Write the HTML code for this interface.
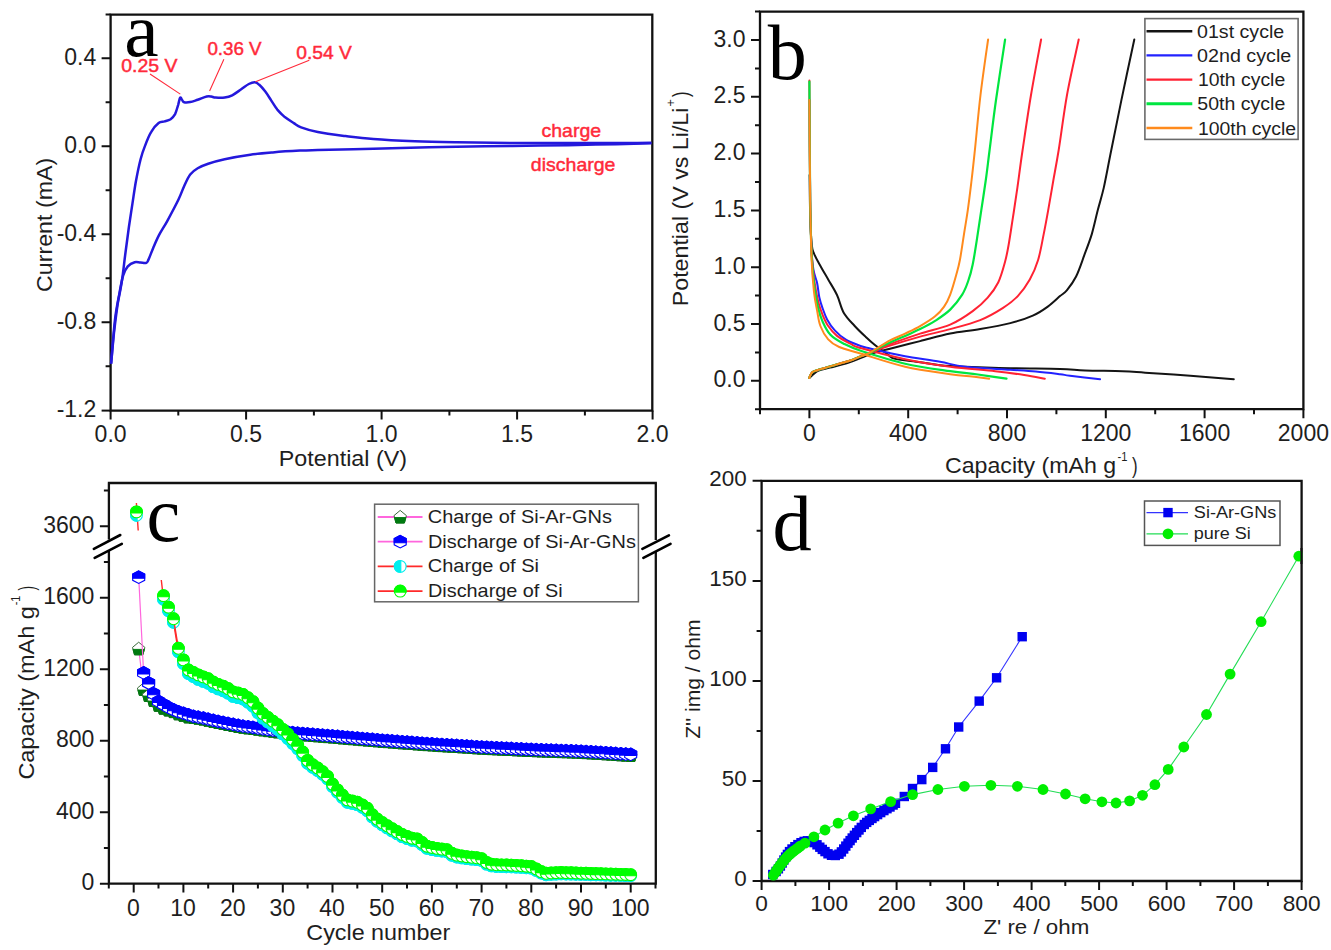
<!DOCTYPE html>
<html><head><meta charset="utf-8"><title>Figure</title>
<style>html,body{margin:0;padding:0;background:#fff;}svg{display:block;}
</style></head>
<body><svg width="1331" height="950" viewBox="0 0 1331 950" font-family="Liberation Sans, sans-serif">
<rect width="1331" height="950" fill="#fff"/>
<path d="M110.6,14.6 H652.3 V410.6 H110.6 Z" stroke="#111" stroke-width="2.3" fill="none"/>
<path d="M101.6,58.2H110.6M101.6,146.2H110.6M101.6,234.2H110.6M101.6,322.2H110.6M105.6,102.2H110.6M105.6,190.2H110.6M105.6,278.2H110.6M105.6,366.2H110.6M105.6,14.6H110.6" stroke="#111" stroke-width="2"/>
<path d="M101.6,410.6H110.6" stroke="#111" stroke-width="2"/>
<path d="M110.6,410.6V419.6M246.1,410.6V419.6M381.6,410.6V419.6M517.1,410.6V419.6M652.6,410.6V419.6M178.3,410.6V415.6M313.9,410.6V415.6M449.4,410.6V415.6M584.9,410.6V415.6" stroke="#111" stroke-width="2"/>
<text transform="translate(96.30,64.60) scale(1.0000,1)" font-size="23.00" text-anchor="end" fill="#1e1e1e" font-family="Liberation Sans">0.4</text>
<text transform="translate(96.30,152.60) scale(1.0000,1)" font-size="23.00" text-anchor="end" fill="#1e1e1e" font-family="Liberation Sans">0.0</text>
<text transform="translate(96.30,240.60) scale(1.0000,1)" font-size="23.00" text-anchor="end" fill="#1e1e1e" font-family="Liberation Sans">-0.4</text>
<text transform="translate(96.30,328.60) scale(1.0000,1)" font-size="23.00" text-anchor="end" fill="#1e1e1e" font-family="Liberation Sans">-0.8</text>
<text transform="translate(96.30,416.60) scale(1.0000,1)" font-size="23.00" text-anchor="end" fill="#1e1e1e" font-family="Liberation Sans">-1.2</text>
<text transform="translate(110.60,441.60) scale(1.0000,1)" font-size="23.00" text-anchor="middle" fill="#1e1e1e" font-family="Liberation Sans">0.0</text>
<text transform="translate(246.10,441.60) scale(1.0000,1)" font-size="23.00" text-anchor="middle" fill="#1e1e1e" font-family="Liberation Sans">0.5</text>
<text transform="translate(381.60,441.60) scale(1.0000,1)" font-size="23.00" text-anchor="middle" fill="#1e1e1e" font-family="Liberation Sans">1.0</text>
<text transform="translate(517.10,441.60) scale(1.0000,1)" font-size="23.00" text-anchor="middle" fill="#1e1e1e" font-family="Liberation Sans">1.5</text>
<text transform="translate(652.60,441.60) scale(1.0000,1)" font-size="23.00" text-anchor="middle" fill="#1e1e1e" font-family="Liberation Sans">2.0</text>
<text transform="translate(278.78,466.30) scale(1.0228,1)" font-size="22.80" fill="#1e1e1e" font-family="Liberation Sans">Potential (V)</text>
<text transform="translate(52.20,291.91) rotate(-90) scale(1.0181,1)" font-size="22.80" fill="#1e1e1e" font-family="Liberation Sans">Current (mA)</text>
<text transform="translate(124.14,55.60) scale(1.0061,1)" font-size="77.00" fill="#000" font-family="Liberation Serif">a</text>
<path d="M111.1,363.6 C111.6,358.6 112.9,343.1 113.9,333.5 C115.0,323.9 116.1,314.6 117.4,305.7 C118.8,296.8 120.7,289.2 122.0,280.3 C123.3,271.4 124.3,261.4 125.5,252.5 C126.7,243.6 127.8,235.1 128.9,227.0 C130.1,218.9 131.2,211.7 132.4,203.9 C133.6,196.1 134.7,187.6 136.1,180.2 C137.5,172.8 139.1,165.0 140.6,159.2 C142.1,153.4 143.3,150.1 145.1,145.6 C146.8,141.1 148.8,135.8 151.1,132.1 C153.3,128.3 156.3,124.9 158.6,123.1 C160.8,121.3 162.6,122.1 164.6,121.4 C166.6,120.8 168.8,120.4 170.6,119.2 C172.3,118.0 173.8,116.4 175.1,114.1 C176.3,111.8 177.2,107.8 178.1,105.1 C178.9,102.3 179.5,98.5 180.2,97.6 C180.8,96.7 181.3,99.0 182.0,99.8 C182.7,100.6 182.7,101.8 184.1,102.2 C185.5,102.6 187.9,102.5 190.2,102.1 C192.5,101.7 194.9,100.7 197.7,99.8 C200.4,98.9 204.4,97.0 206.7,96.5 C208.9,96.0 209.7,96.3 211.2,96.5 C212.7,96.7 213.4,97.4 215.7,97.6 C217.9,97.8 221.9,98.0 224.7,97.6 C227.4,97.2 229.4,96.7 232.2,95.3 C234.9,93.9 238.4,91.2 241.2,89.3 C244.0,87.4 246.5,85.2 248.8,84.0 C251.1,82.8 253.1,82.1 254.8,82.2 C256.6,82.3 257.6,83.2 259.3,84.8 C261.1,86.4 263.3,89.0 265.3,91.6 C267.3,94.2 269.3,97.6 271.3,100.6 C273.3,103.6 275.1,106.8 277.3,109.6 C279.6,112.3 282.1,114.8 284.8,117.1 C287.6,119.3 291.1,121.4 293.8,123.1 C296.5,124.8 297.1,125.8 301.1,127.3 C305.1,128.8 310.4,130.5 317.8,132.0 C325.2,133.5 336.3,134.9 345.6,136.1 C354.9,137.2 361.8,138.1 373.4,138.9 C385.0,139.8 401.2,140.6 415.1,141.2 C429.0,141.8 440.6,142.0 456.8,142.3 C473.0,142.6 493.9,142.9 512.4,143.0 C530.9,143.1 549.5,143.1 568.0,143.1 C586.5,143.1 609.7,143.1 623.6,143.1 C637.5,143.1 646.8,142.9 651.4,142.8" stroke="#2418dc" stroke-width="2.5" fill="none" stroke-linejoin="round"/>
<path d="M651.4,143.3 C642.1,143.5 614.3,144.2 595.8,144.6 C577.3,145.0 558.7,145.3 540.2,145.6 C521.7,145.9 503.1,145.9 484.6,146.2 C466.1,146.5 447.5,146.9 429.0,147.3 C410.5,147.7 391.9,148.2 373.4,148.7 C354.9,149.1 330.0,149.7 317.8,150.0 C305.6,150.3 307.5,150.2 300.0,150.6 C292.5,151.0 281.1,151.7 272.8,152.4 C264.5,153.1 258.3,153.6 250.3,154.7 C242.3,155.8 231.7,157.7 224.7,159.2 C217.7,160.7 212.7,162.2 208.2,163.7 C203.7,165.2 200.7,166.4 197.7,168.2 C194.7,170.0 192.5,171.4 190.2,174.4 C187.9,177.4 186.0,182.0 184.1,186.2 C182.2,190.4 181.3,193.7 178.5,199.5 C175.7,205.3 170.3,215.4 167.1,221.3 C163.8,227.2 161.3,230.7 159.0,235.1 C156.7,239.5 154.9,243.9 153.2,247.9 C151.5,251.9 149.8,256.9 148.6,259.4 C147.4,261.9 147.7,262.4 146.3,262.9 C145.0,263.4 142.4,262.7 140.5,262.6 C138.6,262.5 136.8,261.6 134.7,262.2 C132.6,262.8 129.7,264.2 127.8,266.4 C125.9,268.6 124.4,271.4 123.1,275.6 C121.8,279.9 121.0,284.6 119.7,291.9 C118.4,299.2 116.4,307.7 115.0,319.6 C113.6,331.6 111.8,356.3 111.1,363.6" stroke="#2418dc" stroke-width="2.5" fill="none" stroke-linejoin="round"/>
<path d="M150,74 L180.3,94.1 M223.9,59.3 L209.6,90.9 M309.3,60.3 L255.5,81.8" stroke="#ff2a3a" stroke-width="1.1" fill="none"/>
<text transform="translate(121.17,71.90) scale(1.0699,1)" font-size="18.20" fill="#ff2a3a" font-family="Liberation Sans" stroke="#ff2a3a" stroke-width="0.45">0.25 V</text>
<text transform="translate(207.40,54.60) scale(1.0313,1)" font-size="18.20" fill="#ff2a3a" font-family="Liberation Sans" stroke="#ff2a3a" stroke-width="0.45">0.36 V</text>
<text transform="translate(296.28,58.50) scale(1.0564,1)" font-size="18.20" fill="#ff2a3a" font-family="Liberation Sans" stroke="#ff2a3a" stroke-width="0.45">0.54 V</text>
<text transform="translate(541.57,137.10) scale(1.0693,1)" font-size="18.20" fill="#ff2a3a" font-family="Liberation Sans" stroke="#ff2a3a" stroke-width="0.45">charge</text>
<text transform="translate(530.87,171.20) scale(1.0718,1)" font-size="18.20" fill="#ff2a3a" font-family="Liberation Sans" stroke="#ff2a3a" stroke-width="0.45">discharge</text>
<path d="M760.0,11.6 H1303.4 V409.2 H760.0 Z" stroke="#111" stroke-width="2.3" fill="none"/>
<path d="M751.0,380.8H760.0M751.0,324.0H760.0M751.0,267.2H760.0M751.0,210.4H760.0M751.0,153.6H760.0M751.0,96.8H760.0M751.0,40.0H760.0M755.0,409.2H760.0M755.0,352.4H760.0M755.0,295.6H760.0M755.0,238.8H760.0M755.0,182.0H760.0M755.0,125.2H760.0M755.0,68.4H760.0M755.0,11.6H760.0" stroke="#111" stroke-width="2"/>
<path d="M809.4,409.2V418.2M908.2,409.2V418.2M1007.0,409.2V418.2M1105.8,409.2V418.2M1204.6,409.2V418.2M1303.4,409.2V418.2M760.0,409.2V414.2M858.8,409.2V414.2M957.6,409.2V414.2M1056.4,409.2V414.2M1155.2,409.2V414.2M1254.0,409.2V414.2" stroke="#111" stroke-width="2"/>
<text transform="translate(745.50,387.40) scale(1.0000,1)" font-size="23.00" text-anchor="end" fill="#1e1e1e" font-family="Liberation Sans">0.0</text>
<text transform="translate(745.50,330.60) scale(1.0000,1)" font-size="23.00" text-anchor="end" fill="#1e1e1e" font-family="Liberation Sans">0.5</text>
<text transform="translate(745.50,273.80) scale(1.0000,1)" font-size="23.00" text-anchor="end" fill="#1e1e1e" font-family="Liberation Sans">1.0</text>
<text transform="translate(745.50,217.00) scale(1.0000,1)" font-size="23.00" text-anchor="end" fill="#1e1e1e" font-family="Liberation Sans">1.5</text>
<text transform="translate(745.50,160.20) scale(1.0000,1)" font-size="23.00" text-anchor="end" fill="#1e1e1e" font-family="Liberation Sans">2.0</text>
<text transform="translate(745.50,103.40) scale(1.0000,1)" font-size="23.00" text-anchor="end" fill="#1e1e1e" font-family="Liberation Sans">2.5</text>
<text transform="translate(745.50,46.60) scale(1.0000,1)" font-size="23.00" text-anchor="end" fill="#1e1e1e" font-family="Liberation Sans">3.0</text>
<text transform="translate(809.40,440.60) scale(1.0000,1)" font-size="23.00" text-anchor="middle" fill="#1e1e1e" font-family="Liberation Sans">0</text>
<text transform="translate(908.20,440.60) scale(1.0000,1)" font-size="23.00" text-anchor="middle" fill="#1e1e1e" font-family="Liberation Sans">400</text>
<text transform="translate(1007.00,440.60) scale(1.0000,1)" font-size="23.00" text-anchor="middle" fill="#1e1e1e" font-family="Liberation Sans">800</text>
<text transform="translate(1105.80,440.60) scale(1.0000,1)" font-size="23.00" text-anchor="middle" fill="#1e1e1e" font-family="Liberation Sans">1200</text>
<text transform="translate(1204.60,440.60) scale(1.0000,1)" font-size="23.00" text-anchor="middle" fill="#1e1e1e" font-family="Liberation Sans">1600</text>
<text transform="translate(1303.40,440.60) scale(1.0000,1)" font-size="23.00" text-anchor="middle" fill="#1e1e1e" font-family="Liberation Sans">2000</text>
<text transform="translate(944.99,473.20) scale(1.0165,1)" font-size="22.80" fill="#1e1e1e" font-family="Liberation Sans">Capacity (mAh g</text>
<text transform="translate(1117.55,460.60) scale(0.8900,1)" font-size="12.50" fill="#1e1e1e" font-family="Liberation Sans">-1</text>
<text transform="translate(1132.08,473.20) scale(0.7422,1)" font-size="22.80" fill="#1e1e1e" font-family="Liberation Sans">)</text>
<text transform="translate(688.30,306.21) rotate(-90) scale(1.0179,1)" font-size="22.80" fill="#1e1e1e" font-family="Liberation Sans">Potential (V vs Li/Li</text>
<text transform="translate(675.20,106.38) rotate(-90) scale(1.0062,1)" font-size="12.50" fill="#1e1e1e" font-family="Liberation Sans">+</text>
<text transform="translate(688.30,96.92) rotate(-90) scale(0.7254,1)" font-size="22.80" fill="#1e1e1e" font-family="Liberation Sans">)</text>
<text transform="translate(767.85,79.10) scale(0.9879,1)" font-size="79.00" fill="#000" font-family="Liberation Serif">b</text>
<path d="M809.6,175.0 C809.7,182.5 809.9,208.3 810.3,220.0 C810.7,231.7 811.2,239.5 811.8,245.0 C812.4,250.5 812.5,249.8 813.8,253.0 C815.0,256.2 816.9,259.6 819.3,264.0 C821.7,268.4 825.2,274.3 828.2,279.5 C831.2,284.7 834.4,289.5 837.0,295.0 C839.6,300.5 840.8,307.5 843.7,312.7 C846.7,317.9 851.0,321.9 854.7,326.0 C858.4,330.1 862.5,333.9 865.8,337.0 C869.1,340.1 871.0,341.9 874.6,344.8 C878.2,347.7 884.0,351.9 887.4,354.2 C890.8,356.5 889.8,357.6 895.2,358.9 C900.7,360.2 912.6,361.1 920.1,362.2 C927.6,363.2 932.5,364.4 940.0,365.2 C947.5,365.9 953.5,366.2 965.2,366.7 C976.9,367.2 994.5,367.8 1010.3,368.2 C1026.1,368.6 1047.5,368.5 1060.0,368.9 C1072.5,369.3 1074.7,370.0 1085.1,370.4 C1095.5,370.8 1112.6,370.8 1122.6,371.2 C1132.6,371.6 1133.9,371.9 1145.2,372.7 C1156.5,373.4 1175.5,374.6 1190.3,375.7 C1205.1,376.8 1226.5,378.6 1233.8,379.2" stroke="#141414" stroke-width="2.0" fill="none" stroke-linejoin="round" stroke-linecap="round"/>
<path d="M809.2,378.0 C810.7,376.8 814.5,372.5 818.0,370.8 C821.5,369.1 825.0,368.9 830.0,367.6 C835.0,366.3 842.6,364.6 848.1,362.8 C853.6,361.0 858.6,358.7 863.1,357.0 C867.6,355.3 870.5,353.9 875.0,352.5 C879.5,351.1 882.5,350.6 890.0,348.7 C897.5,346.8 910.1,343.6 920.1,341.1 C930.1,338.6 940.2,335.6 950.2,333.6 C960.2,331.6 970.2,330.9 980.2,329.1 C990.2,327.4 1001.5,325.4 1010.3,323.1 C1019.1,320.9 1026.5,318.4 1032.8,315.6 C1039.0,312.9 1043.3,309.9 1047.8,306.6 C1052.3,303.4 1056.8,298.9 1060.0,296.1 C1063.2,293.4 1064.3,293.4 1067.0,290.1 C1069.7,286.8 1073.2,282.3 1076.1,276.5 C1079.0,270.7 1081.7,262.3 1084.3,255.2 C1086.9,248.1 1089.5,241.6 1091.8,234.1 C1094.0,226.6 1095.8,217.8 1097.8,210.1 C1099.8,202.3 1101.5,197.6 1103.8,187.6 C1106.0,177.6 1108.3,164.7 1111.3,150.0 C1114.2,135.3 1117.7,118.0 1121.5,99.6 C1125.3,81.2 1132.2,49.5 1134.3,39.5" stroke="#141414" stroke-width="2.0" fill="none" stroke-linejoin="round" stroke-linecap="round"/>
<path d="M809.5,100.0 C809.6,116.7 809.9,175.0 810.2,200.0 C810.5,225.0 811.0,238.3 811.5,250.0 C812.0,261.7 812.6,264.5 813.5,270.0 C814.4,275.5 816.1,278.5 817.1,283.0 C818.1,287.5 818.4,293.0 819.3,297.2 C820.2,301.4 821.3,304.6 822.6,308.3 C823.9,312.0 825.1,315.7 827.1,319.4 C829.1,323.1 831.7,327.0 834.8,330.4 C837.9,333.8 841.5,337.0 845.9,339.7 C850.3,342.4 857.4,344.8 861.4,346.3 C865.4,347.8 865.7,347.5 870.0,348.5 C874.3,349.5 881.5,351.2 887.4,352.5 C893.2,353.8 896.3,354.6 905.1,356.2 C913.9,357.8 930.0,360.1 940.0,361.8 C950.0,363.6 953.5,365.4 965.2,366.7 C976.9,368.0 998.5,368.9 1010.3,369.7 C1022.1,370.5 1027.5,370.8 1035.8,371.5 C1044.1,372.2 1054.3,373.5 1060.0,374.2 C1065.7,374.9 1063.3,374.9 1070.0,375.7 C1076.7,376.5 1095.1,378.6 1100.1,379.2" stroke="#2222ff" stroke-width="2.0" fill="none" stroke-linejoin="round" stroke-linecap="round"/>
<path d="M809.2,377.9 C809.7,377.0 810.7,373.8 812.0,372.5 C813.3,371.2 815.1,370.9 817.1,370.2 C819.1,369.5 820.8,369.1 824.0,368.2 C827.2,367.3 831.7,365.9 836.1,364.6 C840.5,363.3 846.3,361.8 850.3,360.5 C854.3,359.2 857.1,357.7 860.1,356.6 C863.1,355.5 865.5,354.6 868.0,353.7 C870.5,352.8 871.3,352.4 875.0,351.0 C878.7,349.6 882.5,348.0 890.0,345.6 C897.5,343.2 910.1,339.4 920.1,336.6 C930.1,333.9 940.2,331.9 950.2,329.1 C960.2,326.4 971.5,323.6 980.2,320.1 C989.0,316.6 996.4,312.1 1002.7,308.1 C1009.0,304.1 1013.3,300.9 1017.8,296.1 C1022.3,291.3 1026.4,285.5 1029.8,279.5 C1033.2,273.5 1035.8,267.6 1038.1,260.0 C1040.4,252.4 1042.0,242.4 1043.7,234.1 C1045.4,225.8 1046.6,219.1 1048.2,210.1 C1049.8,201.1 1051.7,190.0 1053.4,180.0 C1055.2,170.0 1056.4,164.2 1058.7,150.0 C1061.0,135.8 1063.7,113.4 1067.0,95.0 C1070.3,76.6 1076.8,48.8 1078.7,39.5" stroke="#ff2233" stroke-width="2.0" fill="none" stroke-linejoin="round" stroke-linecap="round"/>
<path d="M809.4,80.6 C809.5,100.5 809.8,170.9 810.2,200.0 C810.6,229.1 811.1,241.3 811.8,255.0 C812.5,268.7 813.4,274.2 814.5,282.0 C815.6,289.8 816.9,296.2 818.2,301.7 C819.6,307.2 820.9,310.8 822.6,314.9 C824.3,318.9 825.8,322.5 828.2,326.0 C830.6,329.5 833.3,332.9 837.0,335.9 C840.7,338.8 846.2,341.6 850.3,343.7 C854.4,345.8 852.3,345.7 861.4,348.3 C870.5,350.9 890.3,356.1 905.1,359.2 C919.9,362.3 935.2,364.7 950.2,366.7 C965.2,368.7 982.9,369.8 995.2,371.2 C1007.5,372.6 1015.9,373.8 1024.2,375.0 C1032.5,376.2 1041.4,378.1 1044.8,378.7" stroke="#ff2233" stroke-width="2.0" fill="none" stroke-linejoin="round" stroke-linecap="round"/>
<path d="M809.2,377.9 C809.7,377.0 810.7,373.8 812.0,372.5 C813.3,371.2 815.1,370.9 817.1,370.2 C819.1,369.5 820.8,369.1 824.0,368.2 C827.2,367.3 831.7,365.9 836.1,364.6 C840.5,363.3 846.3,361.8 850.3,360.5 C854.3,359.2 857.1,357.7 860.1,356.6 C863.1,355.5 865.5,354.7 868.0,353.7 C870.5,352.7 871.3,352.1 875.0,350.5 C878.7,348.9 882.5,346.9 890.0,344.1 C897.5,341.3 910.1,336.9 920.1,333.6 C930.1,330.4 941.4,328.4 950.2,324.6 C959.0,320.9 966.5,315.6 972.7,311.1 C979.0,306.6 983.5,302.4 987.7,297.6 C992.0,292.8 995.3,288.4 998.2,282.5 C1001.1,276.6 1003.3,268.2 1005.0,262.0 C1006.7,255.8 1007.3,252.4 1008.6,245.0 C1009.9,237.6 1011.4,227.2 1012.9,217.6 C1014.4,208.0 1015.8,198.9 1017.4,187.6 C1019.0,176.3 1020.3,165.4 1022.6,150.0 C1024.9,134.6 1027.9,113.4 1031.0,95.0 C1034.1,76.6 1039.4,48.8 1041.1,39.5" stroke="#ff2233" stroke-width="2.0" fill="none" stroke-linejoin="round" stroke-linecap="round"/>
<path d="M809.4,81.5 C809.5,101.2 809.8,170.6 810.2,200.0 C810.6,229.4 811.1,243.3 811.8,258.0 C812.5,272.7 813.4,279.6 814.5,288.0 C815.6,296.4 816.9,302.7 818.2,308.3 C819.6,313.9 820.6,317.2 822.6,321.6 C824.6,326.0 826.9,331.1 830.4,334.8 C833.9,338.5 838.5,341.0 843.7,343.7 C848.9,346.4 851.2,347.7 861.4,351.0 C871.6,354.3 890.3,360.3 905.1,363.7 C919.9,367.1 938.1,369.4 950.2,371.2 C962.3,373.0 968.5,373.2 977.9,374.5 C987.3,375.8 1001.7,378.0 1006.5,378.7" stroke="#00e640" stroke-width="2.2" fill="none" stroke-linejoin="round" stroke-linecap="round"/>
<path d="M809.2,377.9 C809.7,377.0 810.7,373.8 812.0,372.5 C813.3,371.2 815.1,370.9 817.1,370.2 C819.1,369.5 820.8,369.1 824.0,368.2 C827.2,367.3 831.7,365.9 836.1,364.6 C840.5,363.3 846.3,361.8 850.3,360.5 C854.3,359.2 857.1,357.7 860.1,356.6 C863.1,355.5 865.5,354.8 868.0,353.7 C870.5,352.6 871.3,351.9 875.0,350.0 C878.7,348.1 885.0,345.0 890.0,342.6 C895.0,340.2 900.1,338.1 905.1,335.9 C910.1,333.6 915.1,331.6 920.1,329.1 C925.1,326.6 930.1,324.1 935.1,320.9 C940.1,317.6 945.7,314.0 950.2,309.6 C954.7,305.2 959.2,299.4 962.2,294.6 C965.2,289.8 966.5,286.0 968.2,281.0 C970.0,276.0 971.3,271.3 972.7,264.5 C974.1,257.7 975.4,249.3 976.8,240.2 C978.2,231.1 979.8,220.1 981.3,210.1 C982.8,200.1 984.4,190.0 985.8,180.0 C987.2,170.0 987.9,163.3 989.6,150.0 C991.3,136.7 993.4,118.4 996.0,100.0 C998.6,81.6 1003.6,49.6 1005.1,39.5" stroke="#00e640" stroke-width="2.2" fill="none" stroke-linejoin="round" stroke-linecap="round"/>
<path d="M809.4,100.0 C809.5,116.7 809.8,173.3 810.2,200.0 C810.6,226.7 811.0,244.7 811.6,260.0 C812.2,275.3 813.1,283.6 814.0,292.0 C814.9,300.4 816.0,304.8 817.1,310.5 C818.2,316.2 818.5,321.2 820.4,326.0 C822.2,330.8 825.1,335.8 828.2,339.3 C831.3,342.8 833.7,344.6 839.2,347.0 C844.7,349.4 850.4,350.5 861.4,353.8 C872.4,357.1 890.3,363.3 905.1,366.7 C919.9,370.1 939.0,372.5 950.2,374.2 C961.4,375.9 965.6,375.9 972.1,376.6 C978.6,377.4 986.4,378.4 989.2,378.7" stroke="#ff8a1c" stroke-width="2.0" fill="none" stroke-linejoin="round" stroke-linecap="round"/>
<path d="M809.2,377.9 C809.7,377.0 810.7,373.8 812.0,372.5 C813.3,371.2 815.1,370.9 817.1,370.2 C819.1,369.5 820.8,369.1 824.0,368.2 C827.2,367.3 831.7,365.9 836.1,364.6 C840.5,363.3 846.3,361.8 850.3,360.5 C854.3,359.2 857.1,357.7 860.1,356.6 C863.1,355.5 865.5,354.9 868.0,353.7 C870.5,352.5 871.3,351.7 875.0,349.5 C878.7,347.3 885.0,343.0 890.0,340.4 C895.0,337.8 900.1,336.0 905.1,333.6 C910.1,331.2 915.1,329.0 920.1,326.1 C925.1,323.2 931.1,319.6 935.1,316.3 C939.1,313.1 941.6,310.2 944.1,306.6 C946.6,303.0 948.2,299.9 950.2,294.6 C952.2,289.3 954.6,280.8 956.2,275.0 C957.8,269.2 958.6,266.8 959.9,260.0 C961.2,253.2 962.7,242.4 964.0,234.1 C965.3,225.8 966.5,219.1 967.8,210.1 C969.1,201.1 970.4,190.0 971.6,180.0 C972.8,170.0 973.4,164.2 974.9,150.0 C976.4,135.8 978.3,113.4 980.5,95.0 C982.7,76.6 986.8,48.8 988.1,39.5" stroke="#ff8a1c" stroke-width="2.0" fill="none" stroke-linejoin="round" stroke-linecap="round"/>
<rect x="1144.9" y="18.6" width="153.2" height="120.8" fill="#fff" stroke="#6a6a6a" stroke-width="1.6"/>
<path d="M1146.5,31.2 H1192.3" stroke="#141414" stroke-width="2.4"/>
<text transform="translate(1197.07,37.80) scale(1.1142,1)" font-size="17.60" fill="#1e1e1e" font-family="Liberation Sans">01st cycle</text>
<path d="M1146.5,55.4 H1192.3" stroke="#2222ff" stroke-width="2.4"/>
<text transform="translate(1197.06,62.00) scale(1.1194,1)" font-size="17.60" fill="#1e1e1e" font-family="Liberation Sans">02nd cycle</text>
<path d="M1146.5,79.6 H1192.3" stroke="#ff2233" stroke-width="2.4"/>
<text transform="translate(1197.89,86.20) scale(1.1026,1)" font-size="17.60" fill="#1e1e1e" font-family="Liberation Sans">10th cycle</text>
<path d="M1146.5,103.8 H1192.3" stroke="#00e640" stroke-width="3.0"/>
<text transform="translate(1197.37,110.40) scale(1.1093,1)" font-size="17.60" fill="#1e1e1e" font-family="Liberation Sans">50th cycle</text>
<path d="M1146.5,128.0 H1192.3" stroke="#ff8a1c" stroke-width="2.4"/>
<text transform="translate(1197.89,134.60) scale(1.1030,1)" font-size="17.60" fill="#1e1e1e" font-family="Liberation Sans">100th cycle</text>
<path d="M107.8,483.0 H656.9 M107.8,883.6 H656.9 M108.9,483.0 V539.5 M108.9,551 V883.6 M655.8,483.0 V540 M655.8,552 V883.6" stroke="#111" stroke-width="2.3" fill="none"/>
<path d="M93.9,548.9 L120.3,535 M94.7,557.9 L121.8,543.9 M642.4,548.9 L668.9,535.3 M643.4,557.9 L670.5,543.9" stroke="#000" stroke-width="2.6" stroke-linecap="round"/>
<path d="M99.9,526.2H108.9M99.9,597.7H108.9M99.9,669.2H108.9M99.9,740.7H108.9M99.9,812.2H108.9M99.9,883.7H108.9M103.9,490.5H108.9M103.9,562.0H108.9M103.9,633.5H108.9M103.9,705.0H108.9M103.9,776.5H108.9M103.9,848.0H108.9" stroke="#111" stroke-width="2"/>
<path d="M133.7,883.6V892.6M183.4,883.6V892.6M233.1,883.6V892.6M282.8,883.6V892.6M332.5,883.6V892.6M382.2,883.6V892.6M431.9,883.6V892.6M481.6,883.6V892.6M531.3,883.6V892.6M581.0,883.6V892.6M630.7,883.6V892.6M108.8,883.6V888.6M158.5,883.6V888.6M208.2,883.6V888.6M257.9,883.6V888.6M307.6,883.6V888.6M357.3,883.6V888.6M407.0,883.6V888.6M456.8,883.6V888.6M506.4,883.6V888.6M556.1,883.6V888.6M605.8,883.6V888.6M655.5,883.6V888.6" stroke="#111" stroke-width="2"/>
<text transform="translate(94.30,532.80) scale(1.0000,1)" font-size="23.00" text-anchor="end" fill="#1e1e1e" font-family="Liberation Sans">3600</text>
<text transform="translate(94.30,604.30) scale(1.0000,1)" font-size="23.00" text-anchor="end" fill="#1e1e1e" font-family="Liberation Sans">1600</text>
<text transform="translate(94.30,675.80) scale(1.0000,1)" font-size="23.00" text-anchor="end" fill="#1e1e1e" font-family="Liberation Sans">1200</text>
<text transform="translate(94.30,747.30) scale(1.0000,1)" font-size="23.00" text-anchor="end" fill="#1e1e1e" font-family="Liberation Sans">800</text>
<text transform="translate(94.30,818.80) scale(1.0000,1)" font-size="23.00" text-anchor="end" fill="#1e1e1e" font-family="Liberation Sans">400</text>
<text transform="translate(94.30,890.30) scale(1.0000,1)" font-size="23.00" text-anchor="end" fill="#1e1e1e" font-family="Liberation Sans">0</text>
<text transform="translate(133.30,916.10) scale(1.0000,1)" font-size="23.00" text-anchor="middle" fill="#1e1e1e" font-family="Liberation Sans">0</text>
<text transform="translate(183.00,916.10) scale(1.0000,1)" font-size="23.00" text-anchor="middle" fill="#1e1e1e" font-family="Liberation Sans">10</text>
<text transform="translate(232.70,916.10) scale(1.0000,1)" font-size="23.00" text-anchor="middle" fill="#1e1e1e" font-family="Liberation Sans">20</text>
<text transform="translate(282.40,916.10) scale(1.0000,1)" font-size="23.00" text-anchor="middle" fill="#1e1e1e" font-family="Liberation Sans">30</text>
<text transform="translate(332.10,916.10) scale(1.0000,1)" font-size="23.00" text-anchor="middle" fill="#1e1e1e" font-family="Liberation Sans">40</text>
<text transform="translate(381.80,916.10) scale(1.0000,1)" font-size="23.00" text-anchor="middle" fill="#1e1e1e" font-family="Liberation Sans">50</text>
<text transform="translate(431.50,916.10) scale(1.0000,1)" font-size="23.00" text-anchor="middle" fill="#1e1e1e" font-family="Liberation Sans">60</text>
<text transform="translate(481.20,916.10) scale(1.0000,1)" font-size="23.00" text-anchor="middle" fill="#1e1e1e" font-family="Liberation Sans">70</text>
<text transform="translate(530.90,916.10) scale(1.0000,1)" font-size="23.00" text-anchor="middle" fill="#1e1e1e" font-family="Liberation Sans">80</text>
<text transform="translate(580.60,916.10) scale(1.0000,1)" font-size="23.00" text-anchor="middle" fill="#1e1e1e" font-family="Liberation Sans">90</text>
<text transform="translate(630.30,916.10) scale(1.0000,1)" font-size="23.00" text-anchor="middle" fill="#1e1e1e" font-family="Liberation Sans">100</text>
<text transform="translate(306.28,940.30) scale(1.0239,1)" font-size="22.80" fill="#1e1e1e" font-family="Liberation Sans">Cycle number</text>
<text transform="translate(33.50,779.62) rotate(-90) scale(1.0297,1)" font-size="22.80" fill="#1e1e1e" font-family="Liberation Sans">Capacity (mAh g</text>
<text transform="translate(20.40,605.33) rotate(-90) scale(0.8269,1)" font-size="13.00" fill="#1e1e1e" font-family="Liberation Sans">-1</text>
<text transform="translate(33.50,590.48) rotate(-90) scale(0.5904,1)" font-size="22.80" fill="#1e1e1e" font-family="Liberation Sans">)</text>
<text transform="translate(146.41,541.30) scale(0.9620,1)" font-size="79.00" fill="#000" font-family="Liberation Serif">c</text>
<path d="M138.7,648.8 L143.6,689.5 L148.6,695.5 L153.6,700.5 L158.5,705.3 L163.5,708.2 L168.5,710.0 L173.5,711.6 L178.4,713.8 L183.4,715.3 L188.4,716.9 L193.3,717.3 L198.3,718.2 L203.3,719.1 L208.2,720.2 L213.2,721.4 L218.2,722.5 L223.2,723.5 L228.1,724.5 L233.1,725.4 L238.1,726.4 L243.0,727.2 L248.0,727.9 L253.0,728.5 L257.9,729.2 L262.9,729.9 L267.9,730.6 L272.9,731.2 L277.8,731.9 L282.8,732.6 L287.8,733.2 L292.7,733.7 L297.7,734.2 L302.7,734.6 L307.6,735.0 L312.6,735.4 L317.6,735.8 L322.6,736.2 L327.5,736.6 L332.5,737.0 L337.5,737.4 L342.4,737.9 L347.4,738.3 L352.4,738.7 L357.3,739.1 L362.3,739.6 L367.3,740.0 L372.3,740.4 L377.2,740.8 L382.2,741.3 L387.2,741.6 L392.1,742.0 L397.1,742.4 L402.1,742.8 L407.0,743.1 L412.0,743.5 L417.0,743.9 L422.0,744.3 L426.9,744.6 L431.9,744.9 L436.9,745.3 L441.8,745.6 L446.8,745.9 L451.8,746.2 L456.8,746.5 L461.7,746.8 L466.7,747.1 L471.7,747.5 L476.6,747.8 L481.6,748.1 L486.6,748.3 L491.5,748.6 L496.5,748.8 L501.5,749.1 L506.4,749.3 L511.4,749.5 L516.4,749.8 L521.4,750.0 L526.3,750.3 L531.3,750.5 L536.3,750.7 L541.2,750.9 L546.2,751.1 L551.2,751.2 L556.1,751.4 L561.1,751.6 L566.1,751.7 L571.1,751.9 L576.0,752.1 L581.0,752.3 L586.0,752.6 L590.9,752.9 L595.9,753.2 L600.9,753.5 L605.8,753.8 L610.8,754.1 L615.8,754.5 L620.8,754.8 L625.7,755.1 L630.7,755.4" stroke="#ff66dd" stroke-width="1.2" fill="none"/>
<g transform="translate(138.7,648.8)"><path d="M0.00,-6.60 L6.20,-1.40 L4.20,6.00 L-4.20,6.00 L-6.20,-1.40 Z" fill="#fff" stroke="#3a6a3a" stroke-width="1"/><path d="M-5.66,0.60 L5.66,0.60 L4.20,6.00 L-4.20,6.00 Z" fill="#007a10" stroke="#007a10" stroke-width="1"/></g><g transform="translate(143.6,689.5)"><path d="M0.00,-6.60 L6.20,-1.40 L4.20,6.00 L-4.20,6.00 L-6.20,-1.40 Z" fill="#fff" stroke="#3a6a3a" stroke-width="1"/><path d="M-5.66,0.60 L5.66,0.60 L4.20,6.00 L-4.20,6.00 Z" fill="#007a10" stroke="#007a10" stroke-width="1"/></g><g transform="translate(148.6,695.5)"><path d="M0.00,-6.60 L6.20,-1.40 L4.20,6.00 L-4.20,6.00 L-6.20,-1.40 Z" fill="#fff" stroke="#3a6a3a" stroke-width="1"/><path d="M-5.66,0.60 L5.66,0.60 L4.20,6.00 L-4.20,6.00 Z" fill="#007a10" stroke="#007a10" stroke-width="1"/></g><g transform="translate(153.6,700.5)"><path d="M0.00,-6.60 L6.20,-1.40 L4.20,6.00 L-4.20,6.00 L-6.20,-1.40 Z" fill="#fff" stroke="#3a6a3a" stroke-width="1"/><path d="M-5.66,0.60 L5.66,0.60 L4.20,6.00 L-4.20,6.00 Z" fill="#007a10" stroke="#007a10" stroke-width="1"/></g><g transform="translate(158.5,705.3)"><path d="M0.00,-6.60 L6.20,-1.40 L4.20,6.00 L-4.20,6.00 L-6.20,-1.40 Z" fill="#fff" stroke="#3a6a3a" stroke-width="1"/><path d="M-5.66,0.60 L5.66,0.60 L4.20,6.00 L-4.20,6.00 Z" fill="#007a10" stroke="#007a10" stroke-width="1"/></g><g transform="translate(163.5,708.2)"><path d="M0.00,-6.60 L6.20,-1.40 L4.20,6.00 L-4.20,6.00 L-6.20,-1.40 Z" fill="#fff" stroke="#3a6a3a" stroke-width="1"/><path d="M-5.66,0.60 L5.66,0.60 L4.20,6.00 L-4.20,6.00 Z" fill="#007a10" stroke="#007a10" stroke-width="1"/></g><g transform="translate(168.5,710.0)"><path d="M0.00,-6.60 L6.20,-1.40 L4.20,6.00 L-4.20,6.00 L-6.20,-1.40 Z" fill="#fff" stroke="#3a6a3a" stroke-width="1"/><path d="M-5.66,0.60 L5.66,0.60 L4.20,6.00 L-4.20,6.00 Z" fill="#007a10" stroke="#007a10" stroke-width="1"/></g><g transform="translate(173.5,711.6)"><path d="M0.00,-6.60 L6.20,-1.40 L4.20,6.00 L-4.20,6.00 L-6.20,-1.40 Z" fill="#fff" stroke="#3a6a3a" stroke-width="1"/><path d="M-5.66,0.60 L5.66,0.60 L4.20,6.00 L-4.20,6.00 Z" fill="#007a10" stroke="#007a10" stroke-width="1"/></g><g transform="translate(178.4,713.8)"><path d="M0.00,-6.60 L6.20,-1.40 L4.20,6.00 L-4.20,6.00 L-6.20,-1.40 Z" fill="#fff" stroke="#3a6a3a" stroke-width="1"/><path d="M-5.66,0.60 L5.66,0.60 L4.20,6.00 L-4.20,6.00 Z" fill="#007a10" stroke="#007a10" stroke-width="1"/></g><g transform="translate(183.4,715.3)"><path d="M0.00,-6.60 L6.20,-1.40 L4.20,6.00 L-4.20,6.00 L-6.20,-1.40 Z" fill="#fff" stroke="#3a6a3a" stroke-width="1"/><path d="M-5.66,0.60 L5.66,0.60 L4.20,6.00 L-4.20,6.00 Z" fill="#007a10" stroke="#007a10" stroke-width="1"/></g><g transform="translate(188.4,716.9)"><path d="M0.00,-6.60 L6.20,-1.40 L4.20,6.00 L-4.20,6.00 L-6.20,-1.40 Z" fill="#fff" stroke="#3a6a3a" stroke-width="1"/><path d="M-5.66,0.60 L5.66,0.60 L4.20,6.00 L-4.20,6.00 Z" fill="#007a10" stroke="#007a10" stroke-width="1"/></g><g transform="translate(193.3,717.3)"><path d="M0.00,-6.60 L6.20,-1.40 L4.20,6.00 L-4.20,6.00 L-6.20,-1.40 Z" fill="#fff" stroke="#3a6a3a" stroke-width="1"/><path d="M-5.66,0.60 L5.66,0.60 L4.20,6.00 L-4.20,6.00 Z" fill="#007a10" stroke="#007a10" stroke-width="1"/></g><g transform="translate(198.3,718.2)"><path d="M0.00,-6.60 L6.20,-1.40 L4.20,6.00 L-4.20,6.00 L-6.20,-1.40 Z" fill="#fff" stroke="#3a6a3a" stroke-width="1"/><path d="M-5.66,0.60 L5.66,0.60 L4.20,6.00 L-4.20,6.00 Z" fill="#007a10" stroke="#007a10" stroke-width="1"/></g><g transform="translate(203.3,719.1)"><path d="M0.00,-6.60 L6.20,-1.40 L4.20,6.00 L-4.20,6.00 L-6.20,-1.40 Z" fill="#fff" stroke="#3a6a3a" stroke-width="1"/><path d="M-5.66,0.60 L5.66,0.60 L4.20,6.00 L-4.20,6.00 Z" fill="#007a10" stroke="#007a10" stroke-width="1"/></g><g transform="translate(208.2,720.2)"><path d="M0.00,-6.60 L6.20,-1.40 L4.20,6.00 L-4.20,6.00 L-6.20,-1.40 Z" fill="#fff" stroke="#3a6a3a" stroke-width="1"/><path d="M-5.66,0.60 L5.66,0.60 L4.20,6.00 L-4.20,6.00 Z" fill="#007a10" stroke="#007a10" stroke-width="1"/></g><g transform="translate(213.2,721.4)"><path d="M0.00,-6.60 L6.20,-1.40 L4.20,6.00 L-4.20,6.00 L-6.20,-1.40 Z" fill="#fff" stroke="#3a6a3a" stroke-width="1"/><path d="M-5.66,0.60 L5.66,0.60 L4.20,6.00 L-4.20,6.00 Z" fill="#007a10" stroke="#007a10" stroke-width="1"/></g><g transform="translate(218.2,722.5)"><path d="M0.00,-6.60 L6.20,-1.40 L4.20,6.00 L-4.20,6.00 L-6.20,-1.40 Z" fill="#fff" stroke="#3a6a3a" stroke-width="1"/><path d="M-5.66,0.60 L5.66,0.60 L4.20,6.00 L-4.20,6.00 Z" fill="#007a10" stroke="#007a10" stroke-width="1"/></g><g transform="translate(223.2,723.5)"><path d="M0.00,-6.60 L6.20,-1.40 L4.20,6.00 L-4.20,6.00 L-6.20,-1.40 Z" fill="#fff" stroke="#3a6a3a" stroke-width="1"/><path d="M-5.66,0.60 L5.66,0.60 L4.20,6.00 L-4.20,6.00 Z" fill="#007a10" stroke="#007a10" stroke-width="1"/></g><g transform="translate(228.1,724.5)"><path d="M0.00,-6.60 L6.20,-1.40 L4.20,6.00 L-4.20,6.00 L-6.20,-1.40 Z" fill="#fff" stroke="#3a6a3a" stroke-width="1"/><path d="M-5.66,0.60 L5.66,0.60 L4.20,6.00 L-4.20,6.00 Z" fill="#007a10" stroke="#007a10" stroke-width="1"/></g><g transform="translate(233.1,725.4)"><path d="M0.00,-6.60 L6.20,-1.40 L4.20,6.00 L-4.20,6.00 L-6.20,-1.40 Z" fill="#fff" stroke="#3a6a3a" stroke-width="1"/><path d="M-5.66,0.60 L5.66,0.60 L4.20,6.00 L-4.20,6.00 Z" fill="#007a10" stroke="#007a10" stroke-width="1"/></g><g transform="translate(238.1,726.4)"><path d="M0.00,-6.60 L6.20,-1.40 L4.20,6.00 L-4.20,6.00 L-6.20,-1.40 Z" fill="#fff" stroke="#3a6a3a" stroke-width="1"/><path d="M-5.66,0.60 L5.66,0.60 L4.20,6.00 L-4.20,6.00 Z" fill="#007a10" stroke="#007a10" stroke-width="1"/></g><g transform="translate(243.0,727.2)"><path d="M0.00,-6.60 L6.20,-1.40 L4.20,6.00 L-4.20,6.00 L-6.20,-1.40 Z" fill="#fff" stroke="#3a6a3a" stroke-width="1"/><path d="M-5.66,0.60 L5.66,0.60 L4.20,6.00 L-4.20,6.00 Z" fill="#007a10" stroke="#007a10" stroke-width="1"/></g><g transform="translate(248.0,727.9)"><path d="M0.00,-6.60 L6.20,-1.40 L4.20,6.00 L-4.20,6.00 L-6.20,-1.40 Z" fill="#fff" stroke="#3a6a3a" stroke-width="1"/><path d="M-5.66,0.60 L5.66,0.60 L4.20,6.00 L-4.20,6.00 Z" fill="#007a10" stroke="#007a10" stroke-width="1"/></g><g transform="translate(253.0,728.5)"><path d="M0.00,-6.60 L6.20,-1.40 L4.20,6.00 L-4.20,6.00 L-6.20,-1.40 Z" fill="#fff" stroke="#3a6a3a" stroke-width="1"/><path d="M-5.66,0.60 L5.66,0.60 L4.20,6.00 L-4.20,6.00 Z" fill="#007a10" stroke="#007a10" stroke-width="1"/></g><g transform="translate(257.9,729.2)"><path d="M0.00,-6.60 L6.20,-1.40 L4.20,6.00 L-4.20,6.00 L-6.20,-1.40 Z" fill="#fff" stroke="#3a6a3a" stroke-width="1"/><path d="M-5.66,0.60 L5.66,0.60 L4.20,6.00 L-4.20,6.00 Z" fill="#007a10" stroke="#007a10" stroke-width="1"/></g><g transform="translate(262.9,729.9)"><path d="M0.00,-6.60 L6.20,-1.40 L4.20,6.00 L-4.20,6.00 L-6.20,-1.40 Z" fill="#fff" stroke="#3a6a3a" stroke-width="1"/><path d="M-5.66,0.60 L5.66,0.60 L4.20,6.00 L-4.20,6.00 Z" fill="#007a10" stroke="#007a10" stroke-width="1"/></g><g transform="translate(267.9,730.6)"><path d="M0.00,-6.60 L6.20,-1.40 L4.20,6.00 L-4.20,6.00 L-6.20,-1.40 Z" fill="#fff" stroke="#3a6a3a" stroke-width="1"/><path d="M-5.66,0.60 L5.66,0.60 L4.20,6.00 L-4.20,6.00 Z" fill="#007a10" stroke="#007a10" stroke-width="1"/></g><g transform="translate(272.9,731.2)"><path d="M0.00,-6.60 L6.20,-1.40 L4.20,6.00 L-4.20,6.00 L-6.20,-1.40 Z" fill="#fff" stroke="#3a6a3a" stroke-width="1"/><path d="M-5.66,0.60 L5.66,0.60 L4.20,6.00 L-4.20,6.00 Z" fill="#007a10" stroke="#007a10" stroke-width="1"/></g><g transform="translate(277.8,731.9)"><path d="M0.00,-6.60 L6.20,-1.40 L4.20,6.00 L-4.20,6.00 L-6.20,-1.40 Z" fill="#fff" stroke="#3a6a3a" stroke-width="1"/><path d="M-5.66,0.60 L5.66,0.60 L4.20,6.00 L-4.20,6.00 Z" fill="#007a10" stroke="#007a10" stroke-width="1"/></g><g transform="translate(282.8,732.6)"><path d="M0.00,-6.60 L6.20,-1.40 L4.20,6.00 L-4.20,6.00 L-6.20,-1.40 Z" fill="#fff" stroke="#3a6a3a" stroke-width="1"/><path d="M-5.66,0.60 L5.66,0.60 L4.20,6.00 L-4.20,6.00 Z" fill="#007a10" stroke="#007a10" stroke-width="1"/></g><g transform="translate(287.8,733.2)"><path d="M0.00,-6.60 L6.20,-1.40 L4.20,6.00 L-4.20,6.00 L-6.20,-1.40 Z" fill="#fff" stroke="#3a6a3a" stroke-width="1"/><path d="M-5.66,0.60 L5.66,0.60 L4.20,6.00 L-4.20,6.00 Z" fill="#007a10" stroke="#007a10" stroke-width="1"/></g><g transform="translate(292.7,733.7)"><path d="M0.00,-6.60 L6.20,-1.40 L4.20,6.00 L-4.20,6.00 L-6.20,-1.40 Z" fill="#fff" stroke="#3a6a3a" stroke-width="1"/><path d="M-5.66,0.60 L5.66,0.60 L4.20,6.00 L-4.20,6.00 Z" fill="#007a10" stroke="#007a10" stroke-width="1"/></g><g transform="translate(297.7,734.2)"><path d="M0.00,-6.60 L6.20,-1.40 L4.20,6.00 L-4.20,6.00 L-6.20,-1.40 Z" fill="#fff" stroke="#3a6a3a" stroke-width="1"/><path d="M-5.66,0.60 L5.66,0.60 L4.20,6.00 L-4.20,6.00 Z" fill="#007a10" stroke="#007a10" stroke-width="1"/></g><g transform="translate(302.7,734.6)"><path d="M0.00,-6.60 L6.20,-1.40 L4.20,6.00 L-4.20,6.00 L-6.20,-1.40 Z" fill="#fff" stroke="#3a6a3a" stroke-width="1"/><path d="M-5.66,0.60 L5.66,0.60 L4.20,6.00 L-4.20,6.00 Z" fill="#007a10" stroke="#007a10" stroke-width="1"/></g><g transform="translate(307.6,735.0)"><path d="M0.00,-6.60 L6.20,-1.40 L4.20,6.00 L-4.20,6.00 L-6.20,-1.40 Z" fill="#fff" stroke="#3a6a3a" stroke-width="1"/><path d="M-5.66,0.60 L5.66,0.60 L4.20,6.00 L-4.20,6.00 Z" fill="#007a10" stroke="#007a10" stroke-width="1"/></g><g transform="translate(312.6,735.4)"><path d="M0.00,-6.60 L6.20,-1.40 L4.20,6.00 L-4.20,6.00 L-6.20,-1.40 Z" fill="#fff" stroke="#3a6a3a" stroke-width="1"/><path d="M-5.66,0.60 L5.66,0.60 L4.20,6.00 L-4.20,6.00 Z" fill="#007a10" stroke="#007a10" stroke-width="1"/></g><g transform="translate(317.6,735.8)"><path d="M0.00,-6.60 L6.20,-1.40 L4.20,6.00 L-4.20,6.00 L-6.20,-1.40 Z" fill="#fff" stroke="#3a6a3a" stroke-width="1"/><path d="M-5.66,0.60 L5.66,0.60 L4.20,6.00 L-4.20,6.00 Z" fill="#007a10" stroke="#007a10" stroke-width="1"/></g><g transform="translate(322.6,736.2)"><path d="M0.00,-6.60 L6.20,-1.40 L4.20,6.00 L-4.20,6.00 L-6.20,-1.40 Z" fill="#fff" stroke="#3a6a3a" stroke-width="1"/><path d="M-5.66,0.60 L5.66,0.60 L4.20,6.00 L-4.20,6.00 Z" fill="#007a10" stroke="#007a10" stroke-width="1"/></g><g transform="translate(327.5,736.6)"><path d="M0.00,-6.60 L6.20,-1.40 L4.20,6.00 L-4.20,6.00 L-6.20,-1.40 Z" fill="#fff" stroke="#3a6a3a" stroke-width="1"/><path d="M-5.66,0.60 L5.66,0.60 L4.20,6.00 L-4.20,6.00 Z" fill="#007a10" stroke="#007a10" stroke-width="1"/></g><g transform="translate(332.5,737.0)"><path d="M0.00,-6.60 L6.20,-1.40 L4.20,6.00 L-4.20,6.00 L-6.20,-1.40 Z" fill="#fff" stroke="#3a6a3a" stroke-width="1"/><path d="M-5.66,0.60 L5.66,0.60 L4.20,6.00 L-4.20,6.00 Z" fill="#007a10" stroke="#007a10" stroke-width="1"/></g><g transform="translate(337.5,737.4)"><path d="M0.00,-6.60 L6.20,-1.40 L4.20,6.00 L-4.20,6.00 L-6.20,-1.40 Z" fill="#fff" stroke="#3a6a3a" stroke-width="1"/><path d="M-5.66,0.60 L5.66,0.60 L4.20,6.00 L-4.20,6.00 Z" fill="#007a10" stroke="#007a10" stroke-width="1"/></g><g transform="translate(342.4,737.9)"><path d="M0.00,-6.60 L6.20,-1.40 L4.20,6.00 L-4.20,6.00 L-6.20,-1.40 Z" fill="#fff" stroke="#3a6a3a" stroke-width="1"/><path d="M-5.66,0.60 L5.66,0.60 L4.20,6.00 L-4.20,6.00 Z" fill="#007a10" stroke="#007a10" stroke-width="1"/></g><g transform="translate(347.4,738.3)"><path d="M0.00,-6.60 L6.20,-1.40 L4.20,6.00 L-4.20,6.00 L-6.20,-1.40 Z" fill="#fff" stroke="#3a6a3a" stroke-width="1"/><path d="M-5.66,0.60 L5.66,0.60 L4.20,6.00 L-4.20,6.00 Z" fill="#007a10" stroke="#007a10" stroke-width="1"/></g><g transform="translate(352.4,738.7)"><path d="M0.00,-6.60 L6.20,-1.40 L4.20,6.00 L-4.20,6.00 L-6.20,-1.40 Z" fill="#fff" stroke="#3a6a3a" stroke-width="1"/><path d="M-5.66,0.60 L5.66,0.60 L4.20,6.00 L-4.20,6.00 Z" fill="#007a10" stroke="#007a10" stroke-width="1"/></g><g transform="translate(357.3,739.1)"><path d="M0.00,-6.60 L6.20,-1.40 L4.20,6.00 L-4.20,6.00 L-6.20,-1.40 Z" fill="#fff" stroke="#3a6a3a" stroke-width="1"/><path d="M-5.66,0.60 L5.66,0.60 L4.20,6.00 L-4.20,6.00 Z" fill="#007a10" stroke="#007a10" stroke-width="1"/></g><g transform="translate(362.3,739.6)"><path d="M0.00,-6.60 L6.20,-1.40 L4.20,6.00 L-4.20,6.00 L-6.20,-1.40 Z" fill="#fff" stroke="#3a6a3a" stroke-width="1"/><path d="M-5.66,0.60 L5.66,0.60 L4.20,6.00 L-4.20,6.00 Z" fill="#007a10" stroke="#007a10" stroke-width="1"/></g><g transform="translate(367.3,740.0)"><path d="M0.00,-6.60 L6.20,-1.40 L4.20,6.00 L-4.20,6.00 L-6.20,-1.40 Z" fill="#fff" stroke="#3a6a3a" stroke-width="1"/><path d="M-5.66,0.60 L5.66,0.60 L4.20,6.00 L-4.20,6.00 Z" fill="#007a10" stroke="#007a10" stroke-width="1"/></g><g transform="translate(372.3,740.4)"><path d="M0.00,-6.60 L6.20,-1.40 L4.20,6.00 L-4.20,6.00 L-6.20,-1.40 Z" fill="#fff" stroke="#3a6a3a" stroke-width="1"/><path d="M-5.66,0.60 L5.66,0.60 L4.20,6.00 L-4.20,6.00 Z" fill="#007a10" stroke="#007a10" stroke-width="1"/></g><g transform="translate(377.2,740.8)"><path d="M0.00,-6.60 L6.20,-1.40 L4.20,6.00 L-4.20,6.00 L-6.20,-1.40 Z" fill="#fff" stroke="#3a6a3a" stroke-width="1"/><path d="M-5.66,0.60 L5.66,0.60 L4.20,6.00 L-4.20,6.00 Z" fill="#007a10" stroke="#007a10" stroke-width="1"/></g><g transform="translate(382.2,741.3)"><path d="M0.00,-6.60 L6.20,-1.40 L4.20,6.00 L-4.20,6.00 L-6.20,-1.40 Z" fill="#fff" stroke="#3a6a3a" stroke-width="1"/><path d="M-5.66,0.60 L5.66,0.60 L4.20,6.00 L-4.20,6.00 Z" fill="#007a10" stroke="#007a10" stroke-width="1"/></g><g transform="translate(387.2,741.6)"><path d="M0.00,-6.60 L6.20,-1.40 L4.20,6.00 L-4.20,6.00 L-6.20,-1.40 Z" fill="#fff" stroke="#3a6a3a" stroke-width="1"/><path d="M-5.66,0.60 L5.66,0.60 L4.20,6.00 L-4.20,6.00 Z" fill="#007a10" stroke="#007a10" stroke-width="1"/></g><g transform="translate(392.1,742.0)"><path d="M0.00,-6.60 L6.20,-1.40 L4.20,6.00 L-4.20,6.00 L-6.20,-1.40 Z" fill="#fff" stroke="#3a6a3a" stroke-width="1"/><path d="M-5.66,0.60 L5.66,0.60 L4.20,6.00 L-4.20,6.00 Z" fill="#007a10" stroke="#007a10" stroke-width="1"/></g><g transform="translate(397.1,742.4)"><path d="M0.00,-6.60 L6.20,-1.40 L4.20,6.00 L-4.20,6.00 L-6.20,-1.40 Z" fill="#fff" stroke="#3a6a3a" stroke-width="1"/><path d="M-5.66,0.60 L5.66,0.60 L4.20,6.00 L-4.20,6.00 Z" fill="#007a10" stroke="#007a10" stroke-width="1"/></g><g transform="translate(402.1,742.8)"><path d="M0.00,-6.60 L6.20,-1.40 L4.20,6.00 L-4.20,6.00 L-6.20,-1.40 Z" fill="#fff" stroke="#3a6a3a" stroke-width="1"/><path d="M-5.66,0.60 L5.66,0.60 L4.20,6.00 L-4.20,6.00 Z" fill="#007a10" stroke="#007a10" stroke-width="1"/></g><g transform="translate(407.0,743.1)"><path d="M0.00,-6.60 L6.20,-1.40 L4.20,6.00 L-4.20,6.00 L-6.20,-1.40 Z" fill="#fff" stroke="#3a6a3a" stroke-width="1"/><path d="M-5.66,0.60 L5.66,0.60 L4.20,6.00 L-4.20,6.00 Z" fill="#007a10" stroke="#007a10" stroke-width="1"/></g><g transform="translate(412.0,743.5)"><path d="M0.00,-6.60 L6.20,-1.40 L4.20,6.00 L-4.20,6.00 L-6.20,-1.40 Z" fill="#fff" stroke="#3a6a3a" stroke-width="1"/><path d="M-5.66,0.60 L5.66,0.60 L4.20,6.00 L-4.20,6.00 Z" fill="#007a10" stroke="#007a10" stroke-width="1"/></g><g transform="translate(417.0,743.9)"><path d="M0.00,-6.60 L6.20,-1.40 L4.20,6.00 L-4.20,6.00 L-6.20,-1.40 Z" fill="#fff" stroke="#3a6a3a" stroke-width="1"/><path d="M-5.66,0.60 L5.66,0.60 L4.20,6.00 L-4.20,6.00 Z" fill="#007a10" stroke="#007a10" stroke-width="1"/></g><g transform="translate(422.0,744.3)"><path d="M0.00,-6.60 L6.20,-1.40 L4.20,6.00 L-4.20,6.00 L-6.20,-1.40 Z" fill="#fff" stroke="#3a6a3a" stroke-width="1"/><path d="M-5.66,0.60 L5.66,0.60 L4.20,6.00 L-4.20,6.00 Z" fill="#007a10" stroke="#007a10" stroke-width="1"/></g><g transform="translate(426.9,744.6)"><path d="M0.00,-6.60 L6.20,-1.40 L4.20,6.00 L-4.20,6.00 L-6.20,-1.40 Z" fill="#fff" stroke="#3a6a3a" stroke-width="1"/><path d="M-5.66,0.60 L5.66,0.60 L4.20,6.00 L-4.20,6.00 Z" fill="#007a10" stroke="#007a10" stroke-width="1"/></g><g transform="translate(431.9,744.9)"><path d="M0.00,-6.60 L6.20,-1.40 L4.20,6.00 L-4.20,6.00 L-6.20,-1.40 Z" fill="#fff" stroke="#3a6a3a" stroke-width="1"/><path d="M-5.66,0.60 L5.66,0.60 L4.20,6.00 L-4.20,6.00 Z" fill="#007a10" stroke="#007a10" stroke-width="1"/></g><g transform="translate(436.9,745.3)"><path d="M0.00,-6.60 L6.20,-1.40 L4.20,6.00 L-4.20,6.00 L-6.20,-1.40 Z" fill="#fff" stroke="#3a6a3a" stroke-width="1"/><path d="M-5.66,0.60 L5.66,0.60 L4.20,6.00 L-4.20,6.00 Z" fill="#007a10" stroke="#007a10" stroke-width="1"/></g><g transform="translate(441.8,745.6)"><path d="M0.00,-6.60 L6.20,-1.40 L4.20,6.00 L-4.20,6.00 L-6.20,-1.40 Z" fill="#fff" stroke="#3a6a3a" stroke-width="1"/><path d="M-5.66,0.60 L5.66,0.60 L4.20,6.00 L-4.20,6.00 Z" fill="#007a10" stroke="#007a10" stroke-width="1"/></g><g transform="translate(446.8,745.9)"><path d="M0.00,-6.60 L6.20,-1.40 L4.20,6.00 L-4.20,6.00 L-6.20,-1.40 Z" fill="#fff" stroke="#3a6a3a" stroke-width="1"/><path d="M-5.66,0.60 L5.66,0.60 L4.20,6.00 L-4.20,6.00 Z" fill="#007a10" stroke="#007a10" stroke-width="1"/></g><g transform="translate(451.8,746.2)"><path d="M0.00,-6.60 L6.20,-1.40 L4.20,6.00 L-4.20,6.00 L-6.20,-1.40 Z" fill="#fff" stroke="#3a6a3a" stroke-width="1"/><path d="M-5.66,0.60 L5.66,0.60 L4.20,6.00 L-4.20,6.00 Z" fill="#007a10" stroke="#007a10" stroke-width="1"/></g><g transform="translate(456.8,746.5)"><path d="M0.00,-6.60 L6.20,-1.40 L4.20,6.00 L-4.20,6.00 L-6.20,-1.40 Z" fill="#fff" stroke="#3a6a3a" stroke-width="1"/><path d="M-5.66,0.60 L5.66,0.60 L4.20,6.00 L-4.20,6.00 Z" fill="#007a10" stroke="#007a10" stroke-width="1"/></g><g transform="translate(461.7,746.8)"><path d="M0.00,-6.60 L6.20,-1.40 L4.20,6.00 L-4.20,6.00 L-6.20,-1.40 Z" fill="#fff" stroke="#3a6a3a" stroke-width="1"/><path d="M-5.66,0.60 L5.66,0.60 L4.20,6.00 L-4.20,6.00 Z" fill="#007a10" stroke="#007a10" stroke-width="1"/></g><g transform="translate(466.7,747.1)"><path d="M0.00,-6.60 L6.20,-1.40 L4.20,6.00 L-4.20,6.00 L-6.20,-1.40 Z" fill="#fff" stroke="#3a6a3a" stroke-width="1"/><path d="M-5.66,0.60 L5.66,0.60 L4.20,6.00 L-4.20,6.00 Z" fill="#007a10" stroke="#007a10" stroke-width="1"/></g><g transform="translate(471.7,747.5)"><path d="M0.00,-6.60 L6.20,-1.40 L4.20,6.00 L-4.20,6.00 L-6.20,-1.40 Z" fill="#fff" stroke="#3a6a3a" stroke-width="1"/><path d="M-5.66,0.60 L5.66,0.60 L4.20,6.00 L-4.20,6.00 Z" fill="#007a10" stroke="#007a10" stroke-width="1"/></g><g transform="translate(476.6,747.8)"><path d="M0.00,-6.60 L6.20,-1.40 L4.20,6.00 L-4.20,6.00 L-6.20,-1.40 Z" fill="#fff" stroke="#3a6a3a" stroke-width="1"/><path d="M-5.66,0.60 L5.66,0.60 L4.20,6.00 L-4.20,6.00 Z" fill="#007a10" stroke="#007a10" stroke-width="1"/></g><g transform="translate(481.6,748.1)"><path d="M0.00,-6.60 L6.20,-1.40 L4.20,6.00 L-4.20,6.00 L-6.20,-1.40 Z" fill="#fff" stroke="#3a6a3a" stroke-width="1"/><path d="M-5.66,0.60 L5.66,0.60 L4.20,6.00 L-4.20,6.00 Z" fill="#007a10" stroke="#007a10" stroke-width="1"/></g><g transform="translate(486.6,748.3)"><path d="M0.00,-6.60 L6.20,-1.40 L4.20,6.00 L-4.20,6.00 L-6.20,-1.40 Z" fill="#fff" stroke="#3a6a3a" stroke-width="1"/><path d="M-5.66,0.60 L5.66,0.60 L4.20,6.00 L-4.20,6.00 Z" fill="#007a10" stroke="#007a10" stroke-width="1"/></g><g transform="translate(491.5,748.6)"><path d="M0.00,-6.60 L6.20,-1.40 L4.20,6.00 L-4.20,6.00 L-6.20,-1.40 Z" fill="#fff" stroke="#3a6a3a" stroke-width="1"/><path d="M-5.66,0.60 L5.66,0.60 L4.20,6.00 L-4.20,6.00 Z" fill="#007a10" stroke="#007a10" stroke-width="1"/></g><g transform="translate(496.5,748.8)"><path d="M0.00,-6.60 L6.20,-1.40 L4.20,6.00 L-4.20,6.00 L-6.20,-1.40 Z" fill="#fff" stroke="#3a6a3a" stroke-width="1"/><path d="M-5.66,0.60 L5.66,0.60 L4.20,6.00 L-4.20,6.00 Z" fill="#007a10" stroke="#007a10" stroke-width="1"/></g><g transform="translate(501.5,749.1)"><path d="M0.00,-6.60 L6.20,-1.40 L4.20,6.00 L-4.20,6.00 L-6.20,-1.40 Z" fill="#fff" stroke="#3a6a3a" stroke-width="1"/><path d="M-5.66,0.60 L5.66,0.60 L4.20,6.00 L-4.20,6.00 Z" fill="#007a10" stroke="#007a10" stroke-width="1"/></g><g transform="translate(506.4,749.3)"><path d="M0.00,-6.60 L6.20,-1.40 L4.20,6.00 L-4.20,6.00 L-6.20,-1.40 Z" fill="#fff" stroke="#3a6a3a" stroke-width="1"/><path d="M-5.66,0.60 L5.66,0.60 L4.20,6.00 L-4.20,6.00 Z" fill="#007a10" stroke="#007a10" stroke-width="1"/></g><g transform="translate(511.4,749.5)"><path d="M0.00,-6.60 L6.20,-1.40 L4.20,6.00 L-4.20,6.00 L-6.20,-1.40 Z" fill="#fff" stroke="#3a6a3a" stroke-width="1"/><path d="M-5.66,0.60 L5.66,0.60 L4.20,6.00 L-4.20,6.00 Z" fill="#007a10" stroke="#007a10" stroke-width="1"/></g><g transform="translate(516.4,749.8)"><path d="M0.00,-6.60 L6.20,-1.40 L4.20,6.00 L-4.20,6.00 L-6.20,-1.40 Z" fill="#fff" stroke="#3a6a3a" stroke-width="1"/><path d="M-5.66,0.60 L5.66,0.60 L4.20,6.00 L-4.20,6.00 Z" fill="#007a10" stroke="#007a10" stroke-width="1"/></g><g transform="translate(521.4,750.0)"><path d="M0.00,-6.60 L6.20,-1.40 L4.20,6.00 L-4.20,6.00 L-6.20,-1.40 Z" fill="#fff" stroke="#3a6a3a" stroke-width="1"/><path d="M-5.66,0.60 L5.66,0.60 L4.20,6.00 L-4.20,6.00 Z" fill="#007a10" stroke="#007a10" stroke-width="1"/></g><g transform="translate(526.3,750.3)"><path d="M0.00,-6.60 L6.20,-1.40 L4.20,6.00 L-4.20,6.00 L-6.20,-1.40 Z" fill="#fff" stroke="#3a6a3a" stroke-width="1"/><path d="M-5.66,0.60 L5.66,0.60 L4.20,6.00 L-4.20,6.00 Z" fill="#007a10" stroke="#007a10" stroke-width="1"/></g><g transform="translate(531.3,750.5)"><path d="M0.00,-6.60 L6.20,-1.40 L4.20,6.00 L-4.20,6.00 L-6.20,-1.40 Z" fill="#fff" stroke="#3a6a3a" stroke-width="1"/><path d="M-5.66,0.60 L5.66,0.60 L4.20,6.00 L-4.20,6.00 Z" fill="#007a10" stroke="#007a10" stroke-width="1"/></g><g transform="translate(536.3,750.7)"><path d="M0.00,-6.60 L6.20,-1.40 L4.20,6.00 L-4.20,6.00 L-6.20,-1.40 Z" fill="#fff" stroke="#3a6a3a" stroke-width="1"/><path d="M-5.66,0.60 L5.66,0.60 L4.20,6.00 L-4.20,6.00 Z" fill="#007a10" stroke="#007a10" stroke-width="1"/></g><g transform="translate(541.2,750.9)"><path d="M0.00,-6.60 L6.20,-1.40 L4.20,6.00 L-4.20,6.00 L-6.20,-1.40 Z" fill="#fff" stroke="#3a6a3a" stroke-width="1"/><path d="M-5.66,0.60 L5.66,0.60 L4.20,6.00 L-4.20,6.00 Z" fill="#007a10" stroke="#007a10" stroke-width="1"/></g><g transform="translate(546.2,751.1)"><path d="M0.00,-6.60 L6.20,-1.40 L4.20,6.00 L-4.20,6.00 L-6.20,-1.40 Z" fill="#fff" stroke="#3a6a3a" stroke-width="1"/><path d="M-5.66,0.60 L5.66,0.60 L4.20,6.00 L-4.20,6.00 Z" fill="#007a10" stroke="#007a10" stroke-width="1"/></g><g transform="translate(551.2,751.2)"><path d="M0.00,-6.60 L6.20,-1.40 L4.20,6.00 L-4.20,6.00 L-6.20,-1.40 Z" fill="#fff" stroke="#3a6a3a" stroke-width="1"/><path d="M-5.66,0.60 L5.66,0.60 L4.20,6.00 L-4.20,6.00 Z" fill="#007a10" stroke="#007a10" stroke-width="1"/></g><g transform="translate(556.1,751.4)"><path d="M0.00,-6.60 L6.20,-1.40 L4.20,6.00 L-4.20,6.00 L-6.20,-1.40 Z" fill="#fff" stroke="#3a6a3a" stroke-width="1"/><path d="M-5.66,0.60 L5.66,0.60 L4.20,6.00 L-4.20,6.00 Z" fill="#007a10" stroke="#007a10" stroke-width="1"/></g><g transform="translate(561.1,751.6)"><path d="M0.00,-6.60 L6.20,-1.40 L4.20,6.00 L-4.20,6.00 L-6.20,-1.40 Z" fill="#fff" stroke="#3a6a3a" stroke-width="1"/><path d="M-5.66,0.60 L5.66,0.60 L4.20,6.00 L-4.20,6.00 Z" fill="#007a10" stroke="#007a10" stroke-width="1"/></g><g transform="translate(566.1,751.7)"><path d="M0.00,-6.60 L6.20,-1.40 L4.20,6.00 L-4.20,6.00 L-6.20,-1.40 Z" fill="#fff" stroke="#3a6a3a" stroke-width="1"/><path d="M-5.66,0.60 L5.66,0.60 L4.20,6.00 L-4.20,6.00 Z" fill="#007a10" stroke="#007a10" stroke-width="1"/></g><g transform="translate(571.1,751.9)"><path d="M0.00,-6.60 L6.20,-1.40 L4.20,6.00 L-4.20,6.00 L-6.20,-1.40 Z" fill="#fff" stroke="#3a6a3a" stroke-width="1"/><path d="M-5.66,0.60 L5.66,0.60 L4.20,6.00 L-4.20,6.00 Z" fill="#007a10" stroke="#007a10" stroke-width="1"/></g><g transform="translate(576.0,752.1)"><path d="M0.00,-6.60 L6.20,-1.40 L4.20,6.00 L-4.20,6.00 L-6.20,-1.40 Z" fill="#fff" stroke="#3a6a3a" stroke-width="1"/><path d="M-5.66,0.60 L5.66,0.60 L4.20,6.00 L-4.20,6.00 Z" fill="#007a10" stroke="#007a10" stroke-width="1"/></g><g transform="translate(581.0,752.3)"><path d="M0.00,-6.60 L6.20,-1.40 L4.20,6.00 L-4.20,6.00 L-6.20,-1.40 Z" fill="#fff" stroke="#3a6a3a" stroke-width="1"/><path d="M-5.66,0.60 L5.66,0.60 L4.20,6.00 L-4.20,6.00 Z" fill="#007a10" stroke="#007a10" stroke-width="1"/></g><g transform="translate(586.0,752.6)"><path d="M0.00,-6.60 L6.20,-1.40 L4.20,6.00 L-4.20,6.00 L-6.20,-1.40 Z" fill="#fff" stroke="#3a6a3a" stroke-width="1"/><path d="M-5.66,0.60 L5.66,0.60 L4.20,6.00 L-4.20,6.00 Z" fill="#007a10" stroke="#007a10" stroke-width="1"/></g><g transform="translate(590.9,752.9)"><path d="M0.00,-6.60 L6.20,-1.40 L4.20,6.00 L-4.20,6.00 L-6.20,-1.40 Z" fill="#fff" stroke="#3a6a3a" stroke-width="1"/><path d="M-5.66,0.60 L5.66,0.60 L4.20,6.00 L-4.20,6.00 Z" fill="#007a10" stroke="#007a10" stroke-width="1"/></g><g transform="translate(595.9,753.2)"><path d="M0.00,-6.60 L6.20,-1.40 L4.20,6.00 L-4.20,6.00 L-6.20,-1.40 Z" fill="#fff" stroke="#3a6a3a" stroke-width="1"/><path d="M-5.66,0.60 L5.66,0.60 L4.20,6.00 L-4.20,6.00 Z" fill="#007a10" stroke="#007a10" stroke-width="1"/></g><g transform="translate(600.9,753.5)"><path d="M0.00,-6.60 L6.20,-1.40 L4.20,6.00 L-4.20,6.00 L-6.20,-1.40 Z" fill="#fff" stroke="#3a6a3a" stroke-width="1"/><path d="M-5.66,0.60 L5.66,0.60 L4.20,6.00 L-4.20,6.00 Z" fill="#007a10" stroke="#007a10" stroke-width="1"/></g><g transform="translate(605.8,753.8)"><path d="M0.00,-6.60 L6.20,-1.40 L4.20,6.00 L-4.20,6.00 L-6.20,-1.40 Z" fill="#fff" stroke="#3a6a3a" stroke-width="1"/><path d="M-5.66,0.60 L5.66,0.60 L4.20,6.00 L-4.20,6.00 Z" fill="#007a10" stroke="#007a10" stroke-width="1"/></g><g transform="translate(610.8,754.1)"><path d="M0.00,-6.60 L6.20,-1.40 L4.20,6.00 L-4.20,6.00 L-6.20,-1.40 Z" fill="#fff" stroke="#3a6a3a" stroke-width="1"/><path d="M-5.66,0.60 L5.66,0.60 L4.20,6.00 L-4.20,6.00 Z" fill="#007a10" stroke="#007a10" stroke-width="1"/></g><g transform="translate(615.8,754.5)"><path d="M0.00,-6.60 L6.20,-1.40 L4.20,6.00 L-4.20,6.00 L-6.20,-1.40 Z" fill="#fff" stroke="#3a6a3a" stroke-width="1"/><path d="M-5.66,0.60 L5.66,0.60 L4.20,6.00 L-4.20,6.00 Z" fill="#007a10" stroke="#007a10" stroke-width="1"/></g><g transform="translate(620.8,754.8)"><path d="M0.00,-6.60 L6.20,-1.40 L4.20,6.00 L-4.20,6.00 L-6.20,-1.40 Z" fill="#fff" stroke="#3a6a3a" stroke-width="1"/><path d="M-5.66,0.60 L5.66,0.60 L4.20,6.00 L-4.20,6.00 Z" fill="#007a10" stroke="#007a10" stroke-width="1"/></g><g transform="translate(625.7,755.1)"><path d="M0.00,-6.60 L6.20,-1.40 L4.20,6.00 L-4.20,6.00 L-6.20,-1.40 Z" fill="#fff" stroke="#3a6a3a" stroke-width="1"/><path d="M-5.66,0.60 L5.66,0.60 L4.20,6.00 L-4.20,6.00 Z" fill="#007a10" stroke="#007a10" stroke-width="1"/></g><g transform="translate(630.7,755.4)"><path d="M0.00,-6.60 L6.20,-1.40 L4.20,6.00 L-4.20,6.00 L-6.20,-1.40 Z" fill="#fff" stroke="#3a6a3a" stroke-width="1"/><path d="M-5.66,0.60 L5.66,0.60 L4.20,6.00 L-4.20,6.00 Z" fill="#007a10" stroke="#007a10" stroke-width="1"/></g>
<path d="M138.7,577.2 L143.6,672.9 L148.6,683.0 L153.6,693.8 L158.5,701.4 L163.5,704.5 L168.5,707.4 L173.5,709.8 L178.4,711.8 L183.4,713.3 L188.4,714.9 L193.3,716.3 L198.3,717.2 L203.3,718.1 L208.2,719.2 L213.2,720.4 L218.2,721.5 L223.2,722.5 L228.1,723.5 L233.1,724.4 L238.1,725.4 L243.0,726.2 L248.0,726.9 L253.0,727.5 L257.9,728.2 L262.9,728.9 L267.9,729.6 L272.9,730.2 L277.8,730.9 L282.8,731.6 L287.8,732.2 L292.7,732.7 L297.7,733.2 L302.7,733.6 L307.6,734.0 L312.6,734.4 L317.6,734.8 L322.6,735.2 L327.5,735.6 L332.5,736.0 L337.5,736.4 L342.4,736.9 L347.4,737.3 L352.4,737.7 L357.3,738.1 L362.3,738.6 L367.3,739.0 L372.3,739.4 L377.2,739.8 L382.2,740.3 L387.2,740.6 L392.1,741.0 L397.1,741.4 L402.1,741.8 L407.0,742.1 L412.0,742.5 L417.0,742.9 L422.0,743.3 L426.9,743.6 L431.9,743.9 L436.9,744.3 L441.8,744.6 L446.8,744.9 L451.8,745.2 L456.8,745.5 L461.7,745.8 L466.7,746.1 L471.7,746.5 L476.6,746.8 L481.6,747.1 L486.6,747.3 L491.5,747.6 L496.5,747.8 L501.5,748.1 L506.4,748.3 L511.4,748.5 L516.4,748.8 L521.4,749.0 L526.3,749.3 L531.3,749.5 L536.3,749.7 L541.2,749.9 L546.2,750.1 L551.2,750.2 L556.1,750.4 L561.1,750.6 L566.1,750.7 L571.1,750.9 L576.0,751.1 L581.0,751.3 L586.0,751.6 L590.9,751.9 L595.9,752.2 L600.9,752.5 L605.8,752.8 L610.8,753.1 L615.8,753.5 L620.8,753.8 L625.7,754.1 L630.7,754.4" stroke="#ff66dd" stroke-width="1.2" fill="none"/>
<g transform="translate(138.7,577.2)"><path d="M0.00,-6.30 L6.00,-3.10 L6.00,3.10 L0.00,6.30 L-6.00,3.10 L-6.00,-3.10 Z" fill="#fff" stroke="#0000ff" stroke-width="1.1"/><path d="M0.00,-6.30 L6.00,-3.10 L6.00,1.00 L-6.00,1.00 L-6.00,-3.10 Z" fill="#0000ff" stroke="#0000ff" stroke-width="1.1"/></g><g transform="translate(143.6,672.9)"><path d="M0.00,-6.30 L6.00,-3.10 L6.00,3.10 L0.00,6.30 L-6.00,3.10 L-6.00,-3.10 Z" fill="#fff" stroke="#0000ff" stroke-width="1.1"/><path d="M0.00,-6.30 L6.00,-3.10 L6.00,1.00 L-6.00,1.00 L-6.00,-3.10 Z" fill="#0000ff" stroke="#0000ff" stroke-width="1.1"/></g><g transform="translate(148.6,683.0)"><path d="M0.00,-6.30 L6.00,-3.10 L6.00,3.10 L0.00,6.30 L-6.00,3.10 L-6.00,-3.10 Z" fill="#fff" stroke="#0000ff" stroke-width="1.1"/><path d="M0.00,-6.30 L6.00,-3.10 L6.00,1.00 L-6.00,1.00 L-6.00,-3.10 Z" fill="#0000ff" stroke="#0000ff" stroke-width="1.1"/></g><g transform="translate(153.6,693.8)"><path d="M0.00,-6.30 L6.00,-3.10 L6.00,3.10 L0.00,6.30 L-6.00,3.10 L-6.00,-3.10 Z" fill="#fff" stroke="#0000ff" stroke-width="1.1"/><path d="M0.00,-6.30 L6.00,-3.10 L6.00,1.00 L-6.00,1.00 L-6.00,-3.10 Z" fill="#0000ff" stroke="#0000ff" stroke-width="1.1"/></g><g transform="translate(158.5,701.4)"><path d="M0.00,-6.30 L6.00,-3.10 L6.00,3.10 L0.00,6.30 L-6.00,3.10 L-6.00,-3.10 Z" fill="#fff" stroke="#0000ff" stroke-width="1.1"/><path d="M0.00,-6.30 L6.00,-3.10 L6.00,1.00 L-6.00,1.00 L-6.00,-3.10 Z" fill="#0000ff" stroke="#0000ff" stroke-width="1.1"/></g><g transform="translate(163.5,704.5)"><path d="M0.00,-6.30 L6.00,-3.10 L6.00,3.10 L0.00,6.30 L-6.00,3.10 L-6.00,-3.10 Z" fill="#fff" stroke="#0000ff" stroke-width="1.1"/><path d="M0.00,-6.30 L6.00,-3.10 L6.00,1.00 L-6.00,1.00 L-6.00,-3.10 Z" fill="#0000ff" stroke="#0000ff" stroke-width="1.1"/></g><g transform="translate(168.5,707.4)"><path d="M0.00,-6.30 L6.00,-3.10 L6.00,3.10 L0.00,6.30 L-6.00,3.10 L-6.00,-3.10 Z" fill="#fff" stroke="#0000ff" stroke-width="1.1"/><path d="M0.00,-6.30 L6.00,-3.10 L6.00,1.00 L-6.00,1.00 L-6.00,-3.10 Z" fill="#0000ff" stroke="#0000ff" stroke-width="1.1"/></g><g transform="translate(173.5,709.8)"><path d="M0.00,-6.30 L6.00,-3.10 L6.00,3.10 L0.00,6.30 L-6.00,3.10 L-6.00,-3.10 Z" fill="#fff" stroke="#0000ff" stroke-width="1.1"/><path d="M0.00,-6.30 L6.00,-3.10 L6.00,1.00 L-6.00,1.00 L-6.00,-3.10 Z" fill="#0000ff" stroke="#0000ff" stroke-width="1.1"/></g><g transform="translate(178.4,711.8)"><path d="M0.00,-6.30 L6.00,-3.10 L6.00,3.10 L0.00,6.30 L-6.00,3.10 L-6.00,-3.10 Z" fill="#fff" stroke="#0000ff" stroke-width="1.1"/><path d="M0.00,-6.30 L6.00,-3.10 L6.00,1.00 L-6.00,1.00 L-6.00,-3.10 Z" fill="#0000ff" stroke="#0000ff" stroke-width="1.1"/></g><g transform="translate(183.4,713.3)"><path d="M0.00,-6.30 L6.00,-3.10 L6.00,3.10 L0.00,6.30 L-6.00,3.10 L-6.00,-3.10 Z" fill="#fff" stroke="#0000ff" stroke-width="1.1"/><path d="M0.00,-6.30 L6.00,-3.10 L6.00,1.00 L-6.00,1.00 L-6.00,-3.10 Z" fill="#0000ff" stroke="#0000ff" stroke-width="1.1"/></g><g transform="translate(188.4,714.9)"><path d="M0.00,-6.30 L6.00,-3.10 L6.00,3.10 L0.00,6.30 L-6.00,3.10 L-6.00,-3.10 Z" fill="#fff" stroke="#0000ff" stroke-width="1.1"/><path d="M0.00,-6.30 L6.00,-3.10 L6.00,1.00 L-6.00,1.00 L-6.00,-3.10 Z" fill="#0000ff" stroke="#0000ff" stroke-width="1.1"/></g><g transform="translate(193.3,716.3)"><path d="M0.00,-6.30 L6.00,-3.10 L6.00,3.10 L0.00,6.30 L-6.00,3.10 L-6.00,-3.10 Z" fill="#fff" stroke="#0000ff" stroke-width="1.1"/><path d="M0.00,-6.30 L6.00,-3.10 L6.00,1.00 L-6.00,1.00 L-6.00,-3.10 Z" fill="#0000ff" stroke="#0000ff" stroke-width="1.1"/></g><g transform="translate(198.3,717.2)"><path d="M0.00,-6.30 L6.00,-3.10 L6.00,3.10 L0.00,6.30 L-6.00,3.10 L-6.00,-3.10 Z" fill="#fff" stroke="#0000ff" stroke-width="1.1"/><path d="M0.00,-6.30 L6.00,-3.10 L6.00,1.00 L-6.00,1.00 L-6.00,-3.10 Z" fill="#0000ff" stroke="#0000ff" stroke-width="1.1"/></g><g transform="translate(203.3,718.1)"><path d="M0.00,-6.30 L6.00,-3.10 L6.00,3.10 L0.00,6.30 L-6.00,3.10 L-6.00,-3.10 Z" fill="#fff" stroke="#0000ff" stroke-width="1.1"/><path d="M0.00,-6.30 L6.00,-3.10 L6.00,1.00 L-6.00,1.00 L-6.00,-3.10 Z" fill="#0000ff" stroke="#0000ff" stroke-width="1.1"/></g><g transform="translate(208.2,719.2)"><path d="M0.00,-6.30 L6.00,-3.10 L6.00,3.10 L0.00,6.30 L-6.00,3.10 L-6.00,-3.10 Z" fill="#fff" stroke="#0000ff" stroke-width="1.1"/><path d="M0.00,-6.30 L6.00,-3.10 L6.00,1.00 L-6.00,1.00 L-6.00,-3.10 Z" fill="#0000ff" stroke="#0000ff" stroke-width="1.1"/></g><g transform="translate(213.2,720.4)"><path d="M0.00,-6.30 L6.00,-3.10 L6.00,3.10 L0.00,6.30 L-6.00,3.10 L-6.00,-3.10 Z" fill="#fff" stroke="#0000ff" stroke-width="1.1"/><path d="M0.00,-6.30 L6.00,-3.10 L6.00,1.00 L-6.00,1.00 L-6.00,-3.10 Z" fill="#0000ff" stroke="#0000ff" stroke-width="1.1"/></g><g transform="translate(218.2,721.5)"><path d="M0.00,-6.30 L6.00,-3.10 L6.00,3.10 L0.00,6.30 L-6.00,3.10 L-6.00,-3.10 Z" fill="#fff" stroke="#0000ff" stroke-width="1.1"/><path d="M0.00,-6.30 L6.00,-3.10 L6.00,1.00 L-6.00,1.00 L-6.00,-3.10 Z" fill="#0000ff" stroke="#0000ff" stroke-width="1.1"/></g><g transform="translate(223.2,722.5)"><path d="M0.00,-6.30 L6.00,-3.10 L6.00,3.10 L0.00,6.30 L-6.00,3.10 L-6.00,-3.10 Z" fill="#fff" stroke="#0000ff" stroke-width="1.1"/><path d="M0.00,-6.30 L6.00,-3.10 L6.00,1.00 L-6.00,1.00 L-6.00,-3.10 Z" fill="#0000ff" stroke="#0000ff" stroke-width="1.1"/></g><g transform="translate(228.1,723.5)"><path d="M0.00,-6.30 L6.00,-3.10 L6.00,3.10 L0.00,6.30 L-6.00,3.10 L-6.00,-3.10 Z" fill="#fff" stroke="#0000ff" stroke-width="1.1"/><path d="M0.00,-6.30 L6.00,-3.10 L6.00,1.00 L-6.00,1.00 L-6.00,-3.10 Z" fill="#0000ff" stroke="#0000ff" stroke-width="1.1"/></g><g transform="translate(233.1,724.4)"><path d="M0.00,-6.30 L6.00,-3.10 L6.00,3.10 L0.00,6.30 L-6.00,3.10 L-6.00,-3.10 Z" fill="#fff" stroke="#0000ff" stroke-width="1.1"/><path d="M0.00,-6.30 L6.00,-3.10 L6.00,1.00 L-6.00,1.00 L-6.00,-3.10 Z" fill="#0000ff" stroke="#0000ff" stroke-width="1.1"/></g><g transform="translate(238.1,725.4)"><path d="M0.00,-6.30 L6.00,-3.10 L6.00,3.10 L0.00,6.30 L-6.00,3.10 L-6.00,-3.10 Z" fill="#fff" stroke="#0000ff" stroke-width="1.1"/><path d="M0.00,-6.30 L6.00,-3.10 L6.00,1.00 L-6.00,1.00 L-6.00,-3.10 Z" fill="#0000ff" stroke="#0000ff" stroke-width="1.1"/></g><g transform="translate(243.0,726.2)"><path d="M0.00,-6.30 L6.00,-3.10 L6.00,3.10 L0.00,6.30 L-6.00,3.10 L-6.00,-3.10 Z" fill="#fff" stroke="#0000ff" stroke-width="1.1"/><path d="M0.00,-6.30 L6.00,-3.10 L6.00,1.00 L-6.00,1.00 L-6.00,-3.10 Z" fill="#0000ff" stroke="#0000ff" stroke-width="1.1"/></g><g transform="translate(248.0,726.9)"><path d="M0.00,-6.30 L6.00,-3.10 L6.00,3.10 L0.00,6.30 L-6.00,3.10 L-6.00,-3.10 Z" fill="#fff" stroke="#0000ff" stroke-width="1.1"/><path d="M0.00,-6.30 L6.00,-3.10 L6.00,1.00 L-6.00,1.00 L-6.00,-3.10 Z" fill="#0000ff" stroke="#0000ff" stroke-width="1.1"/></g><g transform="translate(253.0,727.5)"><path d="M0.00,-6.30 L6.00,-3.10 L6.00,3.10 L0.00,6.30 L-6.00,3.10 L-6.00,-3.10 Z" fill="#fff" stroke="#0000ff" stroke-width="1.1"/><path d="M0.00,-6.30 L6.00,-3.10 L6.00,1.00 L-6.00,1.00 L-6.00,-3.10 Z" fill="#0000ff" stroke="#0000ff" stroke-width="1.1"/></g><g transform="translate(257.9,728.2)"><path d="M0.00,-6.30 L6.00,-3.10 L6.00,3.10 L0.00,6.30 L-6.00,3.10 L-6.00,-3.10 Z" fill="#fff" stroke="#0000ff" stroke-width="1.1"/><path d="M0.00,-6.30 L6.00,-3.10 L6.00,1.00 L-6.00,1.00 L-6.00,-3.10 Z" fill="#0000ff" stroke="#0000ff" stroke-width="1.1"/></g><g transform="translate(262.9,728.9)"><path d="M0.00,-6.30 L6.00,-3.10 L6.00,3.10 L0.00,6.30 L-6.00,3.10 L-6.00,-3.10 Z" fill="#fff" stroke="#0000ff" stroke-width="1.1"/><path d="M0.00,-6.30 L6.00,-3.10 L6.00,1.00 L-6.00,1.00 L-6.00,-3.10 Z" fill="#0000ff" stroke="#0000ff" stroke-width="1.1"/></g><g transform="translate(267.9,729.6)"><path d="M0.00,-6.30 L6.00,-3.10 L6.00,3.10 L0.00,6.30 L-6.00,3.10 L-6.00,-3.10 Z" fill="#fff" stroke="#0000ff" stroke-width="1.1"/><path d="M0.00,-6.30 L6.00,-3.10 L6.00,1.00 L-6.00,1.00 L-6.00,-3.10 Z" fill="#0000ff" stroke="#0000ff" stroke-width="1.1"/></g><g transform="translate(272.9,730.2)"><path d="M0.00,-6.30 L6.00,-3.10 L6.00,3.10 L0.00,6.30 L-6.00,3.10 L-6.00,-3.10 Z" fill="#fff" stroke="#0000ff" stroke-width="1.1"/><path d="M0.00,-6.30 L6.00,-3.10 L6.00,1.00 L-6.00,1.00 L-6.00,-3.10 Z" fill="#0000ff" stroke="#0000ff" stroke-width="1.1"/></g><g transform="translate(277.8,730.9)"><path d="M0.00,-6.30 L6.00,-3.10 L6.00,3.10 L0.00,6.30 L-6.00,3.10 L-6.00,-3.10 Z" fill="#fff" stroke="#0000ff" stroke-width="1.1"/><path d="M0.00,-6.30 L6.00,-3.10 L6.00,1.00 L-6.00,1.00 L-6.00,-3.10 Z" fill="#0000ff" stroke="#0000ff" stroke-width="1.1"/></g><g transform="translate(282.8,731.6)"><path d="M0.00,-6.30 L6.00,-3.10 L6.00,3.10 L0.00,6.30 L-6.00,3.10 L-6.00,-3.10 Z" fill="#fff" stroke="#0000ff" stroke-width="1.1"/><path d="M0.00,-6.30 L6.00,-3.10 L6.00,1.00 L-6.00,1.00 L-6.00,-3.10 Z" fill="#0000ff" stroke="#0000ff" stroke-width="1.1"/></g><g transform="translate(287.8,732.2)"><path d="M0.00,-6.30 L6.00,-3.10 L6.00,3.10 L0.00,6.30 L-6.00,3.10 L-6.00,-3.10 Z" fill="#fff" stroke="#0000ff" stroke-width="1.1"/><path d="M0.00,-6.30 L6.00,-3.10 L6.00,1.00 L-6.00,1.00 L-6.00,-3.10 Z" fill="#0000ff" stroke="#0000ff" stroke-width="1.1"/></g><g transform="translate(292.7,732.7)"><path d="M0.00,-6.30 L6.00,-3.10 L6.00,3.10 L0.00,6.30 L-6.00,3.10 L-6.00,-3.10 Z" fill="#fff" stroke="#0000ff" stroke-width="1.1"/><path d="M0.00,-6.30 L6.00,-3.10 L6.00,1.00 L-6.00,1.00 L-6.00,-3.10 Z" fill="#0000ff" stroke="#0000ff" stroke-width="1.1"/></g><g transform="translate(297.7,733.2)"><path d="M0.00,-6.30 L6.00,-3.10 L6.00,3.10 L0.00,6.30 L-6.00,3.10 L-6.00,-3.10 Z" fill="#fff" stroke="#0000ff" stroke-width="1.1"/><path d="M0.00,-6.30 L6.00,-3.10 L6.00,1.00 L-6.00,1.00 L-6.00,-3.10 Z" fill="#0000ff" stroke="#0000ff" stroke-width="1.1"/></g><g transform="translate(302.7,733.6)"><path d="M0.00,-6.30 L6.00,-3.10 L6.00,3.10 L0.00,6.30 L-6.00,3.10 L-6.00,-3.10 Z" fill="#fff" stroke="#0000ff" stroke-width="1.1"/><path d="M0.00,-6.30 L6.00,-3.10 L6.00,1.00 L-6.00,1.00 L-6.00,-3.10 Z" fill="#0000ff" stroke="#0000ff" stroke-width="1.1"/></g><g transform="translate(307.6,734.0)"><path d="M0.00,-6.30 L6.00,-3.10 L6.00,3.10 L0.00,6.30 L-6.00,3.10 L-6.00,-3.10 Z" fill="#fff" stroke="#0000ff" stroke-width="1.1"/><path d="M0.00,-6.30 L6.00,-3.10 L6.00,1.00 L-6.00,1.00 L-6.00,-3.10 Z" fill="#0000ff" stroke="#0000ff" stroke-width="1.1"/></g><g transform="translate(312.6,734.4)"><path d="M0.00,-6.30 L6.00,-3.10 L6.00,3.10 L0.00,6.30 L-6.00,3.10 L-6.00,-3.10 Z" fill="#fff" stroke="#0000ff" stroke-width="1.1"/><path d="M0.00,-6.30 L6.00,-3.10 L6.00,1.00 L-6.00,1.00 L-6.00,-3.10 Z" fill="#0000ff" stroke="#0000ff" stroke-width="1.1"/></g><g transform="translate(317.6,734.8)"><path d="M0.00,-6.30 L6.00,-3.10 L6.00,3.10 L0.00,6.30 L-6.00,3.10 L-6.00,-3.10 Z" fill="#fff" stroke="#0000ff" stroke-width="1.1"/><path d="M0.00,-6.30 L6.00,-3.10 L6.00,1.00 L-6.00,1.00 L-6.00,-3.10 Z" fill="#0000ff" stroke="#0000ff" stroke-width="1.1"/></g><g transform="translate(322.6,735.2)"><path d="M0.00,-6.30 L6.00,-3.10 L6.00,3.10 L0.00,6.30 L-6.00,3.10 L-6.00,-3.10 Z" fill="#fff" stroke="#0000ff" stroke-width="1.1"/><path d="M0.00,-6.30 L6.00,-3.10 L6.00,1.00 L-6.00,1.00 L-6.00,-3.10 Z" fill="#0000ff" stroke="#0000ff" stroke-width="1.1"/></g><g transform="translate(327.5,735.6)"><path d="M0.00,-6.30 L6.00,-3.10 L6.00,3.10 L0.00,6.30 L-6.00,3.10 L-6.00,-3.10 Z" fill="#fff" stroke="#0000ff" stroke-width="1.1"/><path d="M0.00,-6.30 L6.00,-3.10 L6.00,1.00 L-6.00,1.00 L-6.00,-3.10 Z" fill="#0000ff" stroke="#0000ff" stroke-width="1.1"/></g><g transform="translate(332.5,736.0)"><path d="M0.00,-6.30 L6.00,-3.10 L6.00,3.10 L0.00,6.30 L-6.00,3.10 L-6.00,-3.10 Z" fill="#fff" stroke="#0000ff" stroke-width="1.1"/><path d="M0.00,-6.30 L6.00,-3.10 L6.00,1.00 L-6.00,1.00 L-6.00,-3.10 Z" fill="#0000ff" stroke="#0000ff" stroke-width="1.1"/></g><g transform="translate(337.5,736.4)"><path d="M0.00,-6.30 L6.00,-3.10 L6.00,3.10 L0.00,6.30 L-6.00,3.10 L-6.00,-3.10 Z" fill="#fff" stroke="#0000ff" stroke-width="1.1"/><path d="M0.00,-6.30 L6.00,-3.10 L6.00,1.00 L-6.00,1.00 L-6.00,-3.10 Z" fill="#0000ff" stroke="#0000ff" stroke-width="1.1"/></g><g transform="translate(342.4,736.9)"><path d="M0.00,-6.30 L6.00,-3.10 L6.00,3.10 L0.00,6.30 L-6.00,3.10 L-6.00,-3.10 Z" fill="#fff" stroke="#0000ff" stroke-width="1.1"/><path d="M0.00,-6.30 L6.00,-3.10 L6.00,1.00 L-6.00,1.00 L-6.00,-3.10 Z" fill="#0000ff" stroke="#0000ff" stroke-width="1.1"/></g><g transform="translate(347.4,737.3)"><path d="M0.00,-6.30 L6.00,-3.10 L6.00,3.10 L0.00,6.30 L-6.00,3.10 L-6.00,-3.10 Z" fill="#fff" stroke="#0000ff" stroke-width="1.1"/><path d="M0.00,-6.30 L6.00,-3.10 L6.00,1.00 L-6.00,1.00 L-6.00,-3.10 Z" fill="#0000ff" stroke="#0000ff" stroke-width="1.1"/></g><g transform="translate(352.4,737.7)"><path d="M0.00,-6.30 L6.00,-3.10 L6.00,3.10 L0.00,6.30 L-6.00,3.10 L-6.00,-3.10 Z" fill="#fff" stroke="#0000ff" stroke-width="1.1"/><path d="M0.00,-6.30 L6.00,-3.10 L6.00,1.00 L-6.00,1.00 L-6.00,-3.10 Z" fill="#0000ff" stroke="#0000ff" stroke-width="1.1"/></g><g transform="translate(357.3,738.1)"><path d="M0.00,-6.30 L6.00,-3.10 L6.00,3.10 L0.00,6.30 L-6.00,3.10 L-6.00,-3.10 Z" fill="#fff" stroke="#0000ff" stroke-width="1.1"/><path d="M0.00,-6.30 L6.00,-3.10 L6.00,1.00 L-6.00,1.00 L-6.00,-3.10 Z" fill="#0000ff" stroke="#0000ff" stroke-width="1.1"/></g><g transform="translate(362.3,738.6)"><path d="M0.00,-6.30 L6.00,-3.10 L6.00,3.10 L0.00,6.30 L-6.00,3.10 L-6.00,-3.10 Z" fill="#fff" stroke="#0000ff" stroke-width="1.1"/><path d="M0.00,-6.30 L6.00,-3.10 L6.00,1.00 L-6.00,1.00 L-6.00,-3.10 Z" fill="#0000ff" stroke="#0000ff" stroke-width="1.1"/></g><g transform="translate(367.3,739.0)"><path d="M0.00,-6.30 L6.00,-3.10 L6.00,3.10 L0.00,6.30 L-6.00,3.10 L-6.00,-3.10 Z" fill="#fff" stroke="#0000ff" stroke-width="1.1"/><path d="M0.00,-6.30 L6.00,-3.10 L6.00,1.00 L-6.00,1.00 L-6.00,-3.10 Z" fill="#0000ff" stroke="#0000ff" stroke-width="1.1"/></g><g transform="translate(372.3,739.4)"><path d="M0.00,-6.30 L6.00,-3.10 L6.00,3.10 L0.00,6.30 L-6.00,3.10 L-6.00,-3.10 Z" fill="#fff" stroke="#0000ff" stroke-width="1.1"/><path d="M0.00,-6.30 L6.00,-3.10 L6.00,1.00 L-6.00,1.00 L-6.00,-3.10 Z" fill="#0000ff" stroke="#0000ff" stroke-width="1.1"/></g><g transform="translate(377.2,739.8)"><path d="M0.00,-6.30 L6.00,-3.10 L6.00,3.10 L0.00,6.30 L-6.00,3.10 L-6.00,-3.10 Z" fill="#fff" stroke="#0000ff" stroke-width="1.1"/><path d="M0.00,-6.30 L6.00,-3.10 L6.00,1.00 L-6.00,1.00 L-6.00,-3.10 Z" fill="#0000ff" stroke="#0000ff" stroke-width="1.1"/></g><g transform="translate(382.2,740.3)"><path d="M0.00,-6.30 L6.00,-3.10 L6.00,3.10 L0.00,6.30 L-6.00,3.10 L-6.00,-3.10 Z" fill="#fff" stroke="#0000ff" stroke-width="1.1"/><path d="M0.00,-6.30 L6.00,-3.10 L6.00,1.00 L-6.00,1.00 L-6.00,-3.10 Z" fill="#0000ff" stroke="#0000ff" stroke-width="1.1"/></g><g transform="translate(387.2,740.6)"><path d="M0.00,-6.30 L6.00,-3.10 L6.00,3.10 L0.00,6.30 L-6.00,3.10 L-6.00,-3.10 Z" fill="#fff" stroke="#0000ff" stroke-width="1.1"/><path d="M0.00,-6.30 L6.00,-3.10 L6.00,1.00 L-6.00,1.00 L-6.00,-3.10 Z" fill="#0000ff" stroke="#0000ff" stroke-width="1.1"/></g><g transform="translate(392.1,741.0)"><path d="M0.00,-6.30 L6.00,-3.10 L6.00,3.10 L0.00,6.30 L-6.00,3.10 L-6.00,-3.10 Z" fill="#fff" stroke="#0000ff" stroke-width="1.1"/><path d="M0.00,-6.30 L6.00,-3.10 L6.00,1.00 L-6.00,1.00 L-6.00,-3.10 Z" fill="#0000ff" stroke="#0000ff" stroke-width="1.1"/></g><g transform="translate(397.1,741.4)"><path d="M0.00,-6.30 L6.00,-3.10 L6.00,3.10 L0.00,6.30 L-6.00,3.10 L-6.00,-3.10 Z" fill="#fff" stroke="#0000ff" stroke-width="1.1"/><path d="M0.00,-6.30 L6.00,-3.10 L6.00,1.00 L-6.00,1.00 L-6.00,-3.10 Z" fill="#0000ff" stroke="#0000ff" stroke-width="1.1"/></g><g transform="translate(402.1,741.8)"><path d="M0.00,-6.30 L6.00,-3.10 L6.00,3.10 L0.00,6.30 L-6.00,3.10 L-6.00,-3.10 Z" fill="#fff" stroke="#0000ff" stroke-width="1.1"/><path d="M0.00,-6.30 L6.00,-3.10 L6.00,1.00 L-6.00,1.00 L-6.00,-3.10 Z" fill="#0000ff" stroke="#0000ff" stroke-width="1.1"/></g><g transform="translate(407.0,742.1)"><path d="M0.00,-6.30 L6.00,-3.10 L6.00,3.10 L0.00,6.30 L-6.00,3.10 L-6.00,-3.10 Z" fill="#fff" stroke="#0000ff" stroke-width="1.1"/><path d="M0.00,-6.30 L6.00,-3.10 L6.00,1.00 L-6.00,1.00 L-6.00,-3.10 Z" fill="#0000ff" stroke="#0000ff" stroke-width="1.1"/></g><g transform="translate(412.0,742.5)"><path d="M0.00,-6.30 L6.00,-3.10 L6.00,3.10 L0.00,6.30 L-6.00,3.10 L-6.00,-3.10 Z" fill="#fff" stroke="#0000ff" stroke-width="1.1"/><path d="M0.00,-6.30 L6.00,-3.10 L6.00,1.00 L-6.00,1.00 L-6.00,-3.10 Z" fill="#0000ff" stroke="#0000ff" stroke-width="1.1"/></g><g transform="translate(417.0,742.9)"><path d="M0.00,-6.30 L6.00,-3.10 L6.00,3.10 L0.00,6.30 L-6.00,3.10 L-6.00,-3.10 Z" fill="#fff" stroke="#0000ff" stroke-width="1.1"/><path d="M0.00,-6.30 L6.00,-3.10 L6.00,1.00 L-6.00,1.00 L-6.00,-3.10 Z" fill="#0000ff" stroke="#0000ff" stroke-width="1.1"/></g><g transform="translate(422.0,743.3)"><path d="M0.00,-6.30 L6.00,-3.10 L6.00,3.10 L0.00,6.30 L-6.00,3.10 L-6.00,-3.10 Z" fill="#fff" stroke="#0000ff" stroke-width="1.1"/><path d="M0.00,-6.30 L6.00,-3.10 L6.00,1.00 L-6.00,1.00 L-6.00,-3.10 Z" fill="#0000ff" stroke="#0000ff" stroke-width="1.1"/></g><g transform="translate(426.9,743.6)"><path d="M0.00,-6.30 L6.00,-3.10 L6.00,3.10 L0.00,6.30 L-6.00,3.10 L-6.00,-3.10 Z" fill="#fff" stroke="#0000ff" stroke-width="1.1"/><path d="M0.00,-6.30 L6.00,-3.10 L6.00,1.00 L-6.00,1.00 L-6.00,-3.10 Z" fill="#0000ff" stroke="#0000ff" stroke-width="1.1"/></g><g transform="translate(431.9,743.9)"><path d="M0.00,-6.30 L6.00,-3.10 L6.00,3.10 L0.00,6.30 L-6.00,3.10 L-6.00,-3.10 Z" fill="#fff" stroke="#0000ff" stroke-width="1.1"/><path d="M0.00,-6.30 L6.00,-3.10 L6.00,1.00 L-6.00,1.00 L-6.00,-3.10 Z" fill="#0000ff" stroke="#0000ff" stroke-width="1.1"/></g><g transform="translate(436.9,744.3)"><path d="M0.00,-6.30 L6.00,-3.10 L6.00,3.10 L0.00,6.30 L-6.00,3.10 L-6.00,-3.10 Z" fill="#fff" stroke="#0000ff" stroke-width="1.1"/><path d="M0.00,-6.30 L6.00,-3.10 L6.00,1.00 L-6.00,1.00 L-6.00,-3.10 Z" fill="#0000ff" stroke="#0000ff" stroke-width="1.1"/></g><g transform="translate(441.8,744.6)"><path d="M0.00,-6.30 L6.00,-3.10 L6.00,3.10 L0.00,6.30 L-6.00,3.10 L-6.00,-3.10 Z" fill="#fff" stroke="#0000ff" stroke-width="1.1"/><path d="M0.00,-6.30 L6.00,-3.10 L6.00,1.00 L-6.00,1.00 L-6.00,-3.10 Z" fill="#0000ff" stroke="#0000ff" stroke-width="1.1"/></g><g transform="translate(446.8,744.9)"><path d="M0.00,-6.30 L6.00,-3.10 L6.00,3.10 L0.00,6.30 L-6.00,3.10 L-6.00,-3.10 Z" fill="#fff" stroke="#0000ff" stroke-width="1.1"/><path d="M0.00,-6.30 L6.00,-3.10 L6.00,1.00 L-6.00,1.00 L-6.00,-3.10 Z" fill="#0000ff" stroke="#0000ff" stroke-width="1.1"/></g><g transform="translate(451.8,745.2)"><path d="M0.00,-6.30 L6.00,-3.10 L6.00,3.10 L0.00,6.30 L-6.00,3.10 L-6.00,-3.10 Z" fill="#fff" stroke="#0000ff" stroke-width="1.1"/><path d="M0.00,-6.30 L6.00,-3.10 L6.00,1.00 L-6.00,1.00 L-6.00,-3.10 Z" fill="#0000ff" stroke="#0000ff" stroke-width="1.1"/></g><g transform="translate(456.8,745.5)"><path d="M0.00,-6.30 L6.00,-3.10 L6.00,3.10 L0.00,6.30 L-6.00,3.10 L-6.00,-3.10 Z" fill="#fff" stroke="#0000ff" stroke-width="1.1"/><path d="M0.00,-6.30 L6.00,-3.10 L6.00,1.00 L-6.00,1.00 L-6.00,-3.10 Z" fill="#0000ff" stroke="#0000ff" stroke-width="1.1"/></g><g transform="translate(461.7,745.8)"><path d="M0.00,-6.30 L6.00,-3.10 L6.00,3.10 L0.00,6.30 L-6.00,3.10 L-6.00,-3.10 Z" fill="#fff" stroke="#0000ff" stroke-width="1.1"/><path d="M0.00,-6.30 L6.00,-3.10 L6.00,1.00 L-6.00,1.00 L-6.00,-3.10 Z" fill="#0000ff" stroke="#0000ff" stroke-width="1.1"/></g><g transform="translate(466.7,746.1)"><path d="M0.00,-6.30 L6.00,-3.10 L6.00,3.10 L0.00,6.30 L-6.00,3.10 L-6.00,-3.10 Z" fill="#fff" stroke="#0000ff" stroke-width="1.1"/><path d="M0.00,-6.30 L6.00,-3.10 L6.00,1.00 L-6.00,1.00 L-6.00,-3.10 Z" fill="#0000ff" stroke="#0000ff" stroke-width="1.1"/></g><g transform="translate(471.7,746.5)"><path d="M0.00,-6.30 L6.00,-3.10 L6.00,3.10 L0.00,6.30 L-6.00,3.10 L-6.00,-3.10 Z" fill="#fff" stroke="#0000ff" stroke-width="1.1"/><path d="M0.00,-6.30 L6.00,-3.10 L6.00,1.00 L-6.00,1.00 L-6.00,-3.10 Z" fill="#0000ff" stroke="#0000ff" stroke-width="1.1"/></g><g transform="translate(476.6,746.8)"><path d="M0.00,-6.30 L6.00,-3.10 L6.00,3.10 L0.00,6.30 L-6.00,3.10 L-6.00,-3.10 Z" fill="#fff" stroke="#0000ff" stroke-width="1.1"/><path d="M0.00,-6.30 L6.00,-3.10 L6.00,1.00 L-6.00,1.00 L-6.00,-3.10 Z" fill="#0000ff" stroke="#0000ff" stroke-width="1.1"/></g><g transform="translate(481.6,747.1)"><path d="M0.00,-6.30 L6.00,-3.10 L6.00,3.10 L0.00,6.30 L-6.00,3.10 L-6.00,-3.10 Z" fill="#fff" stroke="#0000ff" stroke-width="1.1"/><path d="M0.00,-6.30 L6.00,-3.10 L6.00,1.00 L-6.00,1.00 L-6.00,-3.10 Z" fill="#0000ff" stroke="#0000ff" stroke-width="1.1"/></g><g transform="translate(486.6,747.3)"><path d="M0.00,-6.30 L6.00,-3.10 L6.00,3.10 L0.00,6.30 L-6.00,3.10 L-6.00,-3.10 Z" fill="#fff" stroke="#0000ff" stroke-width="1.1"/><path d="M0.00,-6.30 L6.00,-3.10 L6.00,1.00 L-6.00,1.00 L-6.00,-3.10 Z" fill="#0000ff" stroke="#0000ff" stroke-width="1.1"/></g><g transform="translate(491.5,747.6)"><path d="M0.00,-6.30 L6.00,-3.10 L6.00,3.10 L0.00,6.30 L-6.00,3.10 L-6.00,-3.10 Z" fill="#fff" stroke="#0000ff" stroke-width="1.1"/><path d="M0.00,-6.30 L6.00,-3.10 L6.00,1.00 L-6.00,1.00 L-6.00,-3.10 Z" fill="#0000ff" stroke="#0000ff" stroke-width="1.1"/></g><g transform="translate(496.5,747.8)"><path d="M0.00,-6.30 L6.00,-3.10 L6.00,3.10 L0.00,6.30 L-6.00,3.10 L-6.00,-3.10 Z" fill="#fff" stroke="#0000ff" stroke-width="1.1"/><path d="M0.00,-6.30 L6.00,-3.10 L6.00,1.00 L-6.00,1.00 L-6.00,-3.10 Z" fill="#0000ff" stroke="#0000ff" stroke-width="1.1"/></g><g transform="translate(501.5,748.1)"><path d="M0.00,-6.30 L6.00,-3.10 L6.00,3.10 L0.00,6.30 L-6.00,3.10 L-6.00,-3.10 Z" fill="#fff" stroke="#0000ff" stroke-width="1.1"/><path d="M0.00,-6.30 L6.00,-3.10 L6.00,1.00 L-6.00,1.00 L-6.00,-3.10 Z" fill="#0000ff" stroke="#0000ff" stroke-width="1.1"/></g><g transform="translate(506.4,748.3)"><path d="M0.00,-6.30 L6.00,-3.10 L6.00,3.10 L0.00,6.30 L-6.00,3.10 L-6.00,-3.10 Z" fill="#fff" stroke="#0000ff" stroke-width="1.1"/><path d="M0.00,-6.30 L6.00,-3.10 L6.00,1.00 L-6.00,1.00 L-6.00,-3.10 Z" fill="#0000ff" stroke="#0000ff" stroke-width="1.1"/></g><g transform="translate(511.4,748.5)"><path d="M0.00,-6.30 L6.00,-3.10 L6.00,3.10 L0.00,6.30 L-6.00,3.10 L-6.00,-3.10 Z" fill="#fff" stroke="#0000ff" stroke-width="1.1"/><path d="M0.00,-6.30 L6.00,-3.10 L6.00,1.00 L-6.00,1.00 L-6.00,-3.10 Z" fill="#0000ff" stroke="#0000ff" stroke-width="1.1"/></g><g transform="translate(516.4,748.8)"><path d="M0.00,-6.30 L6.00,-3.10 L6.00,3.10 L0.00,6.30 L-6.00,3.10 L-6.00,-3.10 Z" fill="#fff" stroke="#0000ff" stroke-width="1.1"/><path d="M0.00,-6.30 L6.00,-3.10 L6.00,1.00 L-6.00,1.00 L-6.00,-3.10 Z" fill="#0000ff" stroke="#0000ff" stroke-width="1.1"/></g><g transform="translate(521.4,749.0)"><path d="M0.00,-6.30 L6.00,-3.10 L6.00,3.10 L0.00,6.30 L-6.00,3.10 L-6.00,-3.10 Z" fill="#fff" stroke="#0000ff" stroke-width="1.1"/><path d="M0.00,-6.30 L6.00,-3.10 L6.00,1.00 L-6.00,1.00 L-6.00,-3.10 Z" fill="#0000ff" stroke="#0000ff" stroke-width="1.1"/></g><g transform="translate(526.3,749.3)"><path d="M0.00,-6.30 L6.00,-3.10 L6.00,3.10 L0.00,6.30 L-6.00,3.10 L-6.00,-3.10 Z" fill="#fff" stroke="#0000ff" stroke-width="1.1"/><path d="M0.00,-6.30 L6.00,-3.10 L6.00,1.00 L-6.00,1.00 L-6.00,-3.10 Z" fill="#0000ff" stroke="#0000ff" stroke-width="1.1"/></g><g transform="translate(531.3,749.5)"><path d="M0.00,-6.30 L6.00,-3.10 L6.00,3.10 L0.00,6.30 L-6.00,3.10 L-6.00,-3.10 Z" fill="#fff" stroke="#0000ff" stroke-width="1.1"/><path d="M0.00,-6.30 L6.00,-3.10 L6.00,1.00 L-6.00,1.00 L-6.00,-3.10 Z" fill="#0000ff" stroke="#0000ff" stroke-width="1.1"/></g><g transform="translate(536.3,749.7)"><path d="M0.00,-6.30 L6.00,-3.10 L6.00,3.10 L0.00,6.30 L-6.00,3.10 L-6.00,-3.10 Z" fill="#fff" stroke="#0000ff" stroke-width="1.1"/><path d="M0.00,-6.30 L6.00,-3.10 L6.00,1.00 L-6.00,1.00 L-6.00,-3.10 Z" fill="#0000ff" stroke="#0000ff" stroke-width="1.1"/></g><g transform="translate(541.2,749.9)"><path d="M0.00,-6.30 L6.00,-3.10 L6.00,3.10 L0.00,6.30 L-6.00,3.10 L-6.00,-3.10 Z" fill="#fff" stroke="#0000ff" stroke-width="1.1"/><path d="M0.00,-6.30 L6.00,-3.10 L6.00,1.00 L-6.00,1.00 L-6.00,-3.10 Z" fill="#0000ff" stroke="#0000ff" stroke-width="1.1"/></g><g transform="translate(546.2,750.1)"><path d="M0.00,-6.30 L6.00,-3.10 L6.00,3.10 L0.00,6.30 L-6.00,3.10 L-6.00,-3.10 Z" fill="#fff" stroke="#0000ff" stroke-width="1.1"/><path d="M0.00,-6.30 L6.00,-3.10 L6.00,1.00 L-6.00,1.00 L-6.00,-3.10 Z" fill="#0000ff" stroke="#0000ff" stroke-width="1.1"/></g><g transform="translate(551.2,750.2)"><path d="M0.00,-6.30 L6.00,-3.10 L6.00,3.10 L0.00,6.30 L-6.00,3.10 L-6.00,-3.10 Z" fill="#fff" stroke="#0000ff" stroke-width="1.1"/><path d="M0.00,-6.30 L6.00,-3.10 L6.00,1.00 L-6.00,1.00 L-6.00,-3.10 Z" fill="#0000ff" stroke="#0000ff" stroke-width="1.1"/></g><g transform="translate(556.1,750.4)"><path d="M0.00,-6.30 L6.00,-3.10 L6.00,3.10 L0.00,6.30 L-6.00,3.10 L-6.00,-3.10 Z" fill="#fff" stroke="#0000ff" stroke-width="1.1"/><path d="M0.00,-6.30 L6.00,-3.10 L6.00,1.00 L-6.00,1.00 L-6.00,-3.10 Z" fill="#0000ff" stroke="#0000ff" stroke-width="1.1"/></g><g transform="translate(561.1,750.6)"><path d="M0.00,-6.30 L6.00,-3.10 L6.00,3.10 L0.00,6.30 L-6.00,3.10 L-6.00,-3.10 Z" fill="#fff" stroke="#0000ff" stroke-width="1.1"/><path d="M0.00,-6.30 L6.00,-3.10 L6.00,1.00 L-6.00,1.00 L-6.00,-3.10 Z" fill="#0000ff" stroke="#0000ff" stroke-width="1.1"/></g><g transform="translate(566.1,750.7)"><path d="M0.00,-6.30 L6.00,-3.10 L6.00,3.10 L0.00,6.30 L-6.00,3.10 L-6.00,-3.10 Z" fill="#fff" stroke="#0000ff" stroke-width="1.1"/><path d="M0.00,-6.30 L6.00,-3.10 L6.00,1.00 L-6.00,1.00 L-6.00,-3.10 Z" fill="#0000ff" stroke="#0000ff" stroke-width="1.1"/></g><g transform="translate(571.1,750.9)"><path d="M0.00,-6.30 L6.00,-3.10 L6.00,3.10 L0.00,6.30 L-6.00,3.10 L-6.00,-3.10 Z" fill="#fff" stroke="#0000ff" stroke-width="1.1"/><path d="M0.00,-6.30 L6.00,-3.10 L6.00,1.00 L-6.00,1.00 L-6.00,-3.10 Z" fill="#0000ff" stroke="#0000ff" stroke-width="1.1"/></g><g transform="translate(576.0,751.1)"><path d="M0.00,-6.30 L6.00,-3.10 L6.00,3.10 L0.00,6.30 L-6.00,3.10 L-6.00,-3.10 Z" fill="#fff" stroke="#0000ff" stroke-width="1.1"/><path d="M0.00,-6.30 L6.00,-3.10 L6.00,1.00 L-6.00,1.00 L-6.00,-3.10 Z" fill="#0000ff" stroke="#0000ff" stroke-width="1.1"/></g><g transform="translate(581.0,751.3)"><path d="M0.00,-6.30 L6.00,-3.10 L6.00,3.10 L0.00,6.30 L-6.00,3.10 L-6.00,-3.10 Z" fill="#fff" stroke="#0000ff" stroke-width="1.1"/><path d="M0.00,-6.30 L6.00,-3.10 L6.00,1.00 L-6.00,1.00 L-6.00,-3.10 Z" fill="#0000ff" stroke="#0000ff" stroke-width="1.1"/></g><g transform="translate(586.0,751.6)"><path d="M0.00,-6.30 L6.00,-3.10 L6.00,3.10 L0.00,6.30 L-6.00,3.10 L-6.00,-3.10 Z" fill="#fff" stroke="#0000ff" stroke-width="1.1"/><path d="M0.00,-6.30 L6.00,-3.10 L6.00,1.00 L-6.00,1.00 L-6.00,-3.10 Z" fill="#0000ff" stroke="#0000ff" stroke-width="1.1"/></g><g transform="translate(590.9,751.9)"><path d="M0.00,-6.30 L6.00,-3.10 L6.00,3.10 L0.00,6.30 L-6.00,3.10 L-6.00,-3.10 Z" fill="#fff" stroke="#0000ff" stroke-width="1.1"/><path d="M0.00,-6.30 L6.00,-3.10 L6.00,1.00 L-6.00,1.00 L-6.00,-3.10 Z" fill="#0000ff" stroke="#0000ff" stroke-width="1.1"/></g><g transform="translate(595.9,752.2)"><path d="M0.00,-6.30 L6.00,-3.10 L6.00,3.10 L0.00,6.30 L-6.00,3.10 L-6.00,-3.10 Z" fill="#fff" stroke="#0000ff" stroke-width="1.1"/><path d="M0.00,-6.30 L6.00,-3.10 L6.00,1.00 L-6.00,1.00 L-6.00,-3.10 Z" fill="#0000ff" stroke="#0000ff" stroke-width="1.1"/></g><g transform="translate(600.9,752.5)"><path d="M0.00,-6.30 L6.00,-3.10 L6.00,3.10 L0.00,6.30 L-6.00,3.10 L-6.00,-3.10 Z" fill="#fff" stroke="#0000ff" stroke-width="1.1"/><path d="M0.00,-6.30 L6.00,-3.10 L6.00,1.00 L-6.00,1.00 L-6.00,-3.10 Z" fill="#0000ff" stroke="#0000ff" stroke-width="1.1"/></g><g transform="translate(605.8,752.8)"><path d="M0.00,-6.30 L6.00,-3.10 L6.00,3.10 L0.00,6.30 L-6.00,3.10 L-6.00,-3.10 Z" fill="#fff" stroke="#0000ff" stroke-width="1.1"/><path d="M0.00,-6.30 L6.00,-3.10 L6.00,1.00 L-6.00,1.00 L-6.00,-3.10 Z" fill="#0000ff" stroke="#0000ff" stroke-width="1.1"/></g><g transform="translate(610.8,753.1)"><path d="M0.00,-6.30 L6.00,-3.10 L6.00,3.10 L0.00,6.30 L-6.00,3.10 L-6.00,-3.10 Z" fill="#fff" stroke="#0000ff" stroke-width="1.1"/><path d="M0.00,-6.30 L6.00,-3.10 L6.00,1.00 L-6.00,1.00 L-6.00,-3.10 Z" fill="#0000ff" stroke="#0000ff" stroke-width="1.1"/></g><g transform="translate(615.8,753.5)"><path d="M0.00,-6.30 L6.00,-3.10 L6.00,3.10 L0.00,6.30 L-6.00,3.10 L-6.00,-3.10 Z" fill="#fff" stroke="#0000ff" stroke-width="1.1"/><path d="M0.00,-6.30 L6.00,-3.10 L6.00,1.00 L-6.00,1.00 L-6.00,-3.10 Z" fill="#0000ff" stroke="#0000ff" stroke-width="1.1"/></g><g transform="translate(620.8,753.8)"><path d="M0.00,-6.30 L6.00,-3.10 L6.00,3.10 L0.00,6.30 L-6.00,3.10 L-6.00,-3.10 Z" fill="#fff" stroke="#0000ff" stroke-width="1.1"/><path d="M0.00,-6.30 L6.00,-3.10 L6.00,1.00 L-6.00,1.00 L-6.00,-3.10 Z" fill="#0000ff" stroke="#0000ff" stroke-width="1.1"/></g><g transform="translate(625.7,754.1)"><path d="M0.00,-6.30 L6.00,-3.10 L6.00,3.10 L0.00,6.30 L-6.00,3.10 L-6.00,-3.10 Z" fill="#fff" stroke="#0000ff" stroke-width="1.1"/><path d="M0.00,-6.30 L6.00,-3.10 L6.00,1.00 L-6.00,1.00 L-6.00,-3.10 Z" fill="#0000ff" stroke="#0000ff" stroke-width="1.1"/></g><g transform="translate(630.7,754.4)"><path d="M0.00,-6.30 L6.00,-3.10 L6.00,3.10 L0.00,6.30 L-6.00,3.10 L-6.00,-3.10 Z" fill="#fff" stroke="#0000ff" stroke-width="1.1"/><path d="M0.00,-6.30 L6.00,-3.10 L6.00,1.00 L-6.00,1.00 L-6.00,-3.10 Z" fill="#0000ff" stroke="#0000ff" stroke-width="1.1"/></g>
<path d="M136.4,503 L138.2,530.5 M161.3,580 L163.5,599.2 L163.5,599.2 L168.5,610.7 L173.5,622.3 L178.4,651.8 L183.4,663.4 L188.4,673.5 L193.3,676.5 L198.3,679.4 L203.3,681.4 L208.2,683.3 L213.2,686.6 L218.2,688.9 L223.2,690.7 L228.1,693.1 L233.1,696.4 L238.1,697.6 L243.0,699.0 L248.0,702.3 L253.0,706.2 L257.9,712.6 L262.9,718.1 L267.9,722.0 L272.9,725.7 L277.8,729.3 L282.8,733.9 L287.8,738.5 L292.7,743.5 L297.7,748.8 L302.7,755.4 L307.6,763.3 L312.6,767.2 L317.6,770.5 L322.6,774.2 L327.5,778.8 L332.5,786.5 L337.5,792.3 L342.4,797.4 L347.4,802.3 L352.4,803.4 L357.3,804.6 L362.3,807.2 L367.3,810.6 L372.3,816.9 L377.2,821.3 L382.2,824.8 L387.2,827.9 L392.1,830.9 L397.1,833.8 L402.1,836.6 L407.0,838.5 L412.0,840.2 L417.0,841.0 L422.0,844.5 L426.9,848.2 L431.9,849.5 L436.9,850.4 L441.8,851.0 L446.8,851.7 L451.8,855.2 L456.8,857.0 L461.7,857.9 L466.7,858.6 L471.7,859.1 L476.6,859.6 L481.6,860.4 L486.6,864.1 L491.5,865.9 L496.5,866.5 L501.5,866.6 L506.4,866.7 L511.4,866.8 L516.4,867.1 L521.4,867.4 L526.3,867.7 L531.3,868.1 L536.3,870.4 L541.2,873.0 L546.2,874.7 L551.2,874.4 L556.1,874.1 L561.1,873.9 L566.1,874.0 L571.1,874.1 L576.0,874.3 L581.0,874.4 L586.0,874.5 L590.9,874.7 L595.9,874.8 L600.9,874.9 L605.8,875.1 L610.8,875.2 L615.8,875.3 L620.8,875.4 L625.7,875.6 L630.7,875.7" stroke="#ff2a2a" stroke-width="1.4" fill="none"/>
<g transform="translate(136.5,515.3)"><path d="M-5.90,0 A5.90,5.90 0 1,1 5.90,0 A5.90,5.90 0 1,1 -5.90,0 Z" fill="#fff" stroke="#00eeee" stroke-width="1.1"/><path d="M0.6,-5.87 A5.90,5.90 0 1,0 0.6,5.87 Z" fill="#00eeee" stroke="#00eeee" stroke-width="1.1"/></g>
<g transform="translate(163.5,599.2)"><path d="M-5.90,0 A5.90,5.90 0 1,1 5.90,0 A5.90,5.90 0 1,1 -5.90,0 Z" fill="#fff" stroke="#00eeee" stroke-width="1.1"/><path d="M0.6,-5.87 A5.90,5.90 0 1,0 0.6,5.87 Z" fill="#00eeee" stroke="#00eeee" stroke-width="1.1"/></g><g transform="translate(168.5,610.7)"><path d="M-5.90,0 A5.90,5.90 0 1,1 5.90,0 A5.90,5.90 0 1,1 -5.90,0 Z" fill="#fff" stroke="#00eeee" stroke-width="1.1"/><path d="M0.6,-5.87 A5.90,5.90 0 1,0 0.6,5.87 Z" fill="#00eeee" stroke="#00eeee" stroke-width="1.1"/></g><g transform="translate(173.5,622.3)"><path d="M-5.90,0 A5.90,5.90 0 1,1 5.90,0 A5.90,5.90 0 1,1 -5.90,0 Z" fill="#fff" stroke="#00eeee" stroke-width="1.1"/><path d="M0.6,-5.87 A5.90,5.90 0 1,0 0.6,5.87 Z" fill="#00eeee" stroke="#00eeee" stroke-width="1.1"/></g><g transform="translate(178.4,651.8)"><path d="M-5.90,0 A5.90,5.90 0 1,1 5.90,0 A5.90,5.90 0 1,1 -5.90,0 Z" fill="#fff" stroke="#00eeee" stroke-width="1.1"/><path d="M0.6,-5.87 A5.90,5.90 0 1,0 0.6,5.87 Z" fill="#00eeee" stroke="#00eeee" stroke-width="1.1"/></g><g transform="translate(183.4,663.4)"><path d="M-5.90,0 A5.90,5.90 0 1,1 5.90,0 A5.90,5.90 0 1,1 -5.90,0 Z" fill="#fff" stroke="#00eeee" stroke-width="1.1"/><path d="M0.6,-5.87 A5.90,5.90 0 1,0 0.6,5.87 Z" fill="#00eeee" stroke="#00eeee" stroke-width="1.1"/></g><g transform="translate(188.4,673.5)"><path d="M-5.90,0 A5.90,5.90 0 1,1 5.90,0 A5.90,5.90 0 1,1 -5.90,0 Z" fill="#fff" stroke="#00eeee" stroke-width="1.1"/><path d="M0.6,-5.87 A5.90,5.90 0 1,0 0.6,5.87 Z" fill="#00eeee" stroke="#00eeee" stroke-width="1.1"/></g><g transform="translate(193.3,676.5)"><path d="M-5.90,0 A5.90,5.90 0 1,1 5.90,0 A5.90,5.90 0 1,1 -5.90,0 Z" fill="#fff" stroke="#00eeee" stroke-width="1.1"/><path d="M0.6,-5.87 A5.90,5.90 0 1,0 0.6,5.87 Z" fill="#00eeee" stroke="#00eeee" stroke-width="1.1"/></g><g transform="translate(198.3,679.4)"><path d="M-5.90,0 A5.90,5.90 0 1,1 5.90,0 A5.90,5.90 0 1,1 -5.90,0 Z" fill="#fff" stroke="#00eeee" stroke-width="1.1"/><path d="M0.6,-5.87 A5.90,5.90 0 1,0 0.6,5.87 Z" fill="#00eeee" stroke="#00eeee" stroke-width="1.1"/></g><g transform="translate(203.3,681.4)"><path d="M-5.90,0 A5.90,5.90 0 1,1 5.90,0 A5.90,5.90 0 1,1 -5.90,0 Z" fill="#fff" stroke="#00eeee" stroke-width="1.1"/><path d="M0.6,-5.87 A5.90,5.90 0 1,0 0.6,5.87 Z" fill="#00eeee" stroke="#00eeee" stroke-width="1.1"/></g><g transform="translate(208.2,683.3)"><path d="M-5.90,0 A5.90,5.90 0 1,1 5.90,0 A5.90,5.90 0 1,1 -5.90,0 Z" fill="#fff" stroke="#00eeee" stroke-width="1.1"/><path d="M0.6,-5.87 A5.90,5.90 0 1,0 0.6,5.87 Z" fill="#00eeee" stroke="#00eeee" stroke-width="1.1"/></g><g transform="translate(213.2,686.6)"><path d="M-5.90,0 A5.90,5.90 0 1,1 5.90,0 A5.90,5.90 0 1,1 -5.90,0 Z" fill="#fff" stroke="#00eeee" stroke-width="1.1"/><path d="M0.6,-5.87 A5.90,5.90 0 1,0 0.6,5.87 Z" fill="#00eeee" stroke="#00eeee" stroke-width="1.1"/></g><g transform="translate(218.2,688.9)"><path d="M-5.90,0 A5.90,5.90 0 1,1 5.90,0 A5.90,5.90 0 1,1 -5.90,0 Z" fill="#fff" stroke="#00eeee" stroke-width="1.1"/><path d="M0.6,-5.87 A5.90,5.90 0 1,0 0.6,5.87 Z" fill="#00eeee" stroke="#00eeee" stroke-width="1.1"/></g><g transform="translate(223.2,690.7)"><path d="M-5.90,0 A5.90,5.90 0 1,1 5.90,0 A5.90,5.90 0 1,1 -5.90,0 Z" fill="#fff" stroke="#00eeee" stroke-width="1.1"/><path d="M0.6,-5.87 A5.90,5.90 0 1,0 0.6,5.87 Z" fill="#00eeee" stroke="#00eeee" stroke-width="1.1"/></g><g transform="translate(228.1,693.1)"><path d="M-5.90,0 A5.90,5.90 0 1,1 5.90,0 A5.90,5.90 0 1,1 -5.90,0 Z" fill="#fff" stroke="#00eeee" stroke-width="1.1"/><path d="M0.6,-5.87 A5.90,5.90 0 1,0 0.6,5.87 Z" fill="#00eeee" stroke="#00eeee" stroke-width="1.1"/></g><g transform="translate(233.1,696.4)"><path d="M-5.90,0 A5.90,5.90 0 1,1 5.90,0 A5.90,5.90 0 1,1 -5.90,0 Z" fill="#fff" stroke="#00eeee" stroke-width="1.1"/><path d="M0.6,-5.87 A5.90,5.90 0 1,0 0.6,5.87 Z" fill="#00eeee" stroke="#00eeee" stroke-width="1.1"/></g><g transform="translate(238.1,697.6)"><path d="M-5.90,0 A5.90,5.90 0 1,1 5.90,0 A5.90,5.90 0 1,1 -5.90,0 Z" fill="#fff" stroke="#00eeee" stroke-width="1.1"/><path d="M0.6,-5.87 A5.90,5.90 0 1,0 0.6,5.87 Z" fill="#00eeee" stroke="#00eeee" stroke-width="1.1"/></g><g transform="translate(243.0,699.0)"><path d="M-5.90,0 A5.90,5.90 0 1,1 5.90,0 A5.90,5.90 0 1,1 -5.90,0 Z" fill="#fff" stroke="#00eeee" stroke-width="1.1"/><path d="M0.6,-5.87 A5.90,5.90 0 1,0 0.6,5.87 Z" fill="#00eeee" stroke="#00eeee" stroke-width="1.1"/></g><g transform="translate(248.0,702.3)"><path d="M-5.90,0 A5.90,5.90 0 1,1 5.90,0 A5.90,5.90 0 1,1 -5.90,0 Z" fill="#fff" stroke="#00eeee" stroke-width="1.1"/><path d="M0.6,-5.87 A5.90,5.90 0 1,0 0.6,5.87 Z" fill="#00eeee" stroke="#00eeee" stroke-width="1.1"/></g><g transform="translate(253.0,706.2)"><path d="M-5.90,0 A5.90,5.90 0 1,1 5.90,0 A5.90,5.90 0 1,1 -5.90,0 Z" fill="#fff" stroke="#00eeee" stroke-width="1.1"/><path d="M0.6,-5.87 A5.90,5.90 0 1,0 0.6,5.87 Z" fill="#00eeee" stroke="#00eeee" stroke-width="1.1"/></g><g transform="translate(257.9,712.6)"><path d="M-5.90,0 A5.90,5.90 0 1,1 5.90,0 A5.90,5.90 0 1,1 -5.90,0 Z" fill="#fff" stroke="#00eeee" stroke-width="1.1"/><path d="M0.6,-5.87 A5.90,5.90 0 1,0 0.6,5.87 Z" fill="#00eeee" stroke="#00eeee" stroke-width="1.1"/></g><g transform="translate(262.9,718.1)"><path d="M-5.90,0 A5.90,5.90 0 1,1 5.90,0 A5.90,5.90 0 1,1 -5.90,0 Z" fill="#fff" stroke="#00eeee" stroke-width="1.1"/><path d="M0.6,-5.87 A5.90,5.90 0 1,0 0.6,5.87 Z" fill="#00eeee" stroke="#00eeee" stroke-width="1.1"/></g><g transform="translate(267.9,722.0)"><path d="M-5.90,0 A5.90,5.90 0 1,1 5.90,0 A5.90,5.90 0 1,1 -5.90,0 Z" fill="#fff" stroke="#00eeee" stroke-width="1.1"/><path d="M0.6,-5.87 A5.90,5.90 0 1,0 0.6,5.87 Z" fill="#00eeee" stroke="#00eeee" stroke-width="1.1"/></g><g transform="translate(272.9,725.7)"><path d="M-5.90,0 A5.90,5.90 0 1,1 5.90,0 A5.90,5.90 0 1,1 -5.90,0 Z" fill="#fff" stroke="#00eeee" stroke-width="1.1"/><path d="M0.6,-5.87 A5.90,5.90 0 1,0 0.6,5.87 Z" fill="#00eeee" stroke="#00eeee" stroke-width="1.1"/></g><g transform="translate(277.8,729.3)"><path d="M-5.90,0 A5.90,5.90 0 1,1 5.90,0 A5.90,5.90 0 1,1 -5.90,0 Z" fill="#fff" stroke="#00eeee" stroke-width="1.1"/><path d="M0.6,-5.87 A5.90,5.90 0 1,0 0.6,5.87 Z" fill="#00eeee" stroke="#00eeee" stroke-width="1.1"/></g><g transform="translate(282.8,733.9)"><path d="M-5.90,0 A5.90,5.90 0 1,1 5.90,0 A5.90,5.90 0 1,1 -5.90,0 Z" fill="#fff" stroke="#00eeee" stroke-width="1.1"/><path d="M0.6,-5.87 A5.90,5.90 0 1,0 0.6,5.87 Z" fill="#00eeee" stroke="#00eeee" stroke-width="1.1"/></g><g transform="translate(287.8,738.5)"><path d="M-5.90,0 A5.90,5.90 0 1,1 5.90,0 A5.90,5.90 0 1,1 -5.90,0 Z" fill="#fff" stroke="#00eeee" stroke-width="1.1"/><path d="M0.6,-5.87 A5.90,5.90 0 1,0 0.6,5.87 Z" fill="#00eeee" stroke="#00eeee" stroke-width="1.1"/></g><g transform="translate(292.7,743.5)"><path d="M-5.90,0 A5.90,5.90 0 1,1 5.90,0 A5.90,5.90 0 1,1 -5.90,0 Z" fill="#fff" stroke="#00eeee" stroke-width="1.1"/><path d="M0.6,-5.87 A5.90,5.90 0 1,0 0.6,5.87 Z" fill="#00eeee" stroke="#00eeee" stroke-width="1.1"/></g><g transform="translate(297.7,748.8)"><path d="M-5.90,0 A5.90,5.90 0 1,1 5.90,0 A5.90,5.90 0 1,1 -5.90,0 Z" fill="#fff" stroke="#00eeee" stroke-width="1.1"/><path d="M0.6,-5.87 A5.90,5.90 0 1,0 0.6,5.87 Z" fill="#00eeee" stroke="#00eeee" stroke-width="1.1"/></g><g transform="translate(302.7,755.4)"><path d="M-5.90,0 A5.90,5.90 0 1,1 5.90,0 A5.90,5.90 0 1,1 -5.90,0 Z" fill="#fff" stroke="#00eeee" stroke-width="1.1"/><path d="M0.6,-5.87 A5.90,5.90 0 1,0 0.6,5.87 Z" fill="#00eeee" stroke="#00eeee" stroke-width="1.1"/></g><g transform="translate(307.6,763.3)"><path d="M-5.90,0 A5.90,5.90 0 1,1 5.90,0 A5.90,5.90 0 1,1 -5.90,0 Z" fill="#fff" stroke="#00eeee" stroke-width="1.1"/><path d="M0.6,-5.87 A5.90,5.90 0 1,0 0.6,5.87 Z" fill="#00eeee" stroke="#00eeee" stroke-width="1.1"/></g><g transform="translate(312.6,767.2)"><path d="M-5.90,0 A5.90,5.90 0 1,1 5.90,0 A5.90,5.90 0 1,1 -5.90,0 Z" fill="#fff" stroke="#00eeee" stroke-width="1.1"/><path d="M0.6,-5.87 A5.90,5.90 0 1,0 0.6,5.87 Z" fill="#00eeee" stroke="#00eeee" stroke-width="1.1"/></g><g transform="translate(317.6,770.5)"><path d="M-5.90,0 A5.90,5.90 0 1,1 5.90,0 A5.90,5.90 0 1,1 -5.90,0 Z" fill="#fff" stroke="#00eeee" stroke-width="1.1"/><path d="M0.6,-5.87 A5.90,5.90 0 1,0 0.6,5.87 Z" fill="#00eeee" stroke="#00eeee" stroke-width="1.1"/></g><g transform="translate(322.6,774.2)"><path d="M-5.90,0 A5.90,5.90 0 1,1 5.90,0 A5.90,5.90 0 1,1 -5.90,0 Z" fill="#fff" stroke="#00eeee" stroke-width="1.1"/><path d="M0.6,-5.87 A5.90,5.90 0 1,0 0.6,5.87 Z" fill="#00eeee" stroke="#00eeee" stroke-width="1.1"/></g><g transform="translate(327.5,778.8)"><path d="M-5.90,0 A5.90,5.90 0 1,1 5.90,0 A5.90,5.90 0 1,1 -5.90,0 Z" fill="#fff" stroke="#00eeee" stroke-width="1.1"/><path d="M0.6,-5.87 A5.90,5.90 0 1,0 0.6,5.87 Z" fill="#00eeee" stroke="#00eeee" stroke-width="1.1"/></g><g transform="translate(332.5,786.5)"><path d="M-5.90,0 A5.90,5.90 0 1,1 5.90,0 A5.90,5.90 0 1,1 -5.90,0 Z" fill="#fff" stroke="#00eeee" stroke-width="1.1"/><path d="M0.6,-5.87 A5.90,5.90 0 1,0 0.6,5.87 Z" fill="#00eeee" stroke="#00eeee" stroke-width="1.1"/></g><g transform="translate(337.5,792.3)"><path d="M-5.90,0 A5.90,5.90 0 1,1 5.90,0 A5.90,5.90 0 1,1 -5.90,0 Z" fill="#fff" stroke="#00eeee" stroke-width="1.1"/><path d="M0.6,-5.87 A5.90,5.90 0 1,0 0.6,5.87 Z" fill="#00eeee" stroke="#00eeee" stroke-width="1.1"/></g><g transform="translate(342.4,797.4)"><path d="M-5.90,0 A5.90,5.90 0 1,1 5.90,0 A5.90,5.90 0 1,1 -5.90,0 Z" fill="#fff" stroke="#00eeee" stroke-width="1.1"/><path d="M0.6,-5.87 A5.90,5.90 0 1,0 0.6,5.87 Z" fill="#00eeee" stroke="#00eeee" stroke-width="1.1"/></g><g transform="translate(347.4,802.3)"><path d="M-5.90,0 A5.90,5.90 0 1,1 5.90,0 A5.90,5.90 0 1,1 -5.90,0 Z" fill="#fff" stroke="#00eeee" stroke-width="1.1"/><path d="M0.6,-5.87 A5.90,5.90 0 1,0 0.6,5.87 Z" fill="#00eeee" stroke="#00eeee" stroke-width="1.1"/></g><g transform="translate(352.4,803.4)"><path d="M-5.90,0 A5.90,5.90 0 1,1 5.90,0 A5.90,5.90 0 1,1 -5.90,0 Z" fill="#fff" stroke="#00eeee" stroke-width="1.1"/><path d="M0.6,-5.87 A5.90,5.90 0 1,0 0.6,5.87 Z" fill="#00eeee" stroke="#00eeee" stroke-width="1.1"/></g><g transform="translate(357.3,804.6)"><path d="M-5.90,0 A5.90,5.90 0 1,1 5.90,0 A5.90,5.90 0 1,1 -5.90,0 Z" fill="#fff" stroke="#00eeee" stroke-width="1.1"/><path d="M0.6,-5.87 A5.90,5.90 0 1,0 0.6,5.87 Z" fill="#00eeee" stroke="#00eeee" stroke-width="1.1"/></g><g transform="translate(362.3,807.2)"><path d="M-5.90,0 A5.90,5.90 0 1,1 5.90,0 A5.90,5.90 0 1,1 -5.90,0 Z" fill="#fff" stroke="#00eeee" stroke-width="1.1"/><path d="M0.6,-5.87 A5.90,5.90 0 1,0 0.6,5.87 Z" fill="#00eeee" stroke="#00eeee" stroke-width="1.1"/></g><g transform="translate(367.3,810.6)"><path d="M-5.90,0 A5.90,5.90 0 1,1 5.90,0 A5.90,5.90 0 1,1 -5.90,0 Z" fill="#fff" stroke="#00eeee" stroke-width="1.1"/><path d="M0.6,-5.87 A5.90,5.90 0 1,0 0.6,5.87 Z" fill="#00eeee" stroke="#00eeee" stroke-width="1.1"/></g><g transform="translate(372.3,816.9)"><path d="M-5.90,0 A5.90,5.90 0 1,1 5.90,0 A5.90,5.90 0 1,1 -5.90,0 Z" fill="#fff" stroke="#00eeee" stroke-width="1.1"/><path d="M0.6,-5.87 A5.90,5.90 0 1,0 0.6,5.87 Z" fill="#00eeee" stroke="#00eeee" stroke-width="1.1"/></g><g transform="translate(377.2,821.3)"><path d="M-5.90,0 A5.90,5.90 0 1,1 5.90,0 A5.90,5.90 0 1,1 -5.90,0 Z" fill="#fff" stroke="#00eeee" stroke-width="1.1"/><path d="M0.6,-5.87 A5.90,5.90 0 1,0 0.6,5.87 Z" fill="#00eeee" stroke="#00eeee" stroke-width="1.1"/></g><g transform="translate(382.2,824.8)"><path d="M-5.90,0 A5.90,5.90 0 1,1 5.90,0 A5.90,5.90 0 1,1 -5.90,0 Z" fill="#fff" stroke="#00eeee" stroke-width="1.1"/><path d="M0.6,-5.87 A5.90,5.90 0 1,0 0.6,5.87 Z" fill="#00eeee" stroke="#00eeee" stroke-width="1.1"/></g><g transform="translate(387.2,827.9)"><path d="M-5.90,0 A5.90,5.90 0 1,1 5.90,0 A5.90,5.90 0 1,1 -5.90,0 Z" fill="#fff" stroke="#00eeee" stroke-width="1.1"/><path d="M0.6,-5.87 A5.90,5.90 0 1,0 0.6,5.87 Z" fill="#00eeee" stroke="#00eeee" stroke-width="1.1"/></g><g transform="translate(392.1,830.9)"><path d="M-5.90,0 A5.90,5.90 0 1,1 5.90,0 A5.90,5.90 0 1,1 -5.90,0 Z" fill="#fff" stroke="#00eeee" stroke-width="1.1"/><path d="M0.6,-5.87 A5.90,5.90 0 1,0 0.6,5.87 Z" fill="#00eeee" stroke="#00eeee" stroke-width="1.1"/></g><g transform="translate(397.1,833.8)"><path d="M-5.90,0 A5.90,5.90 0 1,1 5.90,0 A5.90,5.90 0 1,1 -5.90,0 Z" fill="#fff" stroke="#00eeee" stroke-width="1.1"/><path d="M0.6,-5.87 A5.90,5.90 0 1,0 0.6,5.87 Z" fill="#00eeee" stroke="#00eeee" stroke-width="1.1"/></g><g transform="translate(402.1,836.6)"><path d="M-5.90,0 A5.90,5.90 0 1,1 5.90,0 A5.90,5.90 0 1,1 -5.90,0 Z" fill="#fff" stroke="#00eeee" stroke-width="1.1"/><path d="M0.6,-5.87 A5.90,5.90 0 1,0 0.6,5.87 Z" fill="#00eeee" stroke="#00eeee" stroke-width="1.1"/></g><g transform="translate(407.0,838.5)"><path d="M-5.90,0 A5.90,5.90 0 1,1 5.90,0 A5.90,5.90 0 1,1 -5.90,0 Z" fill="#fff" stroke="#00eeee" stroke-width="1.1"/><path d="M0.6,-5.87 A5.90,5.90 0 1,0 0.6,5.87 Z" fill="#00eeee" stroke="#00eeee" stroke-width="1.1"/></g><g transform="translate(412.0,840.2)"><path d="M-5.90,0 A5.90,5.90 0 1,1 5.90,0 A5.90,5.90 0 1,1 -5.90,0 Z" fill="#fff" stroke="#00eeee" stroke-width="1.1"/><path d="M0.6,-5.87 A5.90,5.90 0 1,0 0.6,5.87 Z" fill="#00eeee" stroke="#00eeee" stroke-width="1.1"/></g><g transform="translate(417.0,841.0)"><path d="M-5.90,0 A5.90,5.90 0 1,1 5.90,0 A5.90,5.90 0 1,1 -5.90,0 Z" fill="#fff" stroke="#00eeee" stroke-width="1.1"/><path d="M0.6,-5.87 A5.90,5.90 0 1,0 0.6,5.87 Z" fill="#00eeee" stroke="#00eeee" stroke-width="1.1"/></g><g transform="translate(422.0,844.5)"><path d="M-5.90,0 A5.90,5.90 0 1,1 5.90,0 A5.90,5.90 0 1,1 -5.90,0 Z" fill="#fff" stroke="#00eeee" stroke-width="1.1"/><path d="M0.6,-5.87 A5.90,5.90 0 1,0 0.6,5.87 Z" fill="#00eeee" stroke="#00eeee" stroke-width="1.1"/></g><g transform="translate(426.9,848.2)"><path d="M-5.90,0 A5.90,5.90 0 1,1 5.90,0 A5.90,5.90 0 1,1 -5.90,0 Z" fill="#fff" stroke="#00eeee" stroke-width="1.1"/><path d="M0.6,-5.87 A5.90,5.90 0 1,0 0.6,5.87 Z" fill="#00eeee" stroke="#00eeee" stroke-width="1.1"/></g><g transform="translate(431.9,849.5)"><path d="M-5.90,0 A5.90,5.90 0 1,1 5.90,0 A5.90,5.90 0 1,1 -5.90,0 Z" fill="#fff" stroke="#00eeee" stroke-width="1.1"/><path d="M0.6,-5.87 A5.90,5.90 0 1,0 0.6,5.87 Z" fill="#00eeee" stroke="#00eeee" stroke-width="1.1"/></g><g transform="translate(436.9,850.4)"><path d="M-5.90,0 A5.90,5.90 0 1,1 5.90,0 A5.90,5.90 0 1,1 -5.90,0 Z" fill="#fff" stroke="#00eeee" stroke-width="1.1"/><path d="M0.6,-5.87 A5.90,5.90 0 1,0 0.6,5.87 Z" fill="#00eeee" stroke="#00eeee" stroke-width="1.1"/></g><g transform="translate(441.8,851.0)"><path d="M-5.90,0 A5.90,5.90 0 1,1 5.90,0 A5.90,5.90 0 1,1 -5.90,0 Z" fill="#fff" stroke="#00eeee" stroke-width="1.1"/><path d="M0.6,-5.87 A5.90,5.90 0 1,0 0.6,5.87 Z" fill="#00eeee" stroke="#00eeee" stroke-width="1.1"/></g><g transform="translate(446.8,851.7)"><path d="M-5.90,0 A5.90,5.90 0 1,1 5.90,0 A5.90,5.90 0 1,1 -5.90,0 Z" fill="#fff" stroke="#00eeee" stroke-width="1.1"/><path d="M0.6,-5.87 A5.90,5.90 0 1,0 0.6,5.87 Z" fill="#00eeee" stroke="#00eeee" stroke-width="1.1"/></g><g transform="translate(451.8,855.2)"><path d="M-5.90,0 A5.90,5.90 0 1,1 5.90,0 A5.90,5.90 0 1,1 -5.90,0 Z" fill="#fff" stroke="#00eeee" stroke-width="1.1"/><path d="M0.6,-5.87 A5.90,5.90 0 1,0 0.6,5.87 Z" fill="#00eeee" stroke="#00eeee" stroke-width="1.1"/></g><g transform="translate(456.8,857.0)"><path d="M-5.90,0 A5.90,5.90 0 1,1 5.90,0 A5.90,5.90 0 1,1 -5.90,0 Z" fill="#fff" stroke="#00eeee" stroke-width="1.1"/><path d="M0.6,-5.87 A5.90,5.90 0 1,0 0.6,5.87 Z" fill="#00eeee" stroke="#00eeee" stroke-width="1.1"/></g><g transform="translate(461.7,857.9)"><path d="M-5.90,0 A5.90,5.90 0 1,1 5.90,0 A5.90,5.90 0 1,1 -5.90,0 Z" fill="#fff" stroke="#00eeee" stroke-width="1.1"/><path d="M0.6,-5.87 A5.90,5.90 0 1,0 0.6,5.87 Z" fill="#00eeee" stroke="#00eeee" stroke-width="1.1"/></g><g transform="translate(466.7,858.6)"><path d="M-5.90,0 A5.90,5.90 0 1,1 5.90,0 A5.90,5.90 0 1,1 -5.90,0 Z" fill="#fff" stroke="#00eeee" stroke-width="1.1"/><path d="M0.6,-5.87 A5.90,5.90 0 1,0 0.6,5.87 Z" fill="#00eeee" stroke="#00eeee" stroke-width="1.1"/></g><g transform="translate(471.7,859.1)"><path d="M-5.90,0 A5.90,5.90 0 1,1 5.90,0 A5.90,5.90 0 1,1 -5.90,0 Z" fill="#fff" stroke="#00eeee" stroke-width="1.1"/><path d="M0.6,-5.87 A5.90,5.90 0 1,0 0.6,5.87 Z" fill="#00eeee" stroke="#00eeee" stroke-width="1.1"/></g><g transform="translate(476.6,859.6)"><path d="M-5.90,0 A5.90,5.90 0 1,1 5.90,0 A5.90,5.90 0 1,1 -5.90,0 Z" fill="#fff" stroke="#00eeee" stroke-width="1.1"/><path d="M0.6,-5.87 A5.90,5.90 0 1,0 0.6,5.87 Z" fill="#00eeee" stroke="#00eeee" stroke-width="1.1"/></g><g transform="translate(481.6,860.4)"><path d="M-5.90,0 A5.90,5.90 0 1,1 5.90,0 A5.90,5.90 0 1,1 -5.90,0 Z" fill="#fff" stroke="#00eeee" stroke-width="1.1"/><path d="M0.6,-5.87 A5.90,5.90 0 1,0 0.6,5.87 Z" fill="#00eeee" stroke="#00eeee" stroke-width="1.1"/></g><g transform="translate(486.6,864.1)"><path d="M-5.90,0 A5.90,5.90 0 1,1 5.90,0 A5.90,5.90 0 1,1 -5.90,0 Z" fill="#fff" stroke="#00eeee" stroke-width="1.1"/><path d="M0.6,-5.87 A5.90,5.90 0 1,0 0.6,5.87 Z" fill="#00eeee" stroke="#00eeee" stroke-width="1.1"/></g><g transform="translate(491.5,865.9)"><path d="M-5.90,0 A5.90,5.90 0 1,1 5.90,0 A5.90,5.90 0 1,1 -5.90,0 Z" fill="#fff" stroke="#00eeee" stroke-width="1.1"/><path d="M0.6,-5.87 A5.90,5.90 0 1,0 0.6,5.87 Z" fill="#00eeee" stroke="#00eeee" stroke-width="1.1"/></g><g transform="translate(496.5,866.5)"><path d="M-5.90,0 A5.90,5.90 0 1,1 5.90,0 A5.90,5.90 0 1,1 -5.90,0 Z" fill="#fff" stroke="#00eeee" stroke-width="1.1"/><path d="M0.6,-5.87 A5.90,5.90 0 1,0 0.6,5.87 Z" fill="#00eeee" stroke="#00eeee" stroke-width="1.1"/></g><g transform="translate(501.5,866.6)"><path d="M-5.90,0 A5.90,5.90 0 1,1 5.90,0 A5.90,5.90 0 1,1 -5.90,0 Z" fill="#fff" stroke="#00eeee" stroke-width="1.1"/><path d="M0.6,-5.87 A5.90,5.90 0 1,0 0.6,5.87 Z" fill="#00eeee" stroke="#00eeee" stroke-width="1.1"/></g><g transform="translate(506.4,866.7)"><path d="M-5.90,0 A5.90,5.90 0 1,1 5.90,0 A5.90,5.90 0 1,1 -5.90,0 Z" fill="#fff" stroke="#00eeee" stroke-width="1.1"/><path d="M0.6,-5.87 A5.90,5.90 0 1,0 0.6,5.87 Z" fill="#00eeee" stroke="#00eeee" stroke-width="1.1"/></g><g transform="translate(511.4,866.8)"><path d="M-5.90,0 A5.90,5.90 0 1,1 5.90,0 A5.90,5.90 0 1,1 -5.90,0 Z" fill="#fff" stroke="#00eeee" stroke-width="1.1"/><path d="M0.6,-5.87 A5.90,5.90 0 1,0 0.6,5.87 Z" fill="#00eeee" stroke="#00eeee" stroke-width="1.1"/></g><g transform="translate(516.4,867.1)"><path d="M-5.90,0 A5.90,5.90 0 1,1 5.90,0 A5.90,5.90 0 1,1 -5.90,0 Z" fill="#fff" stroke="#00eeee" stroke-width="1.1"/><path d="M0.6,-5.87 A5.90,5.90 0 1,0 0.6,5.87 Z" fill="#00eeee" stroke="#00eeee" stroke-width="1.1"/></g><g transform="translate(521.4,867.4)"><path d="M-5.90,0 A5.90,5.90 0 1,1 5.90,0 A5.90,5.90 0 1,1 -5.90,0 Z" fill="#fff" stroke="#00eeee" stroke-width="1.1"/><path d="M0.6,-5.87 A5.90,5.90 0 1,0 0.6,5.87 Z" fill="#00eeee" stroke="#00eeee" stroke-width="1.1"/></g><g transform="translate(526.3,867.7)"><path d="M-5.90,0 A5.90,5.90 0 1,1 5.90,0 A5.90,5.90 0 1,1 -5.90,0 Z" fill="#fff" stroke="#00eeee" stroke-width="1.1"/><path d="M0.6,-5.87 A5.90,5.90 0 1,0 0.6,5.87 Z" fill="#00eeee" stroke="#00eeee" stroke-width="1.1"/></g><g transform="translate(531.3,868.1)"><path d="M-5.90,0 A5.90,5.90 0 1,1 5.90,0 A5.90,5.90 0 1,1 -5.90,0 Z" fill="#fff" stroke="#00eeee" stroke-width="1.1"/><path d="M0.6,-5.87 A5.90,5.90 0 1,0 0.6,5.87 Z" fill="#00eeee" stroke="#00eeee" stroke-width="1.1"/></g><g transform="translate(536.3,870.4)"><path d="M-5.90,0 A5.90,5.90 0 1,1 5.90,0 A5.90,5.90 0 1,1 -5.90,0 Z" fill="#fff" stroke="#00eeee" stroke-width="1.1"/><path d="M0.6,-5.87 A5.90,5.90 0 1,0 0.6,5.87 Z" fill="#00eeee" stroke="#00eeee" stroke-width="1.1"/></g><g transform="translate(541.2,873.0)"><path d="M-5.90,0 A5.90,5.90 0 1,1 5.90,0 A5.90,5.90 0 1,1 -5.90,0 Z" fill="#fff" stroke="#00eeee" stroke-width="1.1"/><path d="M0.6,-5.87 A5.90,5.90 0 1,0 0.6,5.87 Z" fill="#00eeee" stroke="#00eeee" stroke-width="1.1"/></g><g transform="translate(546.2,874.7)"><path d="M-5.90,0 A5.90,5.90 0 1,1 5.90,0 A5.90,5.90 0 1,1 -5.90,0 Z" fill="#fff" stroke="#00eeee" stroke-width="1.1"/><path d="M0.6,-5.87 A5.90,5.90 0 1,0 0.6,5.87 Z" fill="#00eeee" stroke="#00eeee" stroke-width="1.1"/></g><g transform="translate(551.2,874.4)"><path d="M-5.90,0 A5.90,5.90 0 1,1 5.90,0 A5.90,5.90 0 1,1 -5.90,0 Z" fill="#fff" stroke="#00eeee" stroke-width="1.1"/><path d="M0.6,-5.87 A5.90,5.90 0 1,0 0.6,5.87 Z" fill="#00eeee" stroke="#00eeee" stroke-width="1.1"/></g><g transform="translate(556.1,874.1)"><path d="M-5.90,0 A5.90,5.90 0 1,1 5.90,0 A5.90,5.90 0 1,1 -5.90,0 Z" fill="#fff" stroke="#00eeee" stroke-width="1.1"/><path d="M0.6,-5.87 A5.90,5.90 0 1,0 0.6,5.87 Z" fill="#00eeee" stroke="#00eeee" stroke-width="1.1"/></g><g transform="translate(561.1,873.9)"><path d="M-5.90,0 A5.90,5.90 0 1,1 5.90,0 A5.90,5.90 0 1,1 -5.90,0 Z" fill="#fff" stroke="#00eeee" stroke-width="1.1"/><path d="M0.6,-5.87 A5.90,5.90 0 1,0 0.6,5.87 Z" fill="#00eeee" stroke="#00eeee" stroke-width="1.1"/></g><g transform="translate(566.1,874.0)"><path d="M-5.90,0 A5.90,5.90 0 1,1 5.90,0 A5.90,5.90 0 1,1 -5.90,0 Z" fill="#fff" stroke="#00eeee" stroke-width="1.1"/><path d="M0.6,-5.87 A5.90,5.90 0 1,0 0.6,5.87 Z" fill="#00eeee" stroke="#00eeee" stroke-width="1.1"/></g><g transform="translate(571.1,874.1)"><path d="M-5.90,0 A5.90,5.90 0 1,1 5.90,0 A5.90,5.90 0 1,1 -5.90,0 Z" fill="#fff" stroke="#00eeee" stroke-width="1.1"/><path d="M0.6,-5.87 A5.90,5.90 0 1,0 0.6,5.87 Z" fill="#00eeee" stroke="#00eeee" stroke-width="1.1"/></g><g transform="translate(576.0,874.3)"><path d="M-5.90,0 A5.90,5.90 0 1,1 5.90,0 A5.90,5.90 0 1,1 -5.90,0 Z" fill="#fff" stroke="#00eeee" stroke-width="1.1"/><path d="M0.6,-5.87 A5.90,5.90 0 1,0 0.6,5.87 Z" fill="#00eeee" stroke="#00eeee" stroke-width="1.1"/></g><g transform="translate(581.0,874.4)"><path d="M-5.90,0 A5.90,5.90 0 1,1 5.90,0 A5.90,5.90 0 1,1 -5.90,0 Z" fill="#fff" stroke="#00eeee" stroke-width="1.1"/><path d="M0.6,-5.87 A5.90,5.90 0 1,0 0.6,5.87 Z" fill="#00eeee" stroke="#00eeee" stroke-width="1.1"/></g><g transform="translate(586.0,874.5)"><path d="M-5.90,0 A5.90,5.90 0 1,1 5.90,0 A5.90,5.90 0 1,1 -5.90,0 Z" fill="#fff" stroke="#00eeee" stroke-width="1.1"/><path d="M0.6,-5.87 A5.90,5.90 0 1,0 0.6,5.87 Z" fill="#00eeee" stroke="#00eeee" stroke-width="1.1"/></g><g transform="translate(590.9,874.7)"><path d="M-5.90,0 A5.90,5.90 0 1,1 5.90,0 A5.90,5.90 0 1,1 -5.90,0 Z" fill="#fff" stroke="#00eeee" stroke-width="1.1"/><path d="M0.6,-5.87 A5.90,5.90 0 1,0 0.6,5.87 Z" fill="#00eeee" stroke="#00eeee" stroke-width="1.1"/></g><g transform="translate(595.9,874.8)"><path d="M-5.90,0 A5.90,5.90 0 1,1 5.90,0 A5.90,5.90 0 1,1 -5.90,0 Z" fill="#fff" stroke="#00eeee" stroke-width="1.1"/><path d="M0.6,-5.87 A5.90,5.90 0 1,0 0.6,5.87 Z" fill="#00eeee" stroke="#00eeee" stroke-width="1.1"/></g><g transform="translate(600.9,874.9)"><path d="M-5.90,0 A5.90,5.90 0 1,1 5.90,0 A5.90,5.90 0 1,1 -5.90,0 Z" fill="#fff" stroke="#00eeee" stroke-width="1.1"/><path d="M0.6,-5.87 A5.90,5.90 0 1,0 0.6,5.87 Z" fill="#00eeee" stroke="#00eeee" stroke-width="1.1"/></g><g transform="translate(605.8,875.1)"><path d="M-5.90,0 A5.90,5.90 0 1,1 5.90,0 A5.90,5.90 0 1,1 -5.90,0 Z" fill="#fff" stroke="#00eeee" stroke-width="1.1"/><path d="M0.6,-5.87 A5.90,5.90 0 1,0 0.6,5.87 Z" fill="#00eeee" stroke="#00eeee" stroke-width="1.1"/></g><g transform="translate(610.8,875.2)"><path d="M-5.90,0 A5.90,5.90 0 1,1 5.90,0 A5.90,5.90 0 1,1 -5.90,0 Z" fill="#fff" stroke="#00eeee" stroke-width="1.1"/><path d="M0.6,-5.87 A5.90,5.90 0 1,0 0.6,5.87 Z" fill="#00eeee" stroke="#00eeee" stroke-width="1.1"/></g><g transform="translate(615.8,875.3)"><path d="M-5.90,0 A5.90,5.90 0 1,1 5.90,0 A5.90,5.90 0 1,1 -5.90,0 Z" fill="#fff" stroke="#00eeee" stroke-width="1.1"/><path d="M0.6,-5.87 A5.90,5.90 0 1,0 0.6,5.87 Z" fill="#00eeee" stroke="#00eeee" stroke-width="1.1"/></g><g transform="translate(620.8,875.4)"><path d="M-5.90,0 A5.90,5.90 0 1,1 5.90,0 A5.90,5.90 0 1,1 -5.90,0 Z" fill="#fff" stroke="#00eeee" stroke-width="1.1"/><path d="M0.6,-5.87 A5.90,5.90 0 1,0 0.6,5.87 Z" fill="#00eeee" stroke="#00eeee" stroke-width="1.1"/></g><g transform="translate(625.7,875.6)"><path d="M-5.90,0 A5.90,5.90 0 1,1 5.90,0 A5.90,5.90 0 1,1 -5.90,0 Z" fill="#fff" stroke="#00eeee" stroke-width="1.1"/><path d="M0.6,-5.87 A5.90,5.90 0 1,0 0.6,5.87 Z" fill="#00eeee" stroke="#00eeee" stroke-width="1.1"/></g><g transform="translate(630.7,875.7)"><path d="M-5.90,0 A5.90,5.90 0 1,1 5.90,0 A5.90,5.90 0 1,1 -5.90,0 Z" fill="#fff" stroke="#00eeee" stroke-width="1.1"/><path d="M0.6,-5.87 A5.90,5.90 0 1,0 0.6,5.87 Z" fill="#00eeee" stroke="#00eeee" stroke-width="1.1"/></g>
<path d="M163.5,595.7 L168.5,607.2 L173.5,618.8 L178.4,648.3 L183.4,659.9 L188.4,670.0 L193.3,672.5 L198.3,674.9 L203.3,676.9 L208.2,678.8 L213.2,682.1 L218.2,684.4 L223.2,686.2 L228.1,688.6 L233.1,691.9 L238.1,693.1 L243.0,694.5 L248.0,697.8 L253.0,701.7 L257.9,708.1 L262.9,713.6 L267.9,717.5 L272.9,721.2 L277.8,724.8 L282.8,729.4 L287.8,734.0 L292.7,739.4 L297.7,745.1 L302.7,752.1 L307.6,760.4 L312.6,764.7 L317.6,768.0 L322.6,771.8 L327.5,776.4 L332.5,784.1 L337.5,789.9 L342.4,795.1 L347.4,799.9 L352.4,801.1 L357.3,802.3 L362.3,804.9 L367.3,808.3 L372.3,814.7 L377.2,819.1 L382.2,822.6 L387.2,825.7 L392.1,828.7 L397.1,831.6 L402.1,834.5 L407.0,836.4 L412.0,838.2 L417.0,838.9 L422.0,842.5 L426.9,846.2 L431.9,847.5 L436.9,848.4 L441.8,849.1 L446.8,849.7 L451.8,853.3 L456.8,855.1 L461.7,856.0 L466.7,856.7 L471.7,857.3 L476.6,857.8 L481.6,858.7 L486.6,862.4 L491.5,864.2 L496.5,864.8 L501.5,864.9 L506.4,865.0 L511.4,865.2 L516.4,865.5 L521.4,865.8 L526.3,866.2 L531.3,866.6 L536.3,869.0 L541.2,871.6 L546.2,873.3 L551.2,873.0 L556.1,872.7 L561.1,872.5 L566.1,872.7 L571.1,872.8 L576.0,873.0 L581.0,873.2 L586.0,873.3 L590.9,873.5 L595.9,873.6 L600.9,873.8 L605.8,873.9 L610.8,874.1 L615.8,874.2 L620.8,874.4 L625.7,874.5 L630.7,874.7" stroke="#ff2a2a" stroke-width="1.4" fill="none"/>
<g transform="translate(136.5,511.9)"><path d="M-5.90,0 A5.90,5.90 0 1,1 5.90,0 A5.90,5.90 0 1,1 -5.90,0 Z" fill="#fff" stroke="#00ff00" stroke-width="1.1"/><path d="M-5.81,1 A5.90,5.90 0 1,1 5.81,1 Z" fill="#00ff00" stroke="#00ff00" stroke-width="1.1"/></g>
<g transform="translate(163.5,595.7)"><path d="M-5.90,0 A5.90,5.90 0 1,1 5.90,0 A5.90,5.90 0 1,1 -5.90,0 Z" fill="#fff" stroke="#00ff00" stroke-width="1.1"/><path d="M-5.81,1 A5.90,5.90 0 1,1 5.81,1 Z" fill="#00ff00" stroke="#00ff00" stroke-width="1.1"/></g><g transform="translate(168.5,607.2)"><path d="M-5.90,0 A5.90,5.90 0 1,1 5.90,0 A5.90,5.90 0 1,1 -5.90,0 Z" fill="#fff" stroke="#00ff00" stroke-width="1.1"/><path d="M-5.81,1 A5.90,5.90 0 1,1 5.81,1 Z" fill="#00ff00" stroke="#00ff00" stroke-width="1.1"/></g><g transform="translate(173.5,618.8)"><path d="M-5.90,0 A5.90,5.90 0 1,1 5.90,0 A5.90,5.90 0 1,1 -5.90,0 Z" fill="#fff" stroke="#00ff00" stroke-width="1.1"/><path d="M-5.81,1 A5.90,5.90 0 1,1 5.81,1 Z" fill="#00ff00" stroke="#00ff00" stroke-width="1.1"/></g><g transform="translate(178.4,648.3)"><path d="M-5.90,0 A5.90,5.90 0 1,1 5.90,0 A5.90,5.90 0 1,1 -5.90,0 Z" fill="#fff" stroke="#00ff00" stroke-width="1.1"/><path d="M-5.81,1 A5.90,5.90 0 1,1 5.81,1 Z" fill="#00ff00" stroke="#00ff00" stroke-width="1.1"/></g><g transform="translate(183.4,659.9)"><path d="M-5.90,0 A5.90,5.90 0 1,1 5.90,0 A5.90,5.90 0 1,1 -5.90,0 Z" fill="#fff" stroke="#00ff00" stroke-width="1.1"/><path d="M-5.81,1 A5.90,5.90 0 1,1 5.81,1 Z" fill="#00ff00" stroke="#00ff00" stroke-width="1.1"/></g><g transform="translate(188.4,670.0)"><path d="M-5.90,0 A5.90,5.90 0 1,1 5.90,0 A5.90,5.90 0 1,1 -5.90,0 Z" fill="#fff" stroke="#00ff00" stroke-width="1.1"/><path d="M-5.81,1 A5.90,5.90 0 1,1 5.81,1 Z" fill="#00ff00" stroke="#00ff00" stroke-width="1.1"/></g><g transform="translate(193.3,672.5)"><path d="M-5.90,0 A5.90,5.90 0 1,1 5.90,0 A5.90,5.90 0 1,1 -5.90,0 Z" fill="#fff" stroke="#00ff00" stroke-width="1.1"/><path d="M-5.81,1 A5.90,5.90 0 1,1 5.81,1 Z" fill="#00ff00" stroke="#00ff00" stroke-width="1.1"/></g><g transform="translate(198.3,674.9)"><path d="M-5.90,0 A5.90,5.90 0 1,1 5.90,0 A5.90,5.90 0 1,1 -5.90,0 Z" fill="#fff" stroke="#00ff00" stroke-width="1.1"/><path d="M-5.81,1 A5.90,5.90 0 1,1 5.81,1 Z" fill="#00ff00" stroke="#00ff00" stroke-width="1.1"/></g><g transform="translate(203.3,676.9)"><path d="M-5.90,0 A5.90,5.90 0 1,1 5.90,0 A5.90,5.90 0 1,1 -5.90,0 Z" fill="#fff" stroke="#00ff00" stroke-width="1.1"/><path d="M-5.81,1 A5.90,5.90 0 1,1 5.81,1 Z" fill="#00ff00" stroke="#00ff00" stroke-width="1.1"/></g><g transform="translate(208.2,678.8)"><path d="M-5.90,0 A5.90,5.90 0 1,1 5.90,0 A5.90,5.90 0 1,1 -5.90,0 Z" fill="#fff" stroke="#00ff00" stroke-width="1.1"/><path d="M-5.81,1 A5.90,5.90 0 1,1 5.81,1 Z" fill="#00ff00" stroke="#00ff00" stroke-width="1.1"/></g><g transform="translate(213.2,682.1)"><path d="M-5.90,0 A5.90,5.90 0 1,1 5.90,0 A5.90,5.90 0 1,1 -5.90,0 Z" fill="#fff" stroke="#00ff00" stroke-width="1.1"/><path d="M-5.81,1 A5.90,5.90 0 1,1 5.81,1 Z" fill="#00ff00" stroke="#00ff00" stroke-width="1.1"/></g><g transform="translate(218.2,684.4)"><path d="M-5.90,0 A5.90,5.90 0 1,1 5.90,0 A5.90,5.90 0 1,1 -5.90,0 Z" fill="#fff" stroke="#00ff00" stroke-width="1.1"/><path d="M-5.81,1 A5.90,5.90 0 1,1 5.81,1 Z" fill="#00ff00" stroke="#00ff00" stroke-width="1.1"/></g><g transform="translate(223.2,686.2)"><path d="M-5.90,0 A5.90,5.90 0 1,1 5.90,0 A5.90,5.90 0 1,1 -5.90,0 Z" fill="#fff" stroke="#00ff00" stroke-width="1.1"/><path d="M-5.81,1 A5.90,5.90 0 1,1 5.81,1 Z" fill="#00ff00" stroke="#00ff00" stroke-width="1.1"/></g><g transform="translate(228.1,688.6)"><path d="M-5.90,0 A5.90,5.90 0 1,1 5.90,0 A5.90,5.90 0 1,1 -5.90,0 Z" fill="#fff" stroke="#00ff00" stroke-width="1.1"/><path d="M-5.81,1 A5.90,5.90 0 1,1 5.81,1 Z" fill="#00ff00" stroke="#00ff00" stroke-width="1.1"/></g><g transform="translate(233.1,691.9)"><path d="M-5.90,0 A5.90,5.90 0 1,1 5.90,0 A5.90,5.90 0 1,1 -5.90,0 Z" fill="#fff" stroke="#00ff00" stroke-width="1.1"/><path d="M-5.81,1 A5.90,5.90 0 1,1 5.81,1 Z" fill="#00ff00" stroke="#00ff00" stroke-width="1.1"/></g><g transform="translate(238.1,693.1)"><path d="M-5.90,0 A5.90,5.90 0 1,1 5.90,0 A5.90,5.90 0 1,1 -5.90,0 Z" fill="#fff" stroke="#00ff00" stroke-width="1.1"/><path d="M-5.81,1 A5.90,5.90 0 1,1 5.81,1 Z" fill="#00ff00" stroke="#00ff00" stroke-width="1.1"/></g><g transform="translate(243.0,694.5)"><path d="M-5.90,0 A5.90,5.90 0 1,1 5.90,0 A5.90,5.90 0 1,1 -5.90,0 Z" fill="#fff" stroke="#00ff00" stroke-width="1.1"/><path d="M-5.81,1 A5.90,5.90 0 1,1 5.81,1 Z" fill="#00ff00" stroke="#00ff00" stroke-width="1.1"/></g><g transform="translate(248.0,697.8)"><path d="M-5.90,0 A5.90,5.90 0 1,1 5.90,0 A5.90,5.90 0 1,1 -5.90,0 Z" fill="#fff" stroke="#00ff00" stroke-width="1.1"/><path d="M-5.81,1 A5.90,5.90 0 1,1 5.81,1 Z" fill="#00ff00" stroke="#00ff00" stroke-width="1.1"/></g><g transform="translate(253.0,701.7)"><path d="M-5.90,0 A5.90,5.90 0 1,1 5.90,0 A5.90,5.90 0 1,1 -5.90,0 Z" fill="#fff" stroke="#00ff00" stroke-width="1.1"/><path d="M-5.81,1 A5.90,5.90 0 1,1 5.81,1 Z" fill="#00ff00" stroke="#00ff00" stroke-width="1.1"/></g><g transform="translate(257.9,708.1)"><path d="M-5.90,0 A5.90,5.90 0 1,1 5.90,0 A5.90,5.90 0 1,1 -5.90,0 Z" fill="#fff" stroke="#00ff00" stroke-width="1.1"/><path d="M-5.81,1 A5.90,5.90 0 1,1 5.81,1 Z" fill="#00ff00" stroke="#00ff00" stroke-width="1.1"/></g><g transform="translate(262.9,713.6)"><path d="M-5.90,0 A5.90,5.90 0 1,1 5.90,0 A5.90,5.90 0 1,1 -5.90,0 Z" fill="#fff" stroke="#00ff00" stroke-width="1.1"/><path d="M-5.81,1 A5.90,5.90 0 1,1 5.81,1 Z" fill="#00ff00" stroke="#00ff00" stroke-width="1.1"/></g><g transform="translate(267.9,717.5)"><path d="M-5.90,0 A5.90,5.90 0 1,1 5.90,0 A5.90,5.90 0 1,1 -5.90,0 Z" fill="#fff" stroke="#00ff00" stroke-width="1.1"/><path d="M-5.81,1 A5.90,5.90 0 1,1 5.81,1 Z" fill="#00ff00" stroke="#00ff00" stroke-width="1.1"/></g><g transform="translate(272.9,721.2)"><path d="M-5.90,0 A5.90,5.90 0 1,1 5.90,0 A5.90,5.90 0 1,1 -5.90,0 Z" fill="#fff" stroke="#00ff00" stroke-width="1.1"/><path d="M-5.81,1 A5.90,5.90 0 1,1 5.81,1 Z" fill="#00ff00" stroke="#00ff00" stroke-width="1.1"/></g><g transform="translate(277.8,724.8)"><path d="M-5.90,0 A5.90,5.90 0 1,1 5.90,0 A5.90,5.90 0 1,1 -5.90,0 Z" fill="#fff" stroke="#00ff00" stroke-width="1.1"/><path d="M-5.81,1 A5.90,5.90 0 1,1 5.81,1 Z" fill="#00ff00" stroke="#00ff00" stroke-width="1.1"/></g><g transform="translate(282.8,729.4)"><path d="M-5.90,0 A5.90,5.90 0 1,1 5.90,0 A5.90,5.90 0 1,1 -5.90,0 Z" fill="#fff" stroke="#00ff00" stroke-width="1.1"/><path d="M-5.81,1 A5.90,5.90 0 1,1 5.81,1 Z" fill="#00ff00" stroke="#00ff00" stroke-width="1.1"/></g><g transform="translate(287.8,734.0)"><path d="M-5.90,0 A5.90,5.90 0 1,1 5.90,0 A5.90,5.90 0 1,1 -5.90,0 Z" fill="#fff" stroke="#00ff00" stroke-width="1.1"/><path d="M-5.81,1 A5.90,5.90 0 1,1 5.81,1 Z" fill="#00ff00" stroke="#00ff00" stroke-width="1.1"/></g><g transform="translate(292.7,739.4)"><path d="M-5.90,0 A5.90,5.90 0 1,1 5.90,0 A5.90,5.90 0 1,1 -5.90,0 Z" fill="#fff" stroke="#00ff00" stroke-width="1.1"/><path d="M-5.81,1 A5.90,5.90 0 1,1 5.81,1 Z" fill="#00ff00" stroke="#00ff00" stroke-width="1.1"/></g><g transform="translate(297.7,745.1)"><path d="M-5.90,0 A5.90,5.90 0 1,1 5.90,0 A5.90,5.90 0 1,1 -5.90,0 Z" fill="#fff" stroke="#00ff00" stroke-width="1.1"/><path d="M-5.81,1 A5.90,5.90 0 1,1 5.81,1 Z" fill="#00ff00" stroke="#00ff00" stroke-width="1.1"/></g><g transform="translate(302.7,752.1)"><path d="M-5.90,0 A5.90,5.90 0 1,1 5.90,0 A5.90,5.90 0 1,1 -5.90,0 Z" fill="#fff" stroke="#00ff00" stroke-width="1.1"/><path d="M-5.81,1 A5.90,5.90 0 1,1 5.81,1 Z" fill="#00ff00" stroke="#00ff00" stroke-width="1.1"/></g><g transform="translate(307.6,760.4)"><path d="M-5.90,0 A5.90,5.90 0 1,1 5.90,0 A5.90,5.90 0 1,1 -5.90,0 Z" fill="#fff" stroke="#00ff00" stroke-width="1.1"/><path d="M-5.81,1 A5.90,5.90 0 1,1 5.81,1 Z" fill="#00ff00" stroke="#00ff00" stroke-width="1.1"/></g><g transform="translate(312.6,764.7)"><path d="M-5.90,0 A5.90,5.90 0 1,1 5.90,0 A5.90,5.90 0 1,1 -5.90,0 Z" fill="#fff" stroke="#00ff00" stroke-width="1.1"/><path d="M-5.81,1 A5.90,5.90 0 1,1 5.81,1 Z" fill="#00ff00" stroke="#00ff00" stroke-width="1.1"/></g><g transform="translate(317.6,768.0)"><path d="M-5.90,0 A5.90,5.90 0 1,1 5.90,0 A5.90,5.90 0 1,1 -5.90,0 Z" fill="#fff" stroke="#00ff00" stroke-width="1.1"/><path d="M-5.81,1 A5.90,5.90 0 1,1 5.81,1 Z" fill="#00ff00" stroke="#00ff00" stroke-width="1.1"/></g><g transform="translate(322.6,771.8)"><path d="M-5.90,0 A5.90,5.90 0 1,1 5.90,0 A5.90,5.90 0 1,1 -5.90,0 Z" fill="#fff" stroke="#00ff00" stroke-width="1.1"/><path d="M-5.81,1 A5.90,5.90 0 1,1 5.81,1 Z" fill="#00ff00" stroke="#00ff00" stroke-width="1.1"/></g><g transform="translate(327.5,776.4)"><path d="M-5.90,0 A5.90,5.90 0 1,1 5.90,0 A5.90,5.90 0 1,1 -5.90,0 Z" fill="#fff" stroke="#00ff00" stroke-width="1.1"/><path d="M-5.81,1 A5.90,5.90 0 1,1 5.81,1 Z" fill="#00ff00" stroke="#00ff00" stroke-width="1.1"/></g><g transform="translate(332.5,784.1)"><path d="M-5.90,0 A5.90,5.90 0 1,1 5.90,0 A5.90,5.90 0 1,1 -5.90,0 Z" fill="#fff" stroke="#00ff00" stroke-width="1.1"/><path d="M-5.81,1 A5.90,5.90 0 1,1 5.81,1 Z" fill="#00ff00" stroke="#00ff00" stroke-width="1.1"/></g><g transform="translate(337.5,789.9)"><path d="M-5.90,0 A5.90,5.90 0 1,1 5.90,0 A5.90,5.90 0 1,1 -5.90,0 Z" fill="#fff" stroke="#00ff00" stroke-width="1.1"/><path d="M-5.81,1 A5.90,5.90 0 1,1 5.81,1 Z" fill="#00ff00" stroke="#00ff00" stroke-width="1.1"/></g><g transform="translate(342.4,795.1)"><path d="M-5.90,0 A5.90,5.90 0 1,1 5.90,0 A5.90,5.90 0 1,1 -5.90,0 Z" fill="#fff" stroke="#00ff00" stroke-width="1.1"/><path d="M-5.81,1 A5.90,5.90 0 1,1 5.81,1 Z" fill="#00ff00" stroke="#00ff00" stroke-width="1.1"/></g><g transform="translate(347.4,799.9)"><path d="M-5.90,0 A5.90,5.90 0 1,1 5.90,0 A5.90,5.90 0 1,1 -5.90,0 Z" fill="#fff" stroke="#00ff00" stroke-width="1.1"/><path d="M-5.81,1 A5.90,5.90 0 1,1 5.81,1 Z" fill="#00ff00" stroke="#00ff00" stroke-width="1.1"/></g><g transform="translate(352.4,801.1)"><path d="M-5.90,0 A5.90,5.90 0 1,1 5.90,0 A5.90,5.90 0 1,1 -5.90,0 Z" fill="#fff" stroke="#00ff00" stroke-width="1.1"/><path d="M-5.81,1 A5.90,5.90 0 1,1 5.81,1 Z" fill="#00ff00" stroke="#00ff00" stroke-width="1.1"/></g><g transform="translate(357.3,802.3)"><path d="M-5.90,0 A5.90,5.90 0 1,1 5.90,0 A5.90,5.90 0 1,1 -5.90,0 Z" fill="#fff" stroke="#00ff00" stroke-width="1.1"/><path d="M-5.81,1 A5.90,5.90 0 1,1 5.81,1 Z" fill="#00ff00" stroke="#00ff00" stroke-width="1.1"/></g><g transform="translate(362.3,804.9)"><path d="M-5.90,0 A5.90,5.90 0 1,1 5.90,0 A5.90,5.90 0 1,1 -5.90,0 Z" fill="#fff" stroke="#00ff00" stroke-width="1.1"/><path d="M-5.81,1 A5.90,5.90 0 1,1 5.81,1 Z" fill="#00ff00" stroke="#00ff00" stroke-width="1.1"/></g><g transform="translate(367.3,808.3)"><path d="M-5.90,0 A5.90,5.90 0 1,1 5.90,0 A5.90,5.90 0 1,1 -5.90,0 Z" fill="#fff" stroke="#00ff00" stroke-width="1.1"/><path d="M-5.81,1 A5.90,5.90 0 1,1 5.81,1 Z" fill="#00ff00" stroke="#00ff00" stroke-width="1.1"/></g><g transform="translate(372.3,814.7)"><path d="M-5.90,0 A5.90,5.90 0 1,1 5.90,0 A5.90,5.90 0 1,1 -5.90,0 Z" fill="#fff" stroke="#00ff00" stroke-width="1.1"/><path d="M-5.81,1 A5.90,5.90 0 1,1 5.81,1 Z" fill="#00ff00" stroke="#00ff00" stroke-width="1.1"/></g><g transform="translate(377.2,819.1)"><path d="M-5.90,0 A5.90,5.90 0 1,1 5.90,0 A5.90,5.90 0 1,1 -5.90,0 Z" fill="#fff" stroke="#00ff00" stroke-width="1.1"/><path d="M-5.81,1 A5.90,5.90 0 1,1 5.81,1 Z" fill="#00ff00" stroke="#00ff00" stroke-width="1.1"/></g><g transform="translate(382.2,822.6)"><path d="M-5.90,0 A5.90,5.90 0 1,1 5.90,0 A5.90,5.90 0 1,1 -5.90,0 Z" fill="#fff" stroke="#00ff00" stroke-width="1.1"/><path d="M-5.81,1 A5.90,5.90 0 1,1 5.81,1 Z" fill="#00ff00" stroke="#00ff00" stroke-width="1.1"/></g><g transform="translate(387.2,825.7)"><path d="M-5.90,0 A5.90,5.90 0 1,1 5.90,0 A5.90,5.90 0 1,1 -5.90,0 Z" fill="#fff" stroke="#00ff00" stroke-width="1.1"/><path d="M-5.81,1 A5.90,5.90 0 1,1 5.81,1 Z" fill="#00ff00" stroke="#00ff00" stroke-width="1.1"/></g><g transform="translate(392.1,828.7)"><path d="M-5.90,0 A5.90,5.90 0 1,1 5.90,0 A5.90,5.90 0 1,1 -5.90,0 Z" fill="#fff" stroke="#00ff00" stroke-width="1.1"/><path d="M-5.81,1 A5.90,5.90 0 1,1 5.81,1 Z" fill="#00ff00" stroke="#00ff00" stroke-width="1.1"/></g><g transform="translate(397.1,831.6)"><path d="M-5.90,0 A5.90,5.90 0 1,1 5.90,0 A5.90,5.90 0 1,1 -5.90,0 Z" fill="#fff" stroke="#00ff00" stroke-width="1.1"/><path d="M-5.81,1 A5.90,5.90 0 1,1 5.81,1 Z" fill="#00ff00" stroke="#00ff00" stroke-width="1.1"/></g><g transform="translate(402.1,834.5)"><path d="M-5.90,0 A5.90,5.90 0 1,1 5.90,0 A5.90,5.90 0 1,1 -5.90,0 Z" fill="#fff" stroke="#00ff00" stroke-width="1.1"/><path d="M-5.81,1 A5.90,5.90 0 1,1 5.81,1 Z" fill="#00ff00" stroke="#00ff00" stroke-width="1.1"/></g><g transform="translate(407.0,836.4)"><path d="M-5.90,0 A5.90,5.90 0 1,1 5.90,0 A5.90,5.90 0 1,1 -5.90,0 Z" fill="#fff" stroke="#00ff00" stroke-width="1.1"/><path d="M-5.81,1 A5.90,5.90 0 1,1 5.81,1 Z" fill="#00ff00" stroke="#00ff00" stroke-width="1.1"/></g><g transform="translate(412.0,838.2)"><path d="M-5.90,0 A5.90,5.90 0 1,1 5.90,0 A5.90,5.90 0 1,1 -5.90,0 Z" fill="#fff" stroke="#00ff00" stroke-width="1.1"/><path d="M-5.81,1 A5.90,5.90 0 1,1 5.81,1 Z" fill="#00ff00" stroke="#00ff00" stroke-width="1.1"/></g><g transform="translate(417.0,838.9)"><path d="M-5.90,0 A5.90,5.90 0 1,1 5.90,0 A5.90,5.90 0 1,1 -5.90,0 Z" fill="#fff" stroke="#00ff00" stroke-width="1.1"/><path d="M-5.81,1 A5.90,5.90 0 1,1 5.81,1 Z" fill="#00ff00" stroke="#00ff00" stroke-width="1.1"/></g><g transform="translate(422.0,842.5)"><path d="M-5.90,0 A5.90,5.90 0 1,1 5.90,0 A5.90,5.90 0 1,1 -5.90,0 Z" fill="#fff" stroke="#00ff00" stroke-width="1.1"/><path d="M-5.81,1 A5.90,5.90 0 1,1 5.81,1 Z" fill="#00ff00" stroke="#00ff00" stroke-width="1.1"/></g><g transform="translate(426.9,846.2)"><path d="M-5.90,0 A5.90,5.90 0 1,1 5.90,0 A5.90,5.90 0 1,1 -5.90,0 Z" fill="#fff" stroke="#00ff00" stroke-width="1.1"/><path d="M-5.81,1 A5.90,5.90 0 1,1 5.81,1 Z" fill="#00ff00" stroke="#00ff00" stroke-width="1.1"/></g><g transform="translate(431.9,847.5)"><path d="M-5.90,0 A5.90,5.90 0 1,1 5.90,0 A5.90,5.90 0 1,1 -5.90,0 Z" fill="#fff" stroke="#00ff00" stroke-width="1.1"/><path d="M-5.81,1 A5.90,5.90 0 1,1 5.81,1 Z" fill="#00ff00" stroke="#00ff00" stroke-width="1.1"/></g><g transform="translate(436.9,848.4)"><path d="M-5.90,0 A5.90,5.90 0 1,1 5.90,0 A5.90,5.90 0 1,1 -5.90,0 Z" fill="#fff" stroke="#00ff00" stroke-width="1.1"/><path d="M-5.81,1 A5.90,5.90 0 1,1 5.81,1 Z" fill="#00ff00" stroke="#00ff00" stroke-width="1.1"/></g><g transform="translate(441.8,849.1)"><path d="M-5.90,0 A5.90,5.90 0 1,1 5.90,0 A5.90,5.90 0 1,1 -5.90,0 Z" fill="#fff" stroke="#00ff00" stroke-width="1.1"/><path d="M-5.81,1 A5.90,5.90 0 1,1 5.81,1 Z" fill="#00ff00" stroke="#00ff00" stroke-width="1.1"/></g><g transform="translate(446.8,849.7)"><path d="M-5.90,0 A5.90,5.90 0 1,1 5.90,0 A5.90,5.90 0 1,1 -5.90,0 Z" fill="#fff" stroke="#00ff00" stroke-width="1.1"/><path d="M-5.81,1 A5.90,5.90 0 1,1 5.81,1 Z" fill="#00ff00" stroke="#00ff00" stroke-width="1.1"/></g><g transform="translate(451.8,853.3)"><path d="M-5.90,0 A5.90,5.90 0 1,1 5.90,0 A5.90,5.90 0 1,1 -5.90,0 Z" fill="#fff" stroke="#00ff00" stroke-width="1.1"/><path d="M-5.81,1 A5.90,5.90 0 1,1 5.81,1 Z" fill="#00ff00" stroke="#00ff00" stroke-width="1.1"/></g><g transform="translate(456.8,855.1)"><path d="M-5.90,0 A5.90,5.90 0 1,1 5.90,0 A5.90,5.90 0 1,1 -5.90,0 Z" fill="#fff" stroke="#00ff00" stroke-width="1.1"/><path d="M-5.81,1 A5.90,5.90 0 1,1 5.81,1 Z" fill="#00ff00" stroke="#00ff00" stroke-width="1.1"/></g><g transform="translate(461.7,856.0)"><path d="M-5.90,0 A5.90,5.90 0 1,1 5.90,0 A5.90,5.90 0 1,1 -5.90,0 Z" fill="#fff" stroke="#00ff00" stroke-width="1.1"/><path d="M-5.81,1 A5.90,5.90 0 1,1 5.81,1 Z" fill="#00ff00" stroke="#00ff00" stroke-width="1.1"/></g><g transform="translate(466.7,856.7)"><path d="M-5.90,0 A5.90,5.90 0 1,1 5.90,0 A5.90,5.90 0 1,1 -5.90,0 Z" fill="#fff" stroke="#00ff00" stroke-width="1.1"/><path d="M-5.81,1 A5.90,5.90 0 1,1 5.81,1 Z" fill="#00ff00" stroke="#00ff00" stroke-width="1.1"/></g><g transform="translate(471.7,857.3)"><path d="M-5.90,0 A5.90,5.90 0 1,1 5.90,0 A5.90,5.90 0 1,1 -5.90,0 Z" fill="#fff" stroke="#00ff00" stroke-width="1.1"/><path d="M-5.81,1 A5.90,5.90 0 1,1 5.81,1 Z" fill="#00ff00" stroke="#00ff00" stroke-width="1.1"/></g><g transform="translate(476.6,857.8)"><path d="M-5.90,0 A5.90,5.90 0 1,1 5.90,0 A5.90,5.90 0 1,1 -5.90,0 Z" fill="#fff" stroke="#00ff00" stroke-width="1.1"/><path d="M-5.81,1 A5.90,5.90 0 1,1 5.81,1 Z" fill="#00ff00" stroke="#00ff00" stroke-width="1.1"/></g><g transform="translate(481.6,858.7)"><path d="M-5.90,0 A5.90,5.90 0 1,1 5.90,0 A5.90,5.90 0 1,1 -5.90,0 Z" fill="#fff" stroke="#00ff00" stroke-width="1.1"/><path d="M-5.81,1 A5.90,5.90 0 1,1 5.81,1 Z" fill="#00ff00" stroke="#00ff00" stroke-width="1.1"/></g><g transform="translate(486.6,862.4)"><path d="M-5.90,0 A5.90,5.90 0 1,1 5.90,0 A5.90,5.90 0 1,1 -5.90,0 Z" fill="#fff" stroke="#00ff00" stroke-width="1.1"/><path d="M-5.81,1 A5.90,5.90 0 1,1 5.81,1 Z" fill="#00ff00" stroke="#00ff00" stroke-width="1.1"/></g><g transform="translate(491.5,864.2)"><path d="M-5.90,0 A5.90,5.90 0 1,1 5.90,0 A5.90,5.90 0 1,1 -5.90,0 Z" fill="#fff" stroke="#00ff00" stroke-width="1.1"/><path d="M-5.81,1 A5.90,5.90 0 1,1 5.81,1 Z" fill="#00ff00" stroke="#00ff00" stroke-width="1.1"/></g><g transform="translate(496.5,864.8)"><path d="M-5.90,0 A5.90,5.90 0 1,1 5.90,0 A5.90,5.90 0 1,1 -5.90,0 Z" fill="#fff" stroke="#00ff00" stroke-width="1.1"/><path d="M-5.81,1 A5.90,5.90 0 1,1 5.81,1 Z" fill="#00ff00" stroke="#00ff00" stroke-width="1.1"/></g><g transform="translate(501.5,864.9)"><path d="M-5.90,0 A5.90,5.90 0 1,1 5.90,0 A5.90,5.90 0 1,1 -5.90,0 Z" fill="#fff" stroke="#00ff00" stroke-width="1.1"/><path d="M-5.81,1 A5.90,5.90 0 1,1 5.81,1 Z" fill="#00ff00" stroke="#00ff00" stroke-width="1.1"/></g><g transform="translate(506.4,865.0)"><path d="M-5.90,0 A5.90,5.90 0 1,1 5.90,0 A5.90,5.90 0 1,1 -5.90,0 Z" fill="#fff" stroke="#00ff00" stroke-width="1.1"/><path d="M-5.81,1 A5.90,5.90 0 1,1 5.81,1 Z" fill="#00ff00" stroke="#00ff00" stroke-width="1.1"/></g><g transform="translate(511.4,865.2)"><path d="M-5.90,0 A5.90,5.90 0 1,1 5.90,0 A5.90,5.90 0 1,1 -5.90,0 Z" fill="#fff" stroke="#00ff00" stroke-width="1.1"/><path d="M-5.81,1 A5.90,5.90 0 1,1 5.81,1 Z" fill="#00ff00" stroke="#00ff00" stroke-width="1.1"/></g><g transform="translate(516.4,865.5)"><path d="M-5.90,0 A5.90,5.90 0 1,1 5.90,0 A5.90,5.90 0 1,1 -5.90,0 Z" fill="#fff" stroke="#00ff00" stroke-width="1.1"/><path d="M-5.81,1 A5.90,5.90 0 1,1 5.81,1 Z" fill="#00ff00" stroke="#00ff00" stroke-width="1.1"/></g><g transform="translate(521.4,865.8)"><path d="M-5.90,0 A5.90,5.90 0 1,1 5.90,0 A5.90,5.90 0 1,1 -5.90,0 Z" fill="#fff" stroke="#00ff00" stroke-width="1.1"/><path d="M-5.81,1 A5.90,5.90 0 1,1 5.81,1 Z" fill="#00ff00" stroke="#00ff00" stroke-width="1.1"/></g><g transform="translate(526.3,866.2)"><path d="M-5.90,0 A5.90,5.90 0 1,1 5.90,0 A5.90,5.90 0 1,1 -5.90,0 Z" fill="#fff" stroke="#00ff00" stroke-width="1.1"/><path d="M-5.81,1 A5.90,5.90 0 1,1 5.81,1 Z" fill="#00ff00" stroke="#00ff00" stroke-width="1.1"/></g><g transform="translate(531.3,866.6)"><path d="M-5.90,0 A5.90,5.90 0 1,1 5.90,0 A5.90,5.90 0 1,1 -5.90,0 Z" fill="#fff" stroke="#00ff00" stroke-width="1.1"/><path d="M-5.81,1 A5.90,5.90 0 1,1 5.81,1 Z" fill="#00ff00" stroke="#00ff00" stroke-width="1.1"/></g><g transform="translate(536.3,869.0)"><path d="M-5.90,0 A5.90,5.90 0 1,1 5.90,0 A5.90,5.90 0 1,1 -5.90,0 Z" fill="#fff" stroke="#00ff00" stroke-width="1.1"/><path d="M-5.81,1 A5.90,5.90 0 1,1 5.81,1 Z" fill="#00ff00" stroke="#00ff00" stroke-width="1.1"/></g><g transform="translate(541.2,871.6)"><path d="M-5.90,0 A5.90,5.90 0 1,1 5.90,0 A5.90,5.90 0 1,1 -5.90,0 Z" fill="#fff" stroke="#00ff00" stroke-width="1.1"/><path d="M-5.81,1 A5.90,5.90 0 1,1 5.81,1 Z" fill="#00ff00" stroke="#00ff00" stroke-width="1.1"/></g><g transform="translate(546.2,873.3)"><path d="M-5.90,0 A5.90,5.90 0 1,1 5.90,0 A5.90,5.90 0 1,1 -5.90,0 Z" fill="#fff" stroke="#00ff00" stroke-width="1.1"/><path d="M-5.81,1 A5.90,5.90 0 1,1 5.81,1 Z" fill="#00ff00" stroke="#00ff00" stroke-width="1.1"/></g><g transform="translate(551.2,873.0)"><path d="M-5.90,0 A5.90,5.90 0 1,1 5.90,0 A5.90,5.90 0 1,1 -5.90,0 Z" fill="#fff" stroke="#00ff00" stroke-width="1.1"/><path d="M-5.81,1 A5.90,5.90 0 1,1 5.81,1 Z" fill="#00ff00" stroke="#00ff00" stroke-width="1.1"/></g><g transform="translate(556.1,872.7)"><path d="M-5.90,0 A5.90,5.90 0 1,1 5.90,0 A5.90,5.90 0 1,1 -5.90,0 Z" fill="#fff" stroke="#00ff00" stroke-width="1.1"/><path d="M-5.81,1 A5.90,5.90 0 1,1 5.81,1 Z" fill="#00ff00" stroke="#00ff00" stroke-width="1.1"/></g><g transform="translate(561.1,872.5)"><path d="M-5.90,0 A5.90,5.90 0 1,1 5.90,0 A5.90,5.90 0 1,1 -5.90,0 Z" fill="#fff" stroke="#00ff00" stroke-width="1.1"/><path d="M-5.81,1 A5.90,5.90 0 1,1 5.81,1 Z" fill="#00ff00" stroke="#00ff00" stroke-width="1.1"/></g><g transform="translate(566.1,872.7)"><path d="M-5.90,0 A5.90,5.90 0 1,1 5.90,0 A5.90,5.90 0 1,1 -5.90,0 Z" fill="#fff" stroke="#00ff00" stroke-width="1.1"/><path d="M-5.81,1 A5.90,5.90 0 1,1 5.81,1 Z" fill="#00ff00" stroke="#00ff00" stroke-width="1.1"/></g><g transform="translate(571.1,872.8)"><path d="M-5.90,0 A5.90,5.90 0 1,1 5.90,0 A5.90,5.90 0 1,1 -5.90,0 Z" fill="#fff" stroke="#00ff00" stroke-width="1.1"/><path d="M-5.81,1 A5.90,5.90 0 1,1 5.81,1 Z" fill="#00ff00" stroke="#00ff00" stroke-width="1.1"/></g><g transform="translate(576.0,873.0)"><path d="M-5.90,0 A5.90,5.90 0 1,1 5.90,0 A5.90,5.90 0 1,1 -5.90,0 Z" fill="#fff" stroke="#00ff00" stroke-width="1.1"/><path d="M-5.81,1 A5.90,5.90 0 1,1 5.81,1 Z" fill="#00ff00" stroke="#00ff00" stroke-width="1.1"/></g><g transform="translate(581.0,873.2)"><path d="M-5.90,0 A5.90,5.90 0 1,1 5.90,0 A5.90,5.90 0 1,1 -5.90,0 Z" fill="#fff" stroke="#00ff00" stroke-width="1.1"/><path d="M-5.81,1 A5.90,5.90 0 1,1 5.81,1 Z" fill="#00ff00" stroke="#00ff00" stroke-width="1.1"/></g><g transform="translate(586.0,873.3)"><path d="M-5.90,0 A5.90,5.90 0 1,1 5.90,0 A5.90,5.90 0 1,1 -5.90,0 Z" fill="#fff" stroke="#00ff00" stroke-width="1.1"/><path d="M-5.81,1 A5.90,5.90 0 1,1 5.81,1 Z" fill="#00ff00" stroke="#00ff00" stroke-width="1.1"/></g><g transform="translate(590.9,873.5)"><path d="M-5.90,0 A5.90,5.90 0 1,1 5.90,0 A5.90,5.90 0 1,1 -5.90,0 Z" fill="#fff" stroke="#00ff00" stroke-width="1.1"/><path d="M-5.81,1 A5.90,5.90 0 1,1 5.81,1 Z" fill="#00ff00" stroke="#00ff00" stroke-width="1.1"/></g><g transform="translate(595.9,873.6)"><path d="M-5.90,0 A5.90,5.90 0 1,1 5.90,0 A5.90,5.90 0 1,1 -5.90,0 Z" fill="#fff" stroke="#00ff00" stroke-width="1.1"/><path d="M-5.81,1 A5.90,5.90 0 1,1 5.81,1 Z" fill="#00ff00" stroke="#00ff00" stroke-width="1.1"/></g><g transform="translate(600.9,873.8)"><path d="M-5.90,0 A5.90,5.90 0 1,1 5.90,0 A5.90,5.90 0 1,1 -5.90,0 Z" fill="#fff" stroke="#00ff00" stroke-width="1.1"/><path d="M-5.81,1 A5.90,5.90 0 1,1 5.81,1 Z" fill="#00ff00" stroke="#00ff00" stroke-width="1.1"/></g><g transform="translate(605.8,873.9)"><path d="M-5.90,0 A5.90,5.90 0 1,1 5.90,0 A5.90,5.90 0 1,1 -5.90,0 Z" fill="#fff" stroke="#00ff00" stroke-width="1.1"/><path d="M-5.81,1 A5.90,5.90 0 1,1 5.81,1 Z" fill="#00ff00" stroke="#00ff00" stroke-width="1.1"/></g><g transform="translate(610.8,874.1)"><path d="M-5.90,0 A5.90,5.90 0 1,1 5.90,0 A5.90,5.90 0 1,1 -5.90,0 Z" fill="#fff" stroke="#00ff00" stroke-width="1.1"/><path d="M-5.81,1 A5.90,5.90 0 1,1 5.81,1 Z" fill="#00ff00" stroke="#00ff00" stroke-width="1.1"/></g><g transform="translate(615.8,874.2)"><path d="M-5.90,0 A5.90,5.90 0 1,1 5.90,0 A5.90,5.90 0 1,1 -5.90,0 Z" fill="#fff" stroke="#00ff00" stroke-width="1.1"/><path d="M-5.81,1 A5.90,5.90 0 1,1 5.81,1 Z" fill="#00ff00" stroke="#00ff00" stroke-width="1.1"/></g><g transform="translate(620.8,874.4)"><path d="M-5.90,0 A5.90,5.90 0 1,1 5.90,0 A5.90,5.90 0 1,1 -5.90,0 Z" fill="#fff" stroke="#00ff00" stroke-width="1.1"/><path d="M-5.81,1 A5.90,5.90 0 1,1 5.81,1 Z" fill="#00ff00" stroke="#00ff00" stroke-width="1.1"/></g><g transform="translate(625.7,874.5)"><path d="M-5.90,0 A5.90,5.90 0 1,1 5.90,0 A5.90,5.90 0 1,1 -5.90,0 Z" fill="#fff" stroke="#00ff00" stroke-width="1.1"/><path d="M-5.81,1 A5.90,5.90 0 1,1 5.81,1 Z" fill="#00ff00" stroke="#00ff00" stroke-width="1.1"/></g><g transform="translate(630.7,874.7)"><path d="M-5.90,0 A5.90,5.90 0 1,1 5.90,0 A5.90,5.90 0 1,1 -5.90,0 Z" fill="#fff" stroke="#00ff00" stroke-width="1.1"/><path d="M-5.81,1 A5.90,5.90 0 1,1 5.81,1 Z" fill="#00ff00" stroke="#00ff00" stroke-width="1.1"/></g>
<rect x="374.6" y="504.2" width="263.8" height="97.6" fill="#fff" stroke="#666" stroke-width="1.5"/>
<path d="M377.7,517.0 H422.5" stroke="#ff66dd" stroke-width="1.8"/>
<g transform="translate(400.2,517.0)"><path d="M0.00,-6.60 L6.20,-1.40 L4.20,6.00 L-4.20,6.00 L-6.20,-1.40 Z" fill="#fff" stroke="#3a6a3a" stroke-width="1"/><path d="M-5.66,0.60 L5.66,0.60 L4.20,6.00 L-4.20,6.00 Z" fill="#007a10" stroke="#007a10" stroke-width="1"/></g>
<text transform="translate(427.75,523.00) scale(1.1345,1)" font-size="17.60" fill="#1e1e1e" font-family="Liberation Sans">Charge of Si-Ar-GNs</text>
<path d="M377.7,541.7 H422.5" stroke="#ff66dd" stroke-width="1.8"/>
<g transform="translate(400.2,541.7)"><path d="M0.00,-6.30 L6.00,-3.10 L6.00,3.10 L0.00,6.30 L-6.00,3.10 L-6.00,-3.10 Z" fill="#fff" stroke="#0000ff" stroke-width="1.1"/><path d="M0.00,-6.30 L6.00,-3.10 L6.00,1.00 L-6.00,1.00 L-6.00,-3.10 Z" fill="#0000ff" stroke="#0000ff" stroke-width="1.1"/></g>
<text transform="translate(427.96,547.70) scale(1.1314,1)" font-size="17.60" fill="#1e1e1e" font-family="Liberation Sans">Discharge of Si-Ar-GNs</text>
<path d="M377.7,566.4 H422.5" stroke="#ff2a2a" stroke-width="1.8"/>
<g transform="translate(400.2,566.4)"><path d="M-5.90,0 A5.90,5.90 0 1,1 5.90,0 A5.90,5.90 0 1,1 -5.90,0 Z" fill="#fff" stroke="#00eeee" stroke-width="1.1"/><path d="M0.6,-5.87 A5.90,5.90 0 1,0 0.6,5.87 Z" fill="#00eeee" stroke="#00eeee" stroke-width="1.1"/></g>
<text transform="translate(427.75,572.40) scale(1.1385,1)" font-size="17.60" fill="#1e1e1e" font-family="Liberation Sans">Charge of Si</text>
<path d="M377.7,591.1 H422.5" stroke="#ff2a2a" stroke-width="1.8"/>
<g transform="translate(400.2,591.1)"><path d="M-5.90,0 A5.90,5.90 0 1,1 5.90,0 A5.90,5.90 0 1,1 -5.90,0 Z" fill="#fff" stroke="#00ff00" stroke-width="1.1"/><path d="M-5.81,1 A5.90,5.90 0 1,1 5.81,1 Z" fill="#00ff00" stroke="#00ff00" stroke-width="1.1"/></g>
<text transform="translate(427.96,597.10) scale(1.1287,1)" font-size="17.60" fill="#1e1e1e" font-family="Liberation Sans">Discharge of Si</text>
<path d="M761.6,480.8 H1301.6 V881.0 H761.6 Z" stroke="#111" stroke-width="2.3" fill="none"/>
<path d="M752.6,881.0H761.6M752.6,781.0H761.6M752.6,680.9H761.6M752.6,580.9H761.6M752.6,480.8H761.6M756.6,831.0H761.6M756.6,730.9H761.6M756.6,630.9H761.6M756.6,530.8H761.6" stroke="#111" stroke-width="2"/>
<path d="M761.6,881.0V890.0M829.1,881.0V890.0M896.6,881.0V890.0M964.1,881.0V890.0M1031.6,881.0V890.0M1099.1,881.0V890.0M1166.6,881.0V890.0M1234.1,881.0V890.0M1301.6,881.0V890.0M795.4,881.0V886.0M862.9,881.0V886.0M930.4,881.0V886.0M997.9,881.0V886.0M1065.3,881.0V886.0M1132.8,881.0V886.0M1200.4,881.0V886.0M1267.9,881.0V886.0" stroke="#111" stroke-width="2"/>
<text transform="translate(746.70,886.20) scale(1.0200,1)" font-size="22.00" text-anchor="end" fill="#1e1e1e" font-family="Liberation Sans">0</text>
<text transform="translate(746.70,786.15) scale(1.0200,1)" font-size="22.00" text-anchor="end" fill="#1e1e1e" font-family="Liberation Sans">50</text>
<text transform="translate(746.70,686.10) scale(1.0200,1)" font-size="22.00" text-anchor="end" fill="#1e1e1e" font-family="Liberation Sans">100</text>
<text transform="translate(746.70,586.05) scale(1.0200,1)" font-size="22.00" text-anchor="end" fill="#1e1e1e" font-family="Liberation Sans">150</text>
<text transform="translate(746.70,486.00) scale(1.0200,1)" font-size="22.00" text-anchor="end" fill="#1e1e1e" font-family="Liberation Sans">200</text>
<text transform="translate(761.60,911.00) scale(1.0300,1)" font-size="22.00" text-anchor="middle" fill="#1e1e1e" font-family="Liberation Sans">0</text>
<text transform="translate(829.10,911.00) scale(1.0300,1)" font-size="22.00" text-anchor="middle" fill="#1e1e1e" font-family="Liberation Sans">100</text>
<text transform="translate(896.60,911.00) scale(1.0300,1)" font-size="22.00" text-anchor="middle" fill="#1e1e1e" font-family="Liberation Sans">200</text>
<text transform="translate(964.10,911.00) scale(1.0300,1)" font-size="22.00" text-anchor="middle" fill="#1e1e1e" font-family="Liberation Sans">300</text>
<text transform="translate(1031.60,911.00) scale(1.0300,1)" font-size="22.00" text-anchor="middle" fill="#1e1e1e" font-family="Liberation Sans">400</text>
<text transform="translate(1099.10,911.00) scale(1.0300,1)" font-size="22.00" text-anchor="middle" fill="#1e1e1e" font-family="Liberation Sans">500</text>
<text transform="translate(1166.60,911.00) scale(1.0300,1)" font-size="22.00" text-anchor="middle" fill="#1e1e1e" font-family="Liberation Sans">600</text>
<text transform="translate(1234.10,911.00) scale(1.0300,1)" font-size="22.00" text-anchor="middle" fill="#1e1e1e" font-family="Liberation Sans">700</text>
<text transform="translate(1301.60,911.00) scale(1.0300,1)" font-size="22.00" text-anchor="middle" fill="#1e1e1e" font-family="Liberation Sans">800</text>
<text transform="translate(983.38,934.20) scale(1.1151,1)" font-size="20.00" fill="#1e1e1e" font-family="Liberation Sans">Z' re / ohm</text>
<text transform="translate(700.30,738.78) rotate(-90) scale(1.0548,1)" font-size="20.00" fill="#1e1e1e" font-family="Liberation Sans">Z'' img / ohm</text>
<text transform="translate(772.40,550.20) scale(1.0059,1)" font-size="78.00" fill="#000" font-family="Liberation Serif">d</text>
<path d="M772.8,874.5 L776.1,871.5 L778.4,868.8 L780.4,866.0 L782.2,863.0 L783.9,860.0 L785.6,857.1 L787.4,854.4 L789.5,851.6 L792.0,849.0 L794.9,846.7 L797.9,844.6 L801.0,842.7 L804.1,841.4 L807.4,840.8 L810.7,841.2 L814.0,842.6 L817.0,844.8 L819.8,847.2 L822.3,849.4 L825.0,851.6 L828.0,853.8 L831.5,855.3 L835.3,855.5 L839.0,854.2 L841.4,851.9 L843.7,849.0 L845.8,846.1 L848.0,843.2 L850.1,840.6 L852.2,838.0 L854.4,835.3 L856.7,832.6 L859.0,830.0 L861.3,827.4 L864.3,824.5 L866.7,822.4 L869.3,820.4 L872.0,818.5 L874.6,816.6 L877.6,814.6 L880.7,812.6 L883.9,810.6 L887.0,808.7 L890.0,807.0 L893.1,805.0 L895.5,803.3 L904.3,796.5 L912.5,788.5 L921.8,779.6 L932.7,767.4 L945.5,748.8 L958.7,727.0 L979.2,701.1 L996.6,677.8 L1022.2,636.7" stroke="#3333ff" stroke-width="1.1" fill="none"/>
<rect x="768.1" y="869.8" width="9.4" height="9.4" fill="#0000f0"/><rect x="771.4" y="866.8" width="9.4" height="9.4" fill="#0000f0"/><rect x="773.7" y="864.1" width="9.4" height="9.4" fill="#0000f0"/><rect x="775.7" y="861.3" width="9.4" height="9.4" fill="#0000f0"/><rect x="777.5" y="858.3" width="9.4" height="9.4" fill="#0000f0"/><rect x="779.2" y="855.3" width="9.4" height="9.4" fill="#0000f0"/><rect x="780.9" y="852.4" width="9.4" height="9.4" fill="#0000f0"/><rect x="782.7" y="849.7" width="9.4" height="9.4" fill="#0000f0"/><rect x="784.8" y="846.9" width="9.4" height="9.4" fill="#0000f0"/><rect x="787.3" y="844.3" width="9.4" height="9.4" fill="#0000f0"/><rect x="790.2" y="842.0" width="9.4" height="9.4" fill="#0000f0"/><rect x="793.2" y="839.9" width="9.4" height="9.4" fill="#0000f0"/><rect x="796.3" y="838.0" width="9.4" height="9.4" fill="#0000f0"/><rect x="799.4" y="836.7" width="9.4" height="9.4" fill="#0000f0"/><rect x="802.7" y="836.1" width="9.4" height="9.4" fill="#0000f0"/><rect x="806.0" y="836.5" width="9.4" height="9.4" fill="#0000f0"/><rect x="809.3" y="837.9" width="9.4" height="9.4" fill="#0000f0"/><rect x="812.3" y="840.1" width="9.4" height="9.4" fill="#0000f0"/><rect x="815.1" y="842.5" width="9.4" height="9.4" fill="#0000f0"/><rect x="817.6" y="844.7" width="9.4" height="9.4" fill="#0000f0"/><rect x="820.3" y="846.9" width="9.4" height="9.4" fill="#0000f0"/><rect x="823.3" y="849.1" width="9.4" height="9.4" fill="#0000f0"/><rect x="826.8" y="850.6" width="9.4" height="9.4" fill="#0000f0"/><rect x="830.6" y="850.8" width="9.4" height="9.4" fill="#0000f0"/><rect x="834.3" y="849.5" width="9.4" height="9.4" fill="#0000f0"/><rect x="836.7" y="847.2" width="9.4" height="9.4" fill="#0000f0"/><rect x="839.0" y="844.3" width="9.4" height="9.4" fill="#0000f0"/><rect x="841.1" y="841.4" width="9.4" height="9.4" fill="#0000f0"/><rect x="843.3" y="838.5" width="9.4" height="9.4" fill="#0000f0"/><rect x="845.4" y="835.9" width="9.4" height="9.4" fill="#0000f0"/><rect x="847.5" y="833.3" width="9.4" height="9.4" fill="#0000f0"/><rect x="849.7" y="830.6" width="9.4" height="9.4" fill="#0000f0"/><rect x="852.0" y="827.9" width="9.4" height="9.4" fill="#0000f0"/><rect x="854.3" y="825.3" width="9.4" height="9.4" fill="#0000f0"/><rect x="856.6" y="822.7" width="9.4" height="9.4" fill="#0000f0"/><rect x="859.6" y="819.8" width="9.4" height="9.4" fill="#0000f0"/><rect x="862.0" y="817.7" width="9.4" height="9.4" fill="#0000f0"/><rect x="864.6" y="815.7" width="9.4" height="9.4" fill="#0000f0"/><rect x="867.3" y="813.8" width="9.4" height="9.4" fill="#0000f0"/><rect x="869.9" y="811.9" width="9.4" height="9.4" fill="#0000f0"/><rect x="872.9" y="809.9" width="9.4" height="9.4" fill="#0000f0"/><rect x="876.0" y="807.9" width="9.4" height="9.4" fill="#0000f0"/><rect x="879.2" y="805.9" width="9.4" height="9.4" fill="#0000f0"/><rect x="882.3" y="804.0" width="9.4" height="9.4" fill="#0000f0"/><rect x="885.3" y="802.3" width="9.4" height="9.4" fill="#0000f0"/><rect x="888.4" y="800.3" width="9.4" height="9.4" fill="#0000f0"/><rect x="890.8" y="798.6" width="9.4" height="9.4" fill="#0000f0"/><rect x="899.6" y="791.8" width="9.4" height="9.4" fill="#0000f0"/><rect x="907.8" y="783.8" width="9.4" height="9.4" fill="#0000f0"/><rect x="917.1" y="774.9" width="9.4" height="9.4" fill="#0000f0"/><rect x="928.0" y="762.7" width="9.4" height="9.4" fill="#0000f0"/><rect x="940.8" y="744.1" width="9.4" height="9.4" fill="#0000f0"/><rect x="954.0" y="722.3" width="9.4" height="9.4" fill="#0000f0"/><rect x="974.5" y="696.4" width="9.4" height="9.4" fill="#0000f0"/><rect x="991.9" y="673.1" width="9.4" height="9.4" fill="#0000f0"/><rect x="1017.5" y="632.0" width="9.4" height="9.4" fill="#0000f0"/>
<path d="M773.4,875.2 L775.0,872.8 L776.5,870.5 L777.8,868.6 L779.1,866.8 L780.5,864.9 L782.0,863.0 L783.5,861.1 L785.0,859.3 L786.5,857.6 L788.0,856.0 L789.7,854.4 L791.4,852.9 L793.1,851.5 L794.9,850.2 L797.3,848.4 L799.5,846.7 L800.5,846.0 L805.0,843.1 L813.9,836.8 L825.0,830.0 L838.1,823.1 L853.4,815.8 L870.7,808.9 L890.7,801.6 L912.6,794.6 L937.9,789.5 L964.4,786.3 L990.9,785.3 L1017.4,786.3 L1043.0,789.5 L1065.5,794.0 L1085.1,798.8 L1101.9,801.8 L1116.0,803.0 L1129.6,800.9 L1142.5,795.3 L1154.9,784.7 L1168.2,769.4 L1183.8,747.0 L1206.5,714.5 L1230.1,674.1 L1261.1,621.7 L1298.8,556.2" stroke="#22dd55" stroke-width="1.1" fill="none"/>
<circle cx="773.4" cy="875.2" r="5.4" fill="#00ee00"/><circle cx="775.0" cy="872.8" r="5.4" fill="#00ee00"/><circle cx="776.5" cy="870.5" r="5.4" fill="#00ee00"/><circle cx="777.8" cy="868.6" r="5.4" fill="#00ee00"/><circle cx="779.1" cy="866.8" r="5.4" fill="#00ee00"/><circle cx="780.5" cy="864.9" r="5.4" fill="#00ee00"/><circle cx="782.0" cy="863.0" r="5.4" fill="#00ee00"/><circle cx="783.5" cy="861.1" r="5.4" fill="#00ee00"/><circle cx="785.0" cy="859.3" r="5.4" fill="#00ee00"/><circle cx="786.5" cy="857.6" r="5.4" fill="#00ee00"/><circle cx="788.0" cy="856.0" r="5.4" fill="#00ee00"/><circle cx="789.7" cy="854.4" r="5.4" fill="#00ee00"/><circle cx="791.4" cy="852.9" r="5.4" fill="#00ee00"/><circle cx="793.1" cy="851.5" r="5.4" fill="#00ee00"/><circle cx="794.9" cy="850.2" r="5.4" fill="#00ee00"/><circle cx="797.3" cy="848.4" r="5.4" fill="#00ee00"/><circle cx="799.5" cy="846.7" r="5.4" fill="#00ee00"/><circle cx="800.5" cy="846.0" r="5.4" fill="#00ee00"/><circle cx="805.0" cy="843.1" r="5.4" fill="#00ee00"/><circle cx="813.9" cy="836.8" r="5.4" fill="#00ee00"/><circle cx="825.0" cy="830.0" r="5.4" fill="#00ee00"/><circle cx="838.1" cy="823.1" r="5.4" fill="#00ee00"/><circle cx="853.4" cy="815.8" r="5.4" fill="#00ee00"/><circle cx="870.7" cy="808.9" r="5.4" fill="#00ee00"/><circle cx="890.7" cy="801.6" r="5.4" fill="#00ee00"/><circle cx="912.6" cy="794.6" r="5.4" fill="#00ee00"/><circle cx="937.9" cy="789.5" r="5.4" fill="#00ee00"/><circle cx="964.4" cy="786.3" r="5.4" fill="#00ee00"/><circle cx="990.9" cy="785.3" r="5.4" fill="#00ee00"/><circle cx="1017.4" cy="786.3" r="5.4" fill="#00ee00"/><circle cx="1043.0" cy="789.5" r="5.4" fill="#00ee00"/><circle cx="1065.5" cy="794.0" r="5.4" fill="#00ee00"/><circle cx="1085.1" cy="798.8" r="5.4" fill="#00ee00"/><circle cx="1101.9" cy="801.8" r="5.4" fill="#00ee00"/><circle cx="1116.0" cy="803.0" r="5.4" fill="#00ee00"/><circle cx="1129.6" cy="800.9" r="5.4" fill="#00ee00"/><circle cx="1142.5" cy="795.3" r="5.4" fill="#00ee00"/><circle cx="1154.9" cy="784.7" r="5.4" fill="#00ee00"/><circle cx="1168.2" cy="769.4" r="5.4" fill="#00ee00"/><circle cx="1183.8" cy="747.0" r="5.4" fill="#00ee00"/><circle cx="1206.5" cy="714.5" r="5.4" fill="#00ee00"/><circle cx="1230.1" cy="674.1" r="5.4" fill="#00ee00"/><circle cx="1261.1" cy="621.7" r="5.4" fill="#00ee00"/><circle cx="1298.8" cy="556.2" r="5.4" fill="#00ee00"/>
<rect x="1144.5" y="501" width="135.5" height="44.4" fill="#fff" stroke="#555" stroke-width="1.5"/>
<path d="M1146.5,512.6 H1188" stroke="#3333ff" stroke-width="1.2"/><rect x="1163.3" y="507.9" width="9.4" height="9.4" fill="#0000f0"/>
<path d="M1146.5,533.8 H1188" stroke="#22dd55" stroke-width="1.2"/><circle cx="1168" cy="533.8" r="5.4" fill="#00ee00"/>
<text transform="translate(1193.83,517.60) scale(1.0917,1)" font-size="16.60" fill="#1e1e1e" font-family="Liberation Sans">Si-Ar-GNs</text>
<text transform="translate(1193.68,538.80) scale(1.0857,1)" font-size="16.60" fill="#1e1e1e" font-family="Liberation Sans">pure Si</text>
<rect x="1302.6" y="548" width="8" height="16" fill="#fff"/>
<path d="M1301.6,548 V564" stroke="#111" stroke-width="2.3" fill="none"/>
</svg></body></html>
